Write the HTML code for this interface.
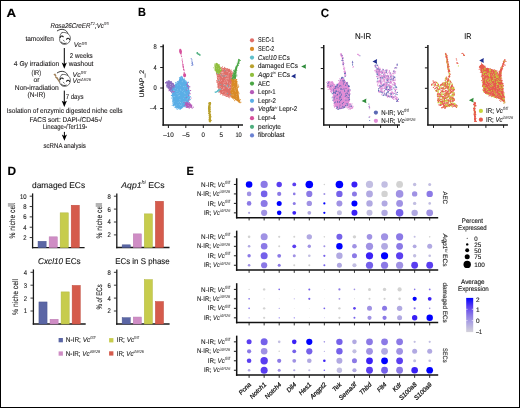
<!DOCTYPE html>
<html><head><meta charset="utf-8"><style>
html,body{margin:0;padding:0;background:#fff;}
body{width:520px;height:408px;overflow:hidden;position:relative;}
svg{position:absolute;left:0;top:0;display:block;will-change:transform;}
text{stroke:#222;stroke-width:0.12px;text-rendering:geometricPrecision;}
#frame{position:absolute;left:0;top:0;width:520px;height:408px;box-sizing:border-box;border:1px solid #000;pointer-events:none;}
</style></head><body>
<svg width="520" height="408" viewBox="0 0 520 408" style="font-family:'Liberation Sans',sans-serif"><text x="6.5" y="17.0" font-size="12" fill="#000" font-weight="bold" textLength="9.6" lengthAdjust="spacingAndGlyphs" style="stroke:#000;stroke-width:0.15px">A</text>
<text x="137.9" y="16.2" font-size="12" fill="#000" font-weight="bold" textLength="7.9" lengthAdjust="spacingAndGlyphs" style="stroke:#000;stroke-width:0.15px">B</text>
<text x="320.7" y="16.9" font-size="12" fill="#000" font-weight="bold" textLength="8.3" lengthAdjust="spacingAndGlyphs" style="stroke:#000;stroke-width:0.15px">C</text>
<text x="7.5" y="174.7" font-size="12" fill="#000" font-weight="bold" textLength="8.6" lengthAdjust="spacingAndGlyphs" style="stroke:#000;stroke-width:0.15px">D</text>
<text x="186.5" y="174.8" font-size="12" fill="#000" font-weight="bold" textLength="7.3" lengthAdjust="spacingAndGlyphs" style="stroke:#000;stroke-width:0.15px">E</text>
<text x="50.4" y="27.9" font-size="7.0" fill="#231f20" textLength="58.4" lengthAdjust="spacingAndGlyphs"><tspan font-style="italic">Rosa26CreER</tspan><tspan font-size="4.3" dy="-2.6" font-style="italic" style="stroke:none">T2</tspan><tspan dy="2.6" font-style="italic">;Vc</tspan><tspan font-size="4.3" dy="-2.6" font-style="italic" style="stroke:none">fl/fl</tspan></text>
<text x="25.4" y="40.5" font-size="7.0" fill="#231f20" textLength="28.4" lengthAdjust="spacingAndGlyphs">tamoxifen</text>
<text x="73.8" y="47.4" font-size="7.0" fill="#231f20" textLength="13.1" lengthAdjust="spacingAndGlyphs"><tspan font-style="italic">Vc</tspan><tspan font-size="4.3" dy="-2.6" font-style="italic" style="stroke:none">fl/fl</tspan></text>
<text x="69.7" y="58.3" font-size="7.0" fill="#231f20" textLength="23.0" lengthAdjust="spacingAndGlyphs">2 weeks</text>
<text x="68.8" y="65.6" font-size="7.0" fill="#231f20" textLength="24.6" lengthAdjust="spacingAndGlyphs">washout</text>
<text x="13.8" y="65.9" font-size="7.0" fill="#231f20" textLength="45.5" lengthAdjust="spacingAndGlyphs">4 Gy irradiation</text>
<text x="31.6" y="74.7" font-size="7.0" fill="#231f20" textLength="9.5" lengthAdjust="spacingAndGlyphs">(IR)</text>
<text x="33.4" y="81.6" font-size="7.0" fill="#231f20" textLength="6.0" lengthAdjust="spacingAndGlyphs">or</text>
<text x="14.8" y="89.8" font-size="7.0" fill="#231f20" textLength="44.0" lengthAdjust="spacingAndGlyphs">Non-irradiation</text>
<text x="27.6" y="96.8" font-size="7.0" fill="#231f20" textLength="17.9" lengthAdjust="spacingAndGlyphs">(N-IR)</text>
<text x="72.6" y="76.7" font-size="7.0" fill="#231f20" textLength="13.5" lengthAdjust="spacingAndGlyphs"><tspan font-style="italic">Vc</tspan><tspan font-size="4.3" dy="-2.6" font-style="italic" style="stroke:none">fl/fl</tspan></text>
<text x="72.6" y="83.3" font-size="7.0" fill="#231f20" textLength="18.4" lengthAdjust="spacingAndGlyphs"><tspan font-style="italic">Vc</tspan><tspan font-size="4.3" dy="-2.6" font-style="italic" style="stroke:none">i&#916;R26</tspan></text>
<text x="65.7" y="98.5" font-size="7.0" fill="#231f20" textLength="17.8" lengthAdjust="spacingAndGlyphs">7 days</text>
<text x="6.8" y="113.4" font-size="7.0" fill="#231f20" textLength="115.7" lengthAdjust="spacingAndGlyphs">Isolation of enzymic digested niche cells</text>
<text x="29.4" y="121.6" font-size="7.0" fill="#231f20" textLength="72.7" lengthAdjust="spacingAndGlyphs">FACS sort: DAPI-/CD45-/</text>
<text x="42.7" y="128.6" font-size="7.0" fill="#231f20" textLength="44.6" lengthAdjust="spacingAndGlyphs">Lineage-/Ter119-</text>
<text x="43.5" y="148.1" font-size="7.0" fill="#231f20" textLength="42.4" lengthAdjust="spacingAndGlyphs">scRNA analysis</text>
<line x1="64.3" y1="48.0" x2="64.3" y2="64.8" stroke="#000" stroke-width="1"/>
<path d="M61.699999999999996,62.599999999999994 L64.3,64.0 L66.89999999999999,62.599999999999994 L64.3,68.8 Z" fill="#000"/>
<line x1="64.3" y1="90.6" x2="64.3" y2="102.9" stroke="#000" stroke-width="1"/>
<path d="M61.699999999999996,100.7 L64.3,102.10000000000001 L66.89999999999999,100.7 L64.3,106.9 Z" fill="#000"/>
<line x1="64.4" y1="131.9" x2="64.4" y2="136.7" stroke="#000" stroke-width="1"/>
<path d="M61.800000000000004,134.5 L64.4,135.89999999999998 L67.0,134.5 L64.4,140.7 Z" fill="#000"/>
<g transform="translate(0,0)" fill="none" stroke="#111" stroke-linecap="round"><path d="M57.3,30.8 C59.5,29.2 62.5,28.9 64.5,29.9 C66,30.5 67.2,31.7 67.8,33.2" stroke-width="0.95" stroke="#333"/><path d="M62,32.6 C66,31.6 70.4,34.2 70.4,38.2 C70.4,42 67.5,44.6 64.2,44.4 C61,44.2 59.3,41.6 59.6,38.6 C59.8,35.6 60.6,33.2 62,32.6" stroke-width="0.65" stroke="#222"/><path d="M60.2,37.4 C60.8,35.8 62.6,35.6 63.2,36.8" stroke-width="1.1"/><path d="M66.6,39.2 C67.3,37.8 69.2,37.9 69.6,39.4" stroke-width="1.1"/><path d="M61.3,42.2 C62.5,43.6 64.6,43.9 66.2,43.2" stroke-width="0.8"/><path d="M63.4,40.2 L64.2,41.2" stroke-width="0.6"/></g>
<g transform="translate(0,42.0)" fill="none" stroke="#111" stroke-linecap="round"><path d="M57.3,30.8 C59.5,29.2 62.5,28.9 64.5,29.9 C66,30.5 67.2,31.7 67.8,33.2" stroke-width="0.95" stroke="#333"/><path d="M62,32.6 C66,31.6 70.4,34.2 70.4,38.2 C70.4,42 67.5,44.6 64.2,44.4 C61,44.2 59.3,41.6 59.6,38.6 C59.8,35.6 60.6,33.2 62,32.6" stroke-width="0.65" stroke="#222"/><path d="M60.2,37.4 C60.8,35.8 62.6,35.6 63.2,36.8" stroke-width="1.1"/><path d="M66.6,39.2 C67.3,37.8 69.2,37.9 69.6,39.4" stroke-width="1.1"/><path d="M61.3,42.2 C62.5,43.6 64.6,43.9 66.2,43.2" stroke-width="0.8"/><path d="M63.4,40.2 L64.2,41.2" stroke-width="0.6"/></g>
<path d="M53.4,74.2 L55.2,73.4 L56.4,75.6 L56.0,76.4 L57.8,77.6 L60.0,82.2 L59.2,82.4 L56.4,78.6 L55.2,77.8 L55.4,76.6 Z" fill="#a08058"/>
<path d="M166.20,82.40 L168.00,80.60 L170.60,81.20 L173.00,83.20 L174.80,86.00 L175.20,89.60 L173.40,91.40 L170.60,91.00 L168.40,88.80 L166.60,85.80 Z" fill="#8c6cbe"/>
<g fill="#8c6cbe"><circle cx="169.29" cy="88.34" r="0.55"/><circle cx="169.18" cy="89.70" r="0.55"/><circle cx="167.28" cy="87.14" r="0.55"/><circle cx="170.78" cy="90.87" r="0.55"/><circle cx="166.79" cy="81.70" r="0.55"/><circle cx="165.60" cy="82.86" r="0.55"/><circle cx="168.31" cy="81.02" r="0.55"/><circle cx="167.26" cy="81.65" r="0.55"/><circle cx="173.52" cy="84.15" r="0.55"/><circle cx="168.85" cy="82.76" r="0.55"/><circle cx="169.68" cy="81.39" r="0.55"/><circle cx="174.57" cy="86.01" r="0.55"/><circle cx="169.15" cy="82.01" r="0.55"/><circle cx="166.75" cy="81.94" r="0.55"/><circle cx="170.48" cy="91.14" r="0.55"/><circle cx="174.37" cy="85.61" r="0.55"/><circle cx="174.12" cy="90.29" r="0.55"/><circle cx="171.35" cy="81.81" r="0.55"/><circle cx="169.65" cy="90.39" r="0.55"/><circle cx="174.84" cy="85.39" r="0.55"/><circle cx="172.74" cy="91.54" r="0.55"/><circle cx="175.87" cy="89.00" r="0.55"/><circle cx="165.73" cy="82.69" r="0.55"/><circle cx="166.94" cy="85.43" r="0.55"/><circle cx="174.01" cy="85.37" r="0.55"/><circle cx="173.81" cy="91.76" r="0.55"/><circle cx="172.51" cy="83.81" r="0.55"/><circle cx="172.19" cy="83.19" r="0.55"/><circle cx="173.57" cy="92.32" r="0.55"/><circle cx="166.83" cy="85.79" r="0.55"/><circle cx="169.13" cy="87.86" r="0.55"/><circle cx="166.82" cy="85.61" r="0.55"/><circle cx="166.73" cy="86.77" r="0.55"/><circle cx="175.50" cy="87.16" r="0.55"/><circle cx="168.05" cy="88.07" r="0.55"/><circle cx="173.43" cy="83.92" r="0.55"/><circle cx="169.05" cy="80.58" r="0.55"/><circle cx="165.97" cy="82.50" r="0.55"/><circle cx="166.03" cy="82.61" r="0.55"/><circle cx="171.21" cy="81.84" r="0.55"/></g>
<g fill="#ffffff" fill-opacity="0.35"><circle cx="169.18" cy="88.52" r="0.45"/><circle cx="170.90" cy="90.83" r="0.45"/><circle cx="171.51" cy="90.57" r="0.45"/><circle cx="170.47" cy="84.46" r="0.45"/><circle cx="169.01" cy="80.96" r="0.45"/><circle cx="166.81" cy="83.96" r="0.45"/><circle cx="167.43" cy="81.38" r="0.45"/><circle cx="170.28" cy="84.57" r="0.45"/><circle cx="166.96" cy="85.71" r="0.45"/><circle cx="172.16" cy="84.70" r="0.45"/><circle cx="167.02" cy="81.85" r="0.45"/><circle cx="168.51" cy="85.10" r="0.45"/><circle cx="172.45" cy="85.54" r="0.45"/><circle cx="170.36" cy="86.45" r="0.45"/><circle cx="170.87" cy="86.16" r="0.45"/></g>
<path d="M181.00,76.00 L182.60,77.40 L184.40,80.00 L186.80,82.60 L188.80,86.50 L189.50,91.00 L189.30,96.00 L189.50,100.00 L187.40,104.00 L184.00,106.80 L180.20,108.80 L176.50,108.00 L173.40,105.00 L172.40,100.00 L172.00,95.00 L172.80,90.00 L174.20,87.00 L175.80,84.60 L177.80,82.00 L179.60,78.80 Z" fill="#5aaee6"/>
<g fill="#5aaee6"><circle cx="181.32" cy="108.05" r="0.55"/><circle cx="186.86" cy="83.72" r="0.55"/><circle cx="184.15" cy="106.74" r="0.55"/><circle cx="180.46" cy="79.28" r="0.55"/><circle cx="172.43" cy="93.07" r="0.55"/><circle cx="185.82" cy="104.97" r="0.55"/><circle cx="188.93" cy="100.00" r="0.55"/><circle cx="179.76" cy="109.01" r="0.55"/><circle cx="184.30" cy="79.11" r="0.55"/><circle cx="188.24" cy="91.79" r="0.55"/><circle cx="171.43" cy="97.98" r="0.55"/><circle cx="180.36" cy="77.60" r="0.55"/><circle cx="179.47" cy="77.99" r="0.55"/><circle cx="180.81" cy="107.79" r="0.55"/><circle cx="173.97" cy="102.89" r="0.55"/><circle cx="188.32" cy="101.60" r="0.55"/><circle cx="187.14" cy="83.76" r="0.55"/><circle cx="173.38" cy="104.79" r="0.55"/><circle cx="172.95" cy="88.33" r="0.55"/><circle cx="177.42" cy="83.14" r="0.55"/><circle cx="175.44" cy="106.17" r="0.55"/><circle cx="189.73" cy="91.81" r="0.55"/><circle cx="185.81" cy="80.73" r="0.55"/><circle cx="171.51" cy="91.88" r="0.55"/><circle cx="172.48" cy="101.72" r="0.55"/><circle cx="178.27" cy="108.13" r="0.55"/><circle cx="188.48" cy="82.52" r="0.55"/><circle cx="182.08" cy="107.41" r="0.55"/><circle cx="182.07" cy="76.78" r="0.55"/><circle cx="176.45" cy="84.72" r="0.55"/><circle cx="190.37" cy="99.62" r="0.55"/><circle cx="188.92" cy="92.54" r="0.55"/><circle cx="172.13" cy="89.46" r="0.55"/><circle cx="171.42" cy="90.33" r="0.55"/><circle cx="185.57" cy="82.23" r="0.55"/><circle cx="176.03" cy="82.79" r="0.55"/><circle cx="175.66" cy="82.73" r="0.55"/><circle cx="180.75" cy="77.05" r="0.55"/><circle cx="174.07" cy="86.35" r="0.55"/><circle cx="187.70" cy="84.48" r="0.55"/><circle cx="182.73" cy="79.32" r="0.55"/><circle cx="178.30" cy="81.79" r="0.55"/><circle cx="177.59" cy="82.94" r="0.55"/><circle cx="172.85" cy="103.70" r="0.55"/><circle cx="173.18" cy="95.01" r="0.55"/><circle cx="174.98" cy="86.95" r="0.55"/><circle cx="186.98" cy="104.25" r="0.55"/><circle cx="189.78" cy="96.66" r="0.55"/><circle cx="175.09" cy="107.27" r="0.55"/><circle cx="177.60" cy="81.58" r="0.55"/><circle cx="189.53" cy="98.72" r="0.55"/><circle cx="171.56" cy="95.42" r="0.55"/><circle cx="176.02" cy="82.74" r="0.55"/><circle cx="181.22" cy="78.08" r="0.55"/><circle cx="173.51" cy="105.73" r="0.55"/><circle cx="190.49" cy="96.86" r="0.55"/><circle cx="189.58" cy="90.68" r="0.55"/><circle cx="173.59" cy="104.01" r="0.55"/><circle cx="188.26" cy="86.69" r="0.55"/><circle cx="186.70" cy="82.28" r="0.55"/><circle cx="175.22" cy="107.62" r="0.55"/><circle cx="176.29" cy="83.74" r="0.55"/><circle cx="173.63" cy="89.84" r="0.55"/><circle cx="175.29" cy="84.87" r="0.55"/><circle cx="188.11" cy="81.98" r="0.55"/><circle cx="188.51" cy="85.48" r="0.55"/><circle cx="185.95" cy="82.53" r="0.55"/><circle cx="174.90" cy="86.66" r="0.55"/><circle cx="184.37" cy="80.14" r="0.55"/><circle cx="175.36" cy="107.10" r="0.55"/><circle cx="175.36" cy="85.31" r="0.55"/><circle cx="173.09" cy="102.83" r="0.55"/><circle cx="177.16" cy="109.37" r="0.55"/><circle cx="188.37" cy="95.73" r="0.55"/><circle cx="177.29" cy="81.86" r="0.55"/><circle cx="173.58" cy="104.87" r="0.55"/><circle cx="182.73" cy="107.77" r="0.55"/><circle cx="179.47" cy="80.05" r="0.55"/><circle cx="182.33" cy="106.87" r="0.55"/><circle cx="175.31" cy="84.34" r="0.55"/><circle cx="189.55" cy="97.27" r="0.55"/><circle cx="181.50" cy="76.41" r="0.55"/><circle cx="172.67" cy="93.11" r="0.55"/><circle cx="173.37" cy="105.39" r="0.55"/><circle cx="176.73" cy="108.29" r="0.55"/><circle cx="179.81" cy="79.64" r="0.55"/><circle cx="185.05" cy="80.23" r="0.55"/><circle cx="172.80" cy="100.87" r="0.55"/><circle cx="188.61" cy="95.09" r="0.55"/><circle cx="171.43" cy="95.60" r="0.55"/><circle cx="179.42" cy="77.81" r="0.55"/><circle cx="185.31" cy="106.42" r="0.55"/><circle cx="184.00" cy="106.13" r="0.55"/><circle cx="189.35" cy="92.88" r="0.55"/><circle cx="179.00" cy="108.71" r="0.55"/><circle cx="180.41" cy="108.42" r="0.55"/><circle cx="173.16" cy="89.08" r="0.55"/><circle cx="188.57" cy="85.65" r="0.55"/><circle cx="188.81" cy="102.92" r="0.55"/><circle cx="172.43" cy="94.01" r="0.55"/><circle cx="188.12" cy="87.35" r="0.55"/><circle cx="171.95" cy="91.35" r="0.55"/><circle cx="172.21" cy="105.30" r="0.55"/><circle cx="181.23" cy="108.54" r="0.55"/><circle cx="180.65" cy="108.00" r="0.55"/><circle cx="185.19" cy="104.87" r="0.55"/><circle cx="189.43" cy="98.18" r="0.55"/><circle cx="188.24" cy="101.71" r="0.55"/><circle cx="184.16" cy="79.06" r="0.55"/><circle cx="182.55" cy="77.29" r="0.55"/><circle cx="186.49" cy="81.80" r="0.55"/><circle cx="187.74" cy="102.97" r="0.55"/><circle cx="189.07" cy="97.36" r="0.55"/><circle cx="185.36" cy="82.42" r="0.55"/><circle cx="189.38" cy="97.23" r="0.55"/><circle cx="188.12" cy="86.80" r="0.55"/><circle cx="179.18" cy="107.54" r="0.55"/><circle cx="189.25" cy="93.32" r="0.55"/><circle cx="180.52" cy="109.09" r="0.55"/><circle cx="172.94" cy="87.79" r="0.55"/></g>
<g fill="#ffffff" fill-opacity="0.35"><circle cx="187.94" cy="95.80" r="0.45"/><circle cx="184.16" cy="92.23" r="0.45"/><circle cx="185.37" cy="86.76" r="0.45"/><circle cx="183.50" cy="86.73" r="0.45"/><circle cx="187.86" cy="86.58" r="0.45"/><circle cx="179.72" cy="95.51" r="0.45"/><circle cx="187.79" cy="98.54" r="0.45"/><circle cx="176.89" cy="93.39" r="0.45"/><circle cx="189.37" cy="91.03" r="0.45"/><circle cx="184.77" cy="92.93" r="0.45"/><circle cx="173.48" cy="103.18" r="0.45"/><circle cx="172.42" cy="98.21" r="0.45"/><circle cx="182.23" cy="102.11" r="0.45"/><circle cx="184.93" cy="88.08" r="0.45"/><circle cx="178.83" cy="81.08" r="0.45"/><circle cx="182.34" cy="81.82" r="0.45"/><circle cx="173.57" cy="90.90" r="0.45"/><circle cx="186.96" cy="102.63" r="0.45"/><circle cx="179.40" cy="95.09" r="0.45"/><circle cx="177.35" cy="93.89" r="0.45"/><circle cx="177.85" cy="84.98" r="0.45"/><circle cx="172.45" cy="97.44" r="0.45"/><circle cx="173.71" cy="102.77" r="0.45"/><circle cx="179.39" cy="99.36" r="0.45"/><circle cx="180.56" cy="105.77" r="0.45"/><circle cx="177.92" cy="91.06" r="0.45"/><circle cx="178.13" cy="102.48" r="0.45"/><circle cx="180.54" cy="102.40" r="0.45"/><circle cx="173.27" cy="96.28" r="0.45"/><circle cx="172.81" cy="100.83" r="0.45"/><circle cx="173.56" cy="91.24" r="0.45"/><circle cx="181.47" cy="76.80" r="0.45"/><circle cx="174.84" cy="96.83" r="0.45"/><circle cx="183.97" cy="86.52" r="0.45"/><circle cx="178.81" cy="93.35" r="0.45"/><circle cx="176.80" cy="105.06" r="0.45"/><circle cx="180.25" cy="99.97" r="0.45"/><circle cx="180.42" cy="102.25" r="0.45"/><circle cx="177.47" cy="82.48" r="0.45"/><circle cx="178.29" cy="95.30" r="0.45"/><circle cx="182.50" cy="91.48" r="0.45"/><circle cx="180.90" cy="90.50" r="0.45"/><circle cx="187.65" cy="89.20" r="0.45"/><circle cx="182.97" cy="106.90" r="0.45"/><circle cx="181.63" cy="103.99" r="0.45"/><circle cx="180.48" cy="89.21" r="0.45"/><circle cx="188.72" cy="97.66" r="0.45"/><circle cx="187.10" cy="89.10" r="0.45"/><circle cx="185.91" cy="101.39" r="0.45"/><circle cx="179.88" cy="84.09" r="0.45"/><circle cx="179.38" cy="104.69" r="0.45"/><circle cx="179.28" cy="101.32" r="0.45"/><circle cx="174.53" cy="105.79" r="0.45"/><circle cx="184.98" cy="96.32" r="0.45"/><circle cx="181.03" cy="77.74" r="0.45"/><circle cx="182.01" cy="81.85" r="0.45"/><circle cx="175.58" cy="106.05" r="0.45"/><circle cx="178.16" cy="96.17" r="0.45"/><circle cx="181.24" cy="105.18" r="0.45"/><circle cx="185.10" cy="93.82" r="0.45"/><circle cx="180.85" cy="76.62" r="0.45"/><circle cx="183.94" cy="101.63" r="0.45"/><circle cx="179.23" cy="92.21" r="0.45"/><circle cx="177.53" cy="89.30" r="0.45"/><circle cx="183.68" cy="98.17" r="0.45"/><circle cx="185.07" cy="101.73" r="0.45"/><circle cx="174.13" cy="90.61" r="0.45"/><circle cx="187.11" cy="99.35" r="0.45"/><circle cx="180.32" cy="85.63" r="0.45"/><circle cx="173.98" cy="101.32" r="0.45"/><circle cx="186.98" cy="103.70" r="0.45"/><circle cx="184.59" cy="105.57" r="0.45"/><circle cx="174.66" cy="96.59" r="0.45"/><circle cx="188.41" cy="100.59" r="0.45"/><circle cx="188.70" cy="100.76" r="0.45"/><circle cx="181.72" cy="78.85" r="0.45"/><circle cx="175.30" cy="88.35" r="0.45"/><circle cx="176.79" cy="91.41" r="0.45"/><circle cx="183.21" cy="90.66" r="0.45"/><circle cx="182.88" cy="80.31" r="0.45"/></g>
<path d="M192.04,107.01 L191.53,107.56 L190.67,107.85 L189.55,107.85 L188.32,107.55 L187.13,107.00 L186.11,106.25 L185.39,105.39 L185.06,104.54 L185.16,103.79 L185.67,103.24 L186.53,102.95 L187.65,102.95 L188.88,103.25 L190.07,103.80 L191.09,104.55 L191.81,105.41 L192.14,106.26 Z" fill="#b45ab8"/>
<g fill="#b45ab8"><circle cx="186.09" cy="107.46" r="0.55"/><circle cx="192.15" cy="108.18" r="0.55"/><circle cx="190.47" cy="104.02" r="0.55"/><circle cx="190.22" cy="104.05" r="0.55"/><circle cx="186.97" cy="107.42" r="0.55"/><circle cx="189.51" cy="102.84" r="0.55"/><circle cx="186.72" cy="102.17" r="0.55"/><circle cx="191.57" cy="105.86" r="0.55"/><circle cx="189.71" cy="104.34" r="0.55"/><circle cx="185.33" cy="103.13" r="0.55"/><circle cx="191.56" cy="106.78" r="0.55"/><circle cx="191.65" cy="105.68" r="0.55"/><circle cx="191.79" cy="105.01" r="0.55"/><circle cx="191.80" cy="107.57" r="0.55"/><circle cx="184.80" cy="105.23" r="0.55"/><circle cx="189.24" cy="108.32" r="0.55"/><circle cx="188.95" cy="107.31" r="0.55"/><circle cx="193.21" cy="107.14" r="0.55"/><circle cx="187.21" cy="106.26" r="0.55"/><circle cx="188.38" cy="107.08" r="0.55"/><circle cx="185.87" cy="102.48" r="0.55"/><circle cx="186.75" cy="105.99" r="0.55"/><circle cx="189.17" cy="102.90" r="0.55"/><circle cx="187.53" cy="106.59" r="0.55"/><circle cx="187.81" cy="102.41" r="0.55"/><circle cx="186.63" cy="106.91" r="0.55"/><circle cx="187.38" cy="103.26" r="0.55"/><circle cx="187.56" cy="107.20" r="0.55"/><circle cx="191.04" cy="107.23" r="0.55"/><circle cx="190.97" cy="105.17" r="0.55"/></g>
<g fill="#ffffff" fill-opacity="0.35"><circle cx="189.48" cy="106.33" r="0.45"/><circle cx="190.43" cy="106.64" r="0.45"/><circle cx="190.99" cy="107.14" r="0.45"/><circle cx="187.96" cy="105.08" r="0.45"/><circle cx="189.07" cy="107.39" r="0.45"/><circle cx="188.78" cy="105.52" r="0.45"/></g>
<g fill="#b45ab8"><circle cx="191.11" cy="97.95" r="0.5"/><circle cx="190.41" cy="93.87" r="0.5"/><circle cx="189.23" cy="99.68" r="0.5"/><circle cx="187.62" cy="83.06" r="0.5"/><circle cx="186.28" cy="97.59" r="0.5"/><circle cx="186.47" cy="103.31" r="0.5"/><circle cx="190.71" cy="90.45" r="0.5"/><circle cx="186.42" cy="90.07" r="0.5"/><circle cx="183.97" cy="102.15" r="0.5"/><circle cx="189.76" cy="86.95" r="0.5"/><circle cx="187.78" cy="85.64" r="0.5"/><circle cx="189.24" cy="92.89" r="0.5"/><circle cx="186.75" cy="84.62" r="0.5"/><circle cx="188.84" cy="87.98" r="0.5"/><circle cx="187.43" cy="85.03" r="0.5"/><circle cx="190.35" cy="90.57" r="0.5"/><circle cx="189.72" cy="86.46" r="0.5"/><circle cx="187.58" cy="82.73" r="0.5"/><circle cx="188.49" cy="95.13" r="0.5"/><circle cx="188.72" cy="100.42" r="0.5"/><circle cx="187.59" cy="86.52" r="0.5"/><circle cx="189.23" cy="94.93" r="0.5"/><circle cx="184.30" cy="105.86" r="0.5"/><circle cx="188.51" cy="88.68" r="0.5"/><circle cx="188.81" cy="86.78" r="0.5"/></g>
<g fill="#b45ab8"><circle cx="171.81" cy="91.89" r="0.5"/><circle cx="171.84" cy="91.84" r="0.5"/><circle cx="168.94" cy="90.66" r="0.5"/><circle cx="173.69" cy="92.04" r="0.5"/><circle cx="172.95" cy="91.49" r="0.5"/><circle cx="171.51" cy="92.79" r="0.5"/><circle cx="169.99" cy="89.77" r="0.5"/><circle cx="173.98" cy="91.58" r="0.5"/><circle cx="169.30" cy="89.01" r="0.5"/><circle cx="174.42" cy="86.82" r="0.5"/></g>
<g fill="#d6509c"><circle cx="180.73" cy="54.03" r="0.45"/><circle cx="182.54" cy="60.06" r="0.45"/><circle cx="182.65" cy="64.08" r="0.45"/><circle cx="184.14" cy="72.33" r="0.45"/><circle cx="183.13" cy="67.74" r="0.45"/><circle cx="183.05" cy="65.20" r="0.45"/><circle cx="183.27" cy="66.70" r="0.45"/><circle cx="182.70" cy="62.88" r="0.45"/><circle cx="183.74" cy="68.47" r="0.45"/><circle cx="183.82" cy="69.64" r="0.45"/><circle cx="183.81" cy="69.78" r="0.45"/><circle cx="184.02" cy="72.98" r="0.45"/><circle cx="183.33" cy="66.93" r="0.45"/><circle cx="184.56" cy="75.81" r="0.45"/><circle cx="181.11" cy="53.64" r="0.45"/><circle cx="182.00" cy="60.26" r="0.45"/><circle cx="183.62" cy="67.00" r="0.45"/><circle cx="183.12" cy="64.50" r="0.45"/><circle cx="183.77" cy="69.82" r="0.45"/><circle cx="181.16" cy="55.19" r="0.45"/><circle cx="181.61" cy="56.69" r="0.45"/><circle cx="183.99" cy="69.76" r="0.45"/><circle cx="183.21" cy="67.44" r="0.45"/><circle cx="183.63" cy="69.16" r="0.45"/><circle cx="184.17" cy="72.14" r="0.45"/><circle cx="184.29" cy="70.78" r="0.45"/><circle cx="183.01" cy="64.38" r="0.45"/><circle cx="182.55" cy="61.50" r="0.45"/><circle cx="182.07" cy="58.34" r="0.45"/><circle cx="183.28" cy="66.75" r="0.45"/><circle cx="182.77" cy="63.34" r="0.45"/><circle cx="183.51" cy="69.25" r="0.45"/><circle cx="183.63" cy="69.36" r="0.45"/><circle cx="183.94" cy="70.59" r="0.45"/><circle cx="183.09" cy="66.91" r="0.45"/><circle cx="182.73" cy="65.01" r="0.45"/><circle cx="184.54" cy="76.18" r="0.45"/><circle cx="182.98" cy="65.06" r="0.45"/><circle cx="181.18" cy="54.60" r="0.45"/><circle cx="184.64" cy="74.93" r="0.45"/><circle cx="184.83" cy="75.80" r="0.45"/><circle cx="185.00" cy="75.88" r="0.45"/><circle cx="183.39" cy="67.14" r="0.45"/><circle cx="184.18" cy="73.02" r="0.45"/><circle cx="182.41" cy="62.50" r="0.45"/><circle cx="181.99" cy="59.86" r="0.45"/><circle cx="184.48" cy="75.22" r="0.45"/><circle cx="181.42" cy="56.28" r="0.45"/><circle cx="182.92" cy="66.55" r="0.45"/><circle cx="183.18" cy="66.06" r="0.45"/><circle cx="184.15" cy="74.43" r="0.45"/><circle cx="181.74" cy="56.64" r="0.45"/><circle cx="184.17" cy="73.14" r="0.45"/><circle cx="182.41" cy="61.52" r="0.45"/><circle cx="180.84" cy="53.63" r="0.45"/></g>
<path d="M181.84,51.21 L181.88,52.14 L181.77,52.97 L181.49,53.62 L181.10,54.00 L180.64,54.07 L180.16,53.81 L179.72,53.26 L179.37,52.49 L179.16,51.59 L179.12,50.66 L179.23,49.83 L179.51,49.18 L179.90,48.80 L180.36,48.73 L180.84,48.99 L181.28,49.54 L181.63,50.31 Z" fill="#d6509c"/>
<path d="M186.10,75.20 L186.01,75.88 L185.75,76.49 L185.35,76.93 L184.86,77.17 L184.34,77.17 L183.85,76.93 L183.45,76.49 L183.19,75.88 L183.10,75.20 L183.19,74.52 L183.45,73.91 L183.85,73.47 L184.34,73.23 L184.86,73.23 L185.35,73.47 L185.75,73.91 L186.01,74.52 Z" fill="#d6509c"/>
<g fill="#6b82d2"><circle cx="192.48" cy="64.70" r="0.45"/><circle cx="192.93" cy="64.71" r="0.45"/><circle cx="192.26" cy="63.03" r="0.45"/><circle cx="192.91" cy="64.34" r="0.45"/><circle cx="192.29" cy="63.30" r="0.45"/><circle cx="191.91" cy="59.50" r="0.45"/><circle cx="192.03" cy="61.57" r="0.45"/><circle cx="191.26" cy="58.53" r="0.45"/><circle cx="191.59" cy="63.38" r="0.45"/><circle cx="192.22" cy="62.39" r="0.45"/><circle cx="192.64" cy="62.74" r="0.45"/><circle cx="192.36" cy="63.49" r="0.45"/><circle cx="191.03" cy="58.70" r="0.45"/><circle cx="192.47" cy="64.14" r="0.45"/><circle cx="191.87" cy="60.05" r="0.45"/><circle cx="191.85" cy="65.21" r="0.45"/><circle cx="191.91" cy="65.19" r="0.45"/><circle cx="191.91" cy="61.85" r="0.45"/><circle cx="191.99" cy="60.14" r="0.45"/><circle cx="192.85" cy="65.37" r="0.45"/><circle cx="192.56" cy="63.10" r="0.45"/><circle cx="192.01" cy="62.17" r="0.45"/></g>
<g fill="#4fae7e"><circle cx="197.09" cy="53.42" r="0.5"/><circle cx="197.76" cy="53.07" r="0.5"/><circle cx="199.23" cy="54.82" r="0.5"/><circle cx="198.93" cy="53.93" r="0.5"/><circle cx="198.56" cy="53.88" r="0.5"/><circle cx="197.99" cy="54.12" r="0.5"/><circle cx="199.09" cy="53.88" r="0.5"/><circle cx="198.37" cy="54.15" r="0.5"/><circle cx="197.99" cy="53.94" r="0.5"/><circle cx="197.36" cy="52.81" r="0.5"/><circle cx="197.16" cy="53.42" r="0.5"/><circle cx="199.89" cy="55.13" r="0.5"/><circle cx="197.05" cy="52.52" r="0.5"/><circle cx="199.60" cy="54.86" r="0.5"/><circle cx="197.32" cy="52.58" r="0.5"/><circle cx="200.08" cy="54.94" r="0.5"/><circle cx="197.32" cy="53.02" r="0.5"/><circle cx="199.89" cy="54.62" r="0.5"/></g>
<g fill="#b9a12e"><circle cx="208.86" cy="107.40" r="0.65"/><circle cx="209.64" cy="117.91" r="0.65"/><circle cx="209.07" cy="111.92" r="0.65"/><circle cx="210.22" cy="120.45" r="0.65"/><circle cx="208.77" cy="106.65" r="0.65"/><circle cx="209.84" cy="120.36" r="0.65"/><circle cx="208.60" cy="109.16" r="0.65"/><circle cx="210.55" cy="116.12" r="0.65"/><circle cx="210.15" cy="120.00" r="0.65"/><circle cx="210.35" cy="117.98" r="0.65"/><circle cx="209.99" cy="118.94" r="0.65"/><circle cx="208.54" cy="108.34" r="0.65"/><circle cx="210.08" cy="104.79" r="0.65"/><circle cx="209.76" cy="120.05" r="0.65"/><circle cx="209.49" cy="109.70" r="0.65"/><circle cx="210.25" cy="118.81" r="0.65"/><circle cx="209.38" cy="119.60" r="0.65"/><circle cx="209.34" cy="103.75" r="0.65"/><circle cx="209.22" cy="109.64" r="0.65"/><circle cx="209.00" cy="108.14" r="0.65"/><circle cx="210.51" cy="114.75" r="0.65"/><circle cx="209.83" cy="109.83" r="0.65"/><circle cx="209.04" cy="102.90" r="0.65"/><circle cx="209.79" cy="116.12" r="0.65"/><circle cx="209.61" cy="103.30" r="0.65"/><circle cx="209.59" cy="112.93" r="0.65"/><circle cx="209.83" cy="103.73" r="0.65"/><circle cx="210.48" cy="111.35" r="0.65"/><circle cx="208.96" cy="109.88" r="0.65"/><circle cx="210.15" cy="117.98" r="0.65"/><circle cx="209.75" cy="111.99" r="0.65"/><circle cx="208.81" cy="111.61" r="0.65"/><circle cx="209.31" cy="107.62" r="0.65"/><circle cx="209.31" cy="107.39" r="0.65"/><circle cx="209.54" cy="120.38" r="0.65"/><circle cx="209.54" cy="121.42" r="0.65"/><circle cx="210.02" cy="118.86" r="0.65"/><circle cx="209.25" cy="117.32" r="0.65"/><circle cx="209.66" cy="119.55" r="0.65"/><circle cx="209.69" cy="115.81" r="0.65"/><circle cx="209.97" cy="104.45" r="0.65"/><circle cx="209.75" cy="102.76" r="0.65"/><circle cx="209.61" cy="110.07" r="0.65"/><circle cx="209.42" cy="105.41" r="0.65"/><circle cx="209.09" cy="108.84" r="0.65"/><circle cx="209.66" cy="115.78" r="0.65"/><circle cx="209.69" cy="110.43" r="0.65"/><circle cx="209.55" cy="109.50" r="0.65"/><circle cx="210.13" cy="114.88" r="0.65"/><circle cx="209.57" cy="109.43" r="0.65"/><circle cx="210.84" cy="116.58" r="0.65"/><circle cx="209.23" cy="119.43" r="0.65"/><circle cx="210.10" cy="119.57" r="0.65"/><circle cx="209.05" cy="108.39" r="0.65"/><circle cx="210.18" cy="115.52" r="0.65"/><circle cx="210.12" cy="103.22" r="0.65"/><circle cx="209.73" cy="111.73" r="0.65"/><circle cx="209.90" cy="109.11" r="0.65"/><circle cx="209.36" cy="115.91" r="0.65"/><circle cx="209.69" cy="107.31" r="0.65"/><circle cx="210.08" cy="115.60" r="0.65"/><circle cx="209.29" cy="105.94" r="0.65"/><circle cx="209.73" cy="113.33" r="0.65"/><circle cx="208.96" cy="104.82" r="0.65"/><circle cx="209.65" cy="104.83" r="0.65"/><circle cx="209.94" cy="116.75" r="0.65"/><circle cx="209.20" cy="106.27" r="0.65"/><circle cx="209.78" cy="114.43" r="0.65"/><circle cx="209.47" cy="121.30" r="0.65"/><circle cx="209.67" cy="111.54" r="0.65"/><circle cx="210.80" cy="120.37" r="0.65"/><circle cx="209.44" cy="107.59" r="0.65"/><circle cx="209.40" cy="115.35" r="0.65"/><circle cx="209.42" cy="109.89" r="0.65"/><circle cx="209.72" cy="105.47" r="0.65"/><circle cx="209.90" cy="121.75" r="0.65"/><circle cx="209.52" cy="109.32" r="0.65"/><circle cx="209.32" cy="112.86" r="0.65"/><circle cx="210.48" cy="119.94" r="0.65"/><circle cx="209.86" cy="118.55" r="0.65"/><circle cx="209.94" cy="103.73" r="0.65"/><circle cx="208.94" cy="110.93" r="0.65"/><circle cx="209.90" cy="106.75" r="0.65"/><circle cx="210.06" cy="116.37" r="0.65"/><circle cx="209.38" cy="113.60" r="0.65"/><circle cx="209.67" cy="115.50" r="0.65"/><circle cx="209.69" cy="119.21" r="0.65"/><circle cx="209.09" cy="110.99" r="0.65"/><circle cx="210.54" cy="119.78" r="0.65"/><circle cx="210.28" cy="119.47" r="0.65"/><circle cx="209.94" cy="119.55" r="0.65"/><circle cx="209.71" cy="107.65" r="0.65"/><circle cx="209.48" cy="110.15" r="0.65"/><circle cx="209.09" cy="108.63" r="0.65"/><circle cx="209.34" cy="113.11" r="0.65"/><circle cx="209.46" cy="113.25" r="0.65"/><circle cx="209.91" cy="117.15" r="0.65"/><circle cx="209.34" cy="115.45" r="0.65"/><circle cx="209.54" cy="105.10" r="0.65"/><circle cx="209.55" cy="117.71" r="0.65"/><circle cx="209.84" cy="103.02" r="0.65"/><circle cx="209.84" cy="109.24" r="0.65"/><circle cx="209.65" cy="106.57" r="0.65"/><circle cx="209.45" cy="114.38" r="0.65"/><circle cx="209.77" cy="106.06" r="0.65"/><circle cx="209.37" cy="108.03" r="0.65"/><circle cx="208.70" cy="113.53" r="0.65"/><circle cx="209.24" cy="120.67" r="0.65"/><circle cx="209.82" cy="120.73" r="0.65"/><circle cx="209.63" cy="112.85" r="0.65"/><circle cx="210.15" cy="102.90" r="0.65"/><circle cx="209.03" cy="113.21" r="0.65"/><circle cx="209.86" cy="119.59" r="0.65"/><circle cx="210.23" cy="103.69" r="0.65"/><circle cx="208.83" cy="107.50" r="0.65"/><circle cx="208.96" cy="107.12" r="0.65"/><circle cx="209.59" cy="108.38" r="0.65"/><circle cx="209.86" cy="112.69" r="0.65"/><circle cx="210.65" cy="117.20" r="0.65"/><circle cx="210.91" cy="120.54" r="0.65"/><circle cx="209.25" cy="110.33" r="0.65"/><circle cx="210.10" cy="119.83" r="0.65"/><circle cx="209.59" cy="105.12" r="0.65"/><circle cx="209.43" cy="108.67" r="0.65"/><circle cx="209.90" cy="107.79" r="0.65"/><circle cx="210.43" cy="121.64" r="0.65"/><circle cx="209.70" cy="108.46" r="0.65"/><circle cx="210.07" cy="103.73" r="0.65"/><circle cx="209.88" cy="107.55" r="0.65"/><circle cx="209.39" cy="106.53" r="0.65"/><circle cx="209.45" cy="104.91" r="0.65"/><circle cx="209.25" cy="108.29" r="0.65"/><circle cx="209.12" cy="105.35" r="0.65"/><circle cx="209.27" cy="109.63" r="0.65"/><circle cx="209.25" cy="110.15" r="0.65"/><circle cx="208.88" cy="103.29" r="0.65"/><circle cx="209.42" cy="118.70" r="0.65"/><circle cx="209.69" cy="117.19" r="0.65"/><circle cx="209.70" cy="103.68" r="0.65"/><circle cx="209.88" cy="113.79" r="0.65"/><circle cx="209.59" cy="111.57" r="0.65"/><circle cx="210.84" cy="120.59" r="0.65"/><circle cx="210.05" cy="119.62" r="0.65"/><circle cx="209.62" cy="118.16" r="0.65"/><circle cx="209.88" cy="120.26" r="0.65"/><circle cx="209.95" cy="119.50" r="0.65"/><circle cx="210.40" cy="102.66" r="0.65"/><circle cx="210.38" cy="116.49" r="0.65"/><circle cx="210.58" cy="103.57" r="0.65"/><circle cx="209.87" cy="114.33" r="0.65"/></g>
<path d="M217.00,69.00 L219.50,68.20 L223.00,68.00 L226.50,68.60 L230.00,69.80 L232.20,72.00 L232.80,75.50 L232.40,79.50 L231.80,85.00 L231.20,91.00 L231.60,97.40 L228.60,96.80 L225.00,95.60 L221.80,94.00 L219.60,92.40 L218.20,89.50 L217.60,86.00 L217.20,81.00 L216.80,75.00 Z" fill="#df6e68"/>
<g fill="#df6e68"><circle cx="221.18" cy="92.95" r="0.55"/><circle cx="218.88" cy="90.11" r="0.55"/><circle cx="217.72" cy="84.27" r="0.55"/><circle cx="216.81" cy="80.81" r="0.55"/><circle cx="231.33" cy="93.74" r="0.55"/><circle cx="230.47" cy="70.78" r="0.55"/><circle cx="231.41" cy="96.60" r="0.55"/><circle cx="222.67" cy="69.20" r="0.55"/><circle cx="219.33" cy="89.59" r="0.55"/><circle cx="232.98" cy="71.82" r="0.55"/><circle cx="231.13" cy="85.98" r="0.55"/><circle cx="230.86" cy="87.89" r="0.55"/><circle cx="219.47" cy="68.46" r="0.55"/><circle cx="232.78" cy="78.99" r="0.55"/><circle cx="217.35" cy="87.01" r="0.55"/><circle cx="222.48" cy="66.91" r="0.55"/><circle cx="231.42" cy="71.80" r="0.55"/><circle cx="225.61" cy="95.74" r="0.55"/><circle cx="221.85" cy="92.89" r="0.55"/><circle cx="219.03" cy="91.25" r="0.55"/><circle cx="233.30" cy="77.07" r="0.55"/><circle cx="233.84" cy="78.28" r="0.55"/><circle cx="229.48" cy="97.72" r="0.55"/><circle cx="231.42" cy="78.40" r="0.55"/><circle cx="217.15" cy="72.39" r="0.55"/><circle cx="226.60" cy="95.84" r="0.55"/><circle cx="225.70" cy="68.37" r="0.55"/><circle cx="230.99" cy="95.99" r="0.55"/><circle cx="231.75" cy="87.79" r="0.55"/><circle cx="218.90" cy="92.19" r="0.55"/><circle cx="217.49" cy="82.55" r="0.55"/><circle cx="231.97" cy="92.76" r="0.55"/><circle cx="224.42" cy="67.18" r="0.55"/><circle cx="224.72" cy="94.95" r="0.55"/><circle cx="224.48" cy="67.86" r="0.55"/><circle cx="232.26" cy="86.48" r="0.55"/><circle cx="231.62" cy="79.06" r="0.55"/><circle cx="232.09" cy="87.28" r="0.55"/><circle cx="217.07" cy="74.04" r="0.55"/><circle cx="232.26" cy="75.50" r="0.55"/><circle cx="217.34" cy="70.33" r="0.55"/><circle cx="219.65" cy="68.58" r="0.55"/><circle cx="232.66" cy="73.30" r="0.55"/><circle cx="223.65" cy="69.71" r="0.55"/><circle cx="223.36" cy="94.99" r="0.55"/><circle cx="230.67" cy="70.36" r="0.55"/><circle cx="222.72" cy="94.94" r="0.55"/><circle cx="216.57" cy="73.53" r="0.55"/><circle cx="224.92" cy="95.46" r="0.55"/><circle cx="231.36" cy="89.59" r="0.55"/><circle cx="227.90" cy="69.42" r="0.55"/><circle cx="225.64" cy="95.76" r="0.55"/><circle cx="227.04" cy="94.92" r="0.55"/><circle cx="227.00" cy="68.68" r="0.55"/><circle cx="216.83" cy="73.23" r="0.55"/><circle cx="230.76" cy="92.95" r="0.55"/><circle cx="220.37" cy="93.99" r="0.55"/><circle cx="232.49" cy="72.92" r="0.55"/><circle cx="229.60" cy="69.27" r="0.55"/><circle cx="216.90" cy="71.22" r="0.55"/><circle cx="228.37" cy="69.41" r="0.55"/><circle cx="229.09" cy="69.41" r="0.55"/><circle cx="217.04" cy="82.38" r="0.55"/><circle cx="217.30" cy="77.24" r="0.55"/><circle cx="221.00" cy="93.67" r="0.55"/><circle cx="221.74" cy="92.67" r="0.55"/><circle cx="216.88" cy="74.73" r="0.55"/><circle cx="227.61" cy="68.80" r="0.55"/><circle cx="232.53" cy="87.16" r="0.55"/><circle cx="224.35" cy="94.48" r="0.55"/><circle cx="220.84" cy="67.82" r="0.55"/><circle cx="223.18" cy="94.41" r="0.55"/><circle cx="229.23" cy="69.96" r="0.55"/><circle cx="232.19" cy="81.48" r="0.55"/><circle cx="226.99" cy="96.38" r="0.55"/><circle cx="216.86" cy="72.89" r="0.55"/><circle cx="226.99" cy="96.03" r="0.55"/><circle cx="221.51" cy="67.47" r="0.55"/><circle cx="228.42" cy="97.09" r="0.55"/><circle cx="231.55" cy="90.59" r="0.55"/><circle cx="226.88" cy="96.13" r="0.55"/><circle cx="225.20" cy="68.30" r="0.55"/><circle cx="221.02" cy="68.55" r="0.55"/><circle cx="230.34" cy="91.38" r="0.55"/><circle cx="224.76" cy="69.04" r="0.55"/><circle cx="218.20" cy="68.35" r="0.55"/><circle cx="216.85" cy="80.92" r="0.55"/><circle cx="223.03" cy="68.83" r="0.55"/><circle cx="231.25" cy="70.07" r="0.55"/><circle cx="228.25" cy="69.84" r="0.55"/></g>
<g fill="#ffffff" fill-opacity="0.45"><circle cx="230.17" cy="96.12" r="0.45"/><circle cx="222.49" cy="92.45" r="0.45"/><circle cx="228.19" cy="88.67" r="0.45"/><circle cx="223.15" cy="88.31" r="0.45"/><circle cx="227.24" cy="71.35" r="0.45"/><circle cx="230.69" cy="70.85" r="0.45"/><circle cx="221.99" cy="72.12" r="0.45"/><circle cx="231.96" cy="72.56" r="0.45"/><circle cx="221.18" cy="79.98" r="0.45"/><circle cx="231.15" cy="95.36" r="0.45"/><circle cx="220.00" cy="88.67" r="0.45"/><circle cx="224.71" cy="80.84" r="0.45"/><circle cx="229.58" cy="83.04" r="0.45"/><circle cx="224.51" cy="84.16" r="0.45"/><circle cx="230.48" cy="90.73" r="0.45"/><circle cx="221.99" cy="68.43" r="0.45"/><circle cx="229.97" cy="87.15" r="0.45"/><circle cx="222.83" cy="91.61" r="0.45"/><circle cx="227.74" cy="81.31" r="0.45"/><circle cx="226.22" cy="81.59" r="0.45"/><circle cx="229.13" cy="72.35" r="0.45"/><circle cx="228.06" cy="79.65" r="0.45"/><circle cx="218.25" cy="82.39" r="0.45"/><circle cx="226.92" cy="78.32" r="0.45"/><circle cx="223.37" cy="69.33" r="0.45"/><circle cx="220.88" cy="75.15" r="0.45"/><circle cx="217.84" cy="73.28" r="0.45"/><circle cx="223.42" cy="83.61" r="0.45"/><circle cx="222.99" cy="71.46" r="0.45"/><circle cx="219.78" cy="86.23" r="0.45"/><circle cx="227.67" cy="82.72" r="0.45"/><circle cx="222.43" cy="72.69" r="0.45"/><circle cx="224.64" cy="82.39" r="0.45"/><circle cx="222.51" cy="76.89" r="0.45"/><circle cx="220.75" cy="72.59" r="0.45"/><circle cx="228.60" cy="78.12" r="0.45"/><circle cx="219.41" cy="73.59" r="0.45"/><circle cx="222.70" cy="77.54" r="0.45"/><circle cx="229.71" cy="85.88" r="0.45"/><circle cx="230.09" cy="96.87" r="0.45"/><circle cx="218.57" cy="78.53" r="0.45"/><circle cx="227.48" cy="76.42" r="0.45"/><circle cx="225.77" cy="75.72" r="0.45"/><circle cx="218.01" cy="68.85" r="0.45"/><circle cx="229.50" cy="95.74" r="0.45"/><circle cx="219.23" cy="79.46" r="0.45"/><circle cx="229.95" cy="84.01" r="0.45"/><circle cx="218.89" cy="70.63" r="0.45"/><circle cx="229.60" cy="72.79" r="0.45"/><circle cx="228.81" cy="88.66" r="0.45"/><circle cx="226.23" cy="86.77" r="0.45"/><circle cx="221.70" cy="80.56" r="0.45"/><circle cx="229.28" cy="87.16" r="0.45"/><circle cx="225.48" cy="82.14" r="0.45"/><circle cx="227.78" cy="78.16" r="0.45"/><circle cx="220.26" cy="86.82" r="0.45"/><circle cx="221.13" cy="89.36" r="0.45"/><circle cx="225.60" cy="84.90" r="0.45"/><circle cx="221.64" cy="68.08" r="0.45"/><circle cx="219.92" cy="78.80" r="0.45"/><circle cx="222.46" cy="72.14" r="0.45"/><circle cx="219.05" cy="80.15" r="0.45"/><circle cx="231.52" cy="83.94" r="0.45"/><circle cx="223.79" cy="87.98" r="0.45"/><circle cx="218.18" cy="88.42" r="0.45"/><circle cx="226.60" cy="95.20" r="0.45"/><circle cx="230.87" cy="70.99" r="0.45"/><circle cx="219.03" cy="73.67" r="0.45"/><circle cx="220.90" cy="74.45" r="0.45"/><circle cx="221.16" cy="72.44" r="0.45"/><circle cx="225.46" cy="93.65" r="0.45"/><circle cx="219.28" cy="80.57" r="0.45"/><circle cx="229.51" cy="85.90" r="0.45"/><circle cx="225.94" cy="94.41" r="0.45"/><circle cx="221.86" cy="72.98" r="0.45"/><circle cx="229.11" cy="72.62" r="0.45"/><circle cx="221.57" cy="76.84" r="0.45"/><circle cx="219.19" cy="73.48" r="0.45"/><circle cx="226.48" cy="92.89" r="0.45"/><circle cx="229.07" cy="87.72" r="0.45"/><circle cx="218.13" cy="78.91" r="0.45"/><circle cx="232.13" cy="74.36" r="0.45"/><circle cx="223.13" cy="74.82" r="0.45"/><circle cx="222.41" cy="74.45" r="0.45"/><circle cx="223.07" cy="94.42" r="0.45"/><circle cx="220.67" cy="69.41" r="0.45"/><circle cx="222.72" cy="89.25" r="0.45"/><circle cx="225.14" cy="78.35" r="0.45"/><circle cx="227.23" cy="95.37" r="0.45"/><circle cx="223.43" cy="73.90" r="0.45"/><circle cx="220.18" cy="81.27" r="0.45"/><circle cx="219.76" cy="87.94" r="0.45"/><circle cx="226.56" cy="85.51" r="0.45"/><circle cx="225.99" cy="84.86" r="0.45"/><circle cx="217.16" cy="77.14" r="0.45"/><circle cx="217.85" cy="82.99" r="0.45"/><circle cx="228.63" cy="74.01" r="0.45"/><circle cx="217.35" cy="75.29" r="0.45"/><circle cx="218.28" cy="88.13" r="0.45"/><circle cx="224.86" cy="80.98" r="0.45"/><circle cx="217.52" cy="84.38" r="0.45"/><circle cx="219.01" cy="87.69" r="0.45"/><circle cx="217.92" cy="70.15" r="0.45"/><circle cx="223.51" cy="87.71" r="0.45"/><circle cx="225.80" cy="95.75" r="0.45"/><circle cx="223.60" cy="72.66" r="0.45"/><circle cx="217.88" cy="72.70" r="0.45"/><circle cx="224.69" cy="74.65" r="0.45"/><circle cx="221.90" cy="72.07" r="0.45"/><circle cx="221.91" cy="69.26" r="0.45"/><circle cx="220.60" cy="88.63" r="0.45"/><circle cx="220.59" cy="92.96" r="0.45"/><circle cx="230.97" cy="87.65" r="0.45"/><circle cx="222.68" cy="89.37" r="0.45"/><circle cx="231.58" cy="72.31" r="0.45"/><circle cx="230.73" cy="96.91" r="0.45"/><circle cx="228.41" cy="87.88" r="0.45"/><circle cx="218.77" cy="77.45" r="0.45"/><circle cx="226.12" cy="76.05" r="0.45"/><circle cx="225.15" cy="91.99" r="0.45"/><circle cx="223.88" cy="91.62" r="0.45"/><circle cx="220.99" cy="70.71" r="0.45"/><circle cx="231.55" cy="96.68" r="0.45"/><circle cx="227.01" cy="71.08" r="0.45"/><circle cx="224.54" cy="94.26" r="0.45"/><circle cx="226.36" cy="78.30" r="0.45"/><circle cx="217.42" cy="72.33" r="0.45"/><circle cx="224.31" cy="87.95" r="0.45"/><circle cx="223.82" cy="85.18" r="0.45"/><circle cx="225.49" cy="76.28" r="0.45"/><circle cx="217.53" cy="79.80" r="0.45"/><circle cx="229.96" cy="96.26" r="0.45"/><circle cx="217.19" cy="80.47" r="0.45"/><circle cx="222.27" cy="72.89" r="0.45"/><circle cx="232.35" cy="77.90" r="0.45"/><circle cx="230.37" cy="84.52" r="0.45"/><circle cx="227.80" cy="75.37" r="0.45"/><circle cx="228.69" cy="72.89" r="0.45"/><circle cx="219.10" cy="85.03" r="0.45"/><circle cx="226.60" cy="80.63" r="0.45"/><circle cx="226.19" cy="75.54" r="0.45"/><circle cx="231.99" cy="82.45" r="0.45"/><circle cx="227.64" cy="86.28" r="0.45"/><circle cx="231.06" cy="87.35" r="0.45"/><circle cx="224.29" cy="84.51" r="0.45"/><circle cx="231.74" cy="77.22" r="0.45"/><circle cx="225.68" cy="79.87" r="0.45"/><circle cx="228.03" cy="77.99" r="0.45"/><circle cx="227.02" cy="86.64" r="0.45"/><circle cx="218.59" cy="89.91" r="0.45"/><circle cx="229.61" cy="87.13" r="0.45"/><circle cx="227.77" cy="87.48" r="0.45"/><circle cx="223.21" cy="82.63" r="0.45"/><circle cx="230.35" cy="84.72" r="0.45"/><circle cx="217.70" cy="77.39" r="0.45"/><circle cx="227.03" cy="69.82" r="0.45"/><circle cx="219.09" cy="68.80" r="0.45"/><circle cx="225.42" cy="69.48" r="0.45"/><circle cx="221.28" cy="69.49" r="0.45"/><circle cx="226.13" cy="79.72" r="0.45"/><circle cx="217.47" cy="73.73" r="0.45"/><circle cx="226.93" cy="71.01" r="0.45"/><circle cx="222.45" cy="69.71" r="0.45"/><circle cx="219.22" cy="77.29" r="0.45"/><circle cx="227.45" cy="82.79" r="0.45"/><circle cx="227.83" cy="81.12" r="0.45"/><circle cx="221.58" cy="87.64" r="0.45"/><circle cx="218.85" cy="75.26" r="0.45"/><circle cx="228.47" cy="76.04" r="0.45"/><circle cx="218.68" cy="81.99" r="0.45"/></g>
<path d="M231.80,78.80 L234.50,78.40 L236.80,79.40 L237.40,83.00 L237.80,88.00 L238.60,94.00 L239.50,99.00 L240.20,102.80 L238.00,101.80 L235.00,99.60 L231.60,97.40 L230.90,93.00 L231.30,88.00 L231.60,83.00 Z" fill="#d98a26"/>
<g fill="#d98a26"><circle cx="230.46" cy="91.88" r="0.55"/><circle cx="235.97" cy="99.58" r="0.55"/><circle cx="231.11" cy="94.11" r="0.55"/><circle cx="236.42" cy="79.61" r="0.55"/><circle cx="238.86" cy="93.10" r="0.55"/><circle cx="231.54" cy="89.06" r="0.55"/><circle cx="232.37" cy="96.82" r="0.55"/><circle cx="231.49" cy="80.56" r="0.55"/><circle cx="233.90" cy="79.31" r="0.55"/><circle cx="239.43" cy="102.54" r="0.55"/><circle cx="236.95" cy="81.59" r="0.55"/><circle cx="232.31" cy="97.67" r="0.55"/><circle cx="238.40" cy="96.29" r="0.55"/><circle cx="238.23" cy="92.58" r="0.55"/><circle cx="234.09" cy="78.09" r="0.55"/><circle cx="235.28" cy="98.75" r="0.55"/><circle cx="235.18" cy="78.05" r="0.55"/><circle cx="231.97" cy="78.71" r="0.55"/><circle cx="231.35" cy="84.28" r="0.55"/><circle cx="234.13" cy="98.29" r="0.55"/><circle cx="238.87" cy="93.85" r="0.55"/><circle cx="232.26" cy="79.83" r="0.55"/><circle cx="238.00" cy="87.14" r="0.55"/><circle cx="239.69" cy="100.28" r="0.55"/><circle cx="234.72" cy="100.60" r="0.55"/><circle cx="237.97" cy="91.44" r="0.55"/><circle cx="234.98" cy="78.61" r="0.55"/><circle cx="236.72" cy="81.01" r="0.55"/><circle cx="232.34" cy="97.61" r="0.55"/><circle cx="232.42" cy="97.40" r="0.55"/><circle cx="236.76" cy="79.50" r="0.55"/><circle cx="233.68" cy="79.19" r="0.55"/><circle cx="233.52" cy="99.04" r="0.55"/><circle cx="232.75" cy="97.91" r="0.55"/><circle cx="238.68" cy="86.28" r="0.55"/><circle cx="231.01" cy="90.20" r="0.55"/><circle cx="240.23" cy="99.56" r="0.55"/><circle cx="239.08" cy="102.29" r="0.55"/><circle cx="231.49" cy="90.16" r="0.55"/><circle cx="231.27" cy="96.74" r="0.55"/><circle cx="232.11" cy="79.17" r="0.55"/><circle cx="231.36" cy="79.23" r="0.55"/><circle cx="231.98" cy="91.88" r="0.55"/><circle cx="238.36" cy="84.96" r="0.55"/><circle cx="240.82" cy="102.14" r="0.55"/><circle cx="230.92" cy="91.07" r="0.55"/><circle cx="239.56" cy="100.59" r="0.55"/><circle cx="240.09" cy="102.72" r="0.55"/><circle cx="237.87" cy="87.38" r="0.55"/><circle cx="231.03" cy="95.51" r="0.55"/></g>
<g fill="#ffffff" fill-opacity="0.35"><circle cx="236.49" cy="80.48" r="0.45"/><circle cx="236.36" cy="96.14" r="0.45"/><circle cx="236.14" cy="87.95" r="0.45"/><circle cx="234.87" cy="80.60" r="0.45"/><circle cx="237.85" cy="88.98" r="0.45"/><circle cx="235.53" cy="79.66" r="0.45"/><circle cx="232.90" cy="94.31" r="0.45"/><circle cx="237.52" cy="86.69" r="0.45"/><circle cx="234.29" cy="90.07" r="0.45"/><circle cx="233.28" cy="95.02" r="0.45"/><circle cx="234.69" cy="82.23" r="0.45"/><circle cx="236.34" cy="98.16" r="0.45"/><circle cx="235.63" cy="78.93" r="0.45"/><circle cx="235.50" cy="90.29" r="0.45"/><circle cx="239.33" cy="102.00" r="0.45"/><circle cx="231.35" cy="89.69" r="0.45"/><circle cx="236.08" cy="89.13" r="0.45"/><circle cx="234.92" cy="79.66" r="0.45"/><circle cx="232.46" cy="87.27" r="0.45"/><circle cx="232.91" cy="95.61" r="0.45"/><circle cx="232.26" cy="92.51" r="0.45"/><circle cx="235.68" cy="91.56" r="0.45"/><circle cx="234.60" cy="88.27" r="0.45"/><circle cx="238.23" cy="93.68" r="0.45"/><circle cx="232.82" cy="79.02" r="0.45"/><circle cx="236.32" cy="94.64" r="0.45"/><circle cx="233.61" cy="86.47" r="0.45"/><circle cx="236.71" cy="87.24" r="0.45"/><circle cx="233.89" cy="98.20" r="0.45"/><circle cx="239.31" cy="99.04" r="0.45"/></g>
<path d="M216.20,63.40 L218.20,64.20 L220.20,66.40 L221.20,69.50 L220.40,72.40 L218.00,73.20 L215.60,71.60 L214.60,68.40 L215.00,65.00 Z" fill="#90be3e"/>
<g fill="#90be3e"><circle cx="218.38" cy="74.00" r="0.55"/><circle cx="218.46" cy="73.28" r="0.55"/><circle cx="220.69" cy="70.91" r="0.55"/><circle cx="216.83" cy="72.20" r="0.55"/><circle cx="220.89" cy="69.09" r="0.55"/><circle cx="216.25" cy="71.69" r="0.55"/><circle cx="216.68" cy="71.88" r="0.55"/><circle cx="221.32" cy="70.41" r="0.55"/><circle cx="218.80" cy="65.33" r="0.55"/><circle cx="215.21" cy="63.97" r="0.55"/><circle cx="214.98" cy="66.49" r="0.55"/><circle cx="218.88" cy="65.76" r="0.55"/><circle cx="214.92" cy="64.14" r="0.55"/><circle cx="217.14" cy="73.19" r="0.55"/><circle cx="216.53" cy="63.42" r="0.55"/><circle cx="220.00" cy="73.16" r="0.55"/><circle cx="215.06" cy="69.67" r="0.55"/><circle cx="219.41" cy="64.76" r="0.55"/><circle cx="214.84" cy="65.48" r="0.55"/><circle cx="215.24" cy="70.38" r="0.55"/><circle cx="216.79" cy="63.75" r="0.55"/><circle cx="219.34" cy="72.37" r="0.55"/><circle cx="217.57" cy="63.82" r="0.55"/><circle cx="216.17" cy="63.58" r="0.55"/><circle cx="213.79" cy="67.70" r="0.55"/><circle cx="221.14" cy="69.74" r="0.55"/><circle cx="216.98" cy="64.17" r="0.55"/><circle cx="219.11" cy="73.03" r="0.55"/><circle cx="218.21" cy="64.56" r="0.55"/><circle cx="219.53" cy="66.35" r="0.55"/></g>
<g fill="#ffffff" fill-opacity="0.35"><circle cx="218.50" cy="68.76" r="0.45"/><circle cx="216.20" cy="68.29" r="0.45"/><circle cx="220.78" cy="69.79" r="0.45"/><circle cx="220.68" cy="69.42" r="0.45"/><circle cx="220.70" cy="69.32" r="0.45"/><circle cx="216.20" cy="66.45" r="0.45"/><circle cx="218.05" cy="72.97" r="0.45"/><circle cx="215.81" cy="65.24" r="0.45"/></g>
<path d="M238.60,59.80 L239.80,60.20 L239.60,61.60 L238.60,64.20 L237.40,67.50 L236.60,71.00 L236.30,75.00 L235.90,78.80 L232.00,78.80 L232.80,74.50 L234.40,70.00 L236.20,66.00 L237.80,62.60 L238.40,61.00 Z" fill="#4ba646"/>
<g fill="#4ba646"><circle cx="238.16" cy="61.45" r="0.5"/><circle cx="239.28" cy="59.88" r="0.5"/><circle cx="233.50" cy="70.20" r="0.5"/><circle cx="236.89" cy="74.96" r="0.5"/><circle cx="235.88" cy="72.58" r="0.5"/><circle cx="238.79" cy="59.77" r="0.5"/><circle cx="235.92" cy="68.91" r="0.5"/><circle cx="233.00" cy="79.52" r="0.5"/><circle cx="236.83" cy="70.62" r="0.5"/><circle cx="238.72" cy="62.46" r="0.5"/><circle cx="236.54" cy="68.01" r="0.5"/><circle cx="235.54" cy="67.68" r="0.5"/><circle cx="238.48" cy="59.28" r="0.5"/><circle cx="232.23" cy="78.10" r="0.5"/><circle cx="233.74" cy="72.68" r="0.5"/><circle cx="234.10" cy="71.32" r="0.5"/><circle cx="238.97" cy="60.07" r="0.5"/><circle cx="237.36" cy="65.52" r="0.5"/><circle cx="232.71" cy="75.43" r="0.5"/><circle cx="235.10" cy="78.31" r="0.5"/><circle cx="239.05" cy="63.55" r="0.5"/><circle cx="238.24" cy="60.79" r="0.5"/><circle cx="239.64" cy="59.71" r="0.5"/><circle cx="236.03" cy="66.27" r="0.5"/><circle cx="237.21" cy="62.88" r="0.5"/><circle cx="238.35" cy="65.49" r="0.5"/><circle cx="232.22" cy="78.41" r="0.5"/><circle cx="236.73" cy="75.90" r="0.5"/><circle cx="240.35" cy="60.59" r="0.5"/><circle cx="232.87" cy="74.82" r="0.5"/></g>
<g fill="#ffffff" fill-opacity="0.35"><circle cx="235.30" cy="74.79" r="0.45"/><circle cx="234.23" cy="72.43" r="0.45"/><circle cx="233.25" cy="75.00" r="0.45"/><circle cx="233.91" cy="78.74" r="0.45"/></g>
<g fill="#5fbfca"><circle cx="218.39" cy="89.57" r="0.5"/><circle cx="227.09" cy="86.47" r="0.5"/><circle cx="230.64" cy="78.05" r="0.5"/><circle cx="220.83" cy="84.39" r="0.5"/><circle cx="218.73" cy="80.20" r="0.5"/><circle cx="227.74" cy="85.36" r="0.5"/><circle cx="227.63" cy="84.96" r="0.5"/><circle cx="230.89" cy="94.15" r="0.5"/><circle cx="221.24" cy="74.88" r="0.5"/><circle cx="224.53" cy="75.93" r="0.5"/><circle cx="225.95" cy="75.63" r="0.5"/><circle cx="224.75" cy="70.64" r="0.5"/><circle cx="229.23" cy="87.27" r="0.5"/><circle cx="223.75" cy="85.02" r="0.5"/><circle cx="223.03" cy="75.88" r="0.5"/><circle cx="227.49" cy="93.36" r="0.5"/><circle cx="217.28" cy="73.50" r="0.5"/><circle cx="224.90" cy="85.80" r="0.5"/></g>
<g fill="#5fbfca"><circle cx="217.80" cy="90.24" r="0.5"/><circle cx="216.37" cy="91.58" r="0.5"/><circle cx="219.50" cy="90.49" r="0.5"/><circle cx="215.58" cy="92.23" r="0.5"/><circle cx="218.44" cy="90.25" r="0.5"/><circle cx="217.75" cy="91.17" r="0.5"/><circle cx="217.56" cy="91.37" r="0.5"/><circle cx="220.24" cy="89.43" r="0.5"/><circle cx="217.64" cy="91.06" r="0.5"/><circle cx="217.75" cy="91.10" r="0.5"/><circle cx="218.21" cy="90.70" r="0.5"/><circle cx="216.38" cy="91.90" r="0.5"/><circle cx="217.87" cy="90.42" r="0.5"/><circle cx="219.01" cy="91.11" r="0.5"/><circle cx="220.19" cy="88.97" r="0.5"/><circle cx="215.51" cy="91.95" r="0.5"/><circle cx="217.34" cy="91.10" r="0.5"/><circle cx="219.64" cy="89.52" r="0.5"/><circle cx="218.90" cy="90.43" r="0.5"/><circle cx="217.02" cy="91.41" r="0.5"/><circle cx="220.06" cy="89.08" r="0.5"/><circle cx="215.76" cy="92.22" r="0.5"/><circle cx="216.39" cy="91.71" r="0.5"/><circle cx="217.95" cy="91.72" r="0.5"/><circle cx="214.95" cy="91.90" r="0.5"/></g>
<path d="M327.36,83.04 L329.11,81.26 L331.64,81.86 L333.97,83.84 L335.72,86.61 L336.11,90.17 L334.36,91.95 L331.64,91.56 L329.50,89.38 L327.75,86.41 Z" fill="#e08dd6"/>
<g fill="#e08dd6"><circle cx="327.14" cy="86.20" r="0.55"/><circle cx="328.20" cy="89.57" r="0.55"/><circle cx="329.39" cy="81.84" r="0.55"/><circle cx="334.96" cy="85.14" r="0.55"/><circle cx="335.13" cy="85.96" r="0.55"/><circle cx="334.01" cy="91.61" r="0.55"/><circle cx="328.54" cy="85.99" r="0.55"/><circle cx="328.06" cy="84.18" r="0.55"/><circle cx="332.96" cy="82.27" r="0.55"/><circle cx="334.63" cy="84.27" r="0.55"/><circle cx="333.34" cy="92.09" r="0.55"/><circle cx="331.77" cy="83.25" r="0.55"/><circle cx="327.54" cy="85.95" r="0.55"/><circle cx="335.57" cy="88.66" r="0.55"/><circle cx="332.71" cy="82.63" r="0.55"/><circle cx="328.68" cy="81.78" r="0.55"/><circle cx="327.65" cy="87.57" r="0.55"/><circle cx="327.96" cy="81.50" r="0.55"/><circle cx="334.20" cy="85.17" r="0.55"/><circle cx="330.50" cy="91.33" r="0.55"/><circle cx="331.40" cy="90.35" r="0.55"/><circle cx="335.95" cy="86.66" r="0.55"/><circle cx="335.01" cy="91.32" r="0.55"/><circle cx="335.63" cy="89.77" r="0.55"/><circle cx="335.80" cy="89.99" r="0.55"/><circle cx="336.19" cy="90.31" r="0.55"/><circle cx="327.22" cy="84.84" r="0.55"/><circle cx="327.62" cy="86.04" r="0.55"/><circle cx="331.89" cy="81.89" r="0.55"/><circle cx="331.32" cy="92.31" r="0.55"/><circle cx="326.74" cy="82.51" r="0.55"/><circle cx="329.41" cy="81.50" r="0.55"/><circle cx="331.61" cy="92.44" r="0.55"/><circle cx="333.32" cy="83.97" r="0.55"/><circle cx="335.13" cy="91.56" r="0.55"/><circle cx="332.19" cy="81.47" r="0.55"/><circle cx="332.61" cy="83.10" r="0.55"/><circle cx="329.68" cy="81.49" r="0.55"/><circle cx="329.08" cy="87.39" r="0.55"/><circle cx="327.52" cy="83.66" r="0.55"/><circle cx="335.90" cy="91.11" r="0.55"/><circle cx="335.91" cy="90.31" r="0.55"/><circle cx="328.26" cy="81.72" r="0.55"/><circle cx="336.21" cy="87.54" r="0.55"/><circle cx="334.96" cy="90.09" r="0.55"/><circle cx="334.00" cy="90.90" r="0.55"/><circle cx="330.17" cy="89.25" r="0.55"/><circle cx="327.95" cy="86.96" r="0.55"/><circle cx="331.73" cy="91.33" r="0.55"/><circle cx="334.02" cy="91.18" r="0.55"/></g>
<g fill="#ffffff" fill-opacity="0.5"><circle cx="333.18" cy="85.76" r="0.45"/><circle cx="332.82" cy="89.54" r="0.45"/><circle cx="332.93" cy="88.96" r="0.45"/><circle cx="327.60" cy="82.97" r="0.45"/><circle cx="331.22" cy="88.21" r="0.45"/><circle cx="329.28" cy="88.60" r="0.45"/><circle cx="331.49" cy="83.68" r="0.45"/><circle cx="327.84" cy="82.69" r="0.45"/><circle cx="330.14" cy="83.20" r="0.45"/><circle cx="329.05" cy="81.64" r="0.45"/><circle cx="331.43" cy="85.33" r="0.45"/><circle cx="332.71" cy="87.57" r="0.45"/><circle cx="329.80" cy="85.65" r="0.45"/><circle cx="330.63" cy="81.65" r="0.45"/><circle cx="332.13" cy="84.89" r="0.45"/><circle cx="332.44" cy="91.51" r="0.45"/><circle cx="334.52" cy="85.74" r="0.45"/><circle cx="334.47" cy="88.13" r="0.45"/><circle cx="330.59" cy="82.78" r="0.45"/><circle cx="332.57" cy="87.29" r="0.45"/><circle cx="332.68" cy="85.02" r="0.45"/><circle cx="328.31" cy="87.31" r="0.45"/><circle cx="332.87" cy="90.79" r="0.45"/><circle cx="330.65" cy="85.88" r="0.45"/><circle cx="329.34" cy="84.38" r="0.45"/></g>
<path d="M341.74,76.71 L343.29,78.09 L345.04,80.67 L347.37,83.24 L349.32,87.10 L350.00,91.56 L349.80,96.51 L350.00,100.47 L347.96,104.43 L344.65,107.20 L340.96,109.18 L337.37,108.39 L334.36,105.42 L333.39,100.47 L333.00,95.52 L333.77,90.57 L335.13,87.60 L336.69,85.22 L338.63,82.65 L340.38,79.48 Z" fill="#e08dd6"/>
<g fill="#e08dd6"><circle cx="334.18" cy="103.26" r="0.55"/><circle cx="341.35" cy="78.68" r="0.55"/><circle cx="333.81" cy="100.21" r="0.55"/><circle cx="344.90" cy="107.60" r="0.55"/><circle cx="333.47" cy="94.38" r="0.55"/><circle cx="333.93" cy="105.26" r="0.55"/><circle cx="334.85" cy="88.67" r="0.55"/><circle cx="349.67" cy="90.93" r="0.55"/><circle cx="335.20" cy="88.18" r="0.55"/><circle cx="347.71" cy="83.62" r="0.55"/><circle cx="338.74" cy="108.57" r="0.55"/><circle cx="336.26" cy="106.59" r="0.55"/><circle cx="342.53" cy="77.83" r="0.55"/><circle cx="349.01" cy="86.64" r="0.55"/><circle cx="332.66" cy="96.27" r="0.55"/><circle cx="335.27" cy="87.50" r="0.55"/><circle cx="349.10" cy="100.27" r="0.55"/><circle cx="341.37" cy="108.31" r="0.55"/><circle cx="341.81" cy="108.56" r="0.55"/><circle cx="349.31" cy="93.73" r="0.55"/><circle cx="338.43" cy="109.06" r="0.55"/><circle cx="343.54" cy="79.27" r="0.55"/><circle cx="347.43" cy="82.51" r="0.55"/><circle cx="347.32" cy="83.07" r="0.55"/><circle cx="347.00" cy="83.02" r="0.55"/><circle cx="349.84" cy="90.97" r="0.55"/><circle cx="349.61" cy="94.75" r="0.55"/><circle cx="339.93" cy="78.61" r="0.55"/><circle cx="345.45" cy="81.27" r="0.55"/><circle cx="333.88" cy="101.50" r="0.55"/><circle cx="338.00" cy="108.67" r="0.55"/><circle cx="334.90" cy="106.02" r="0.55"/><circle cx="338.56" cy="80.60" r="0.55"/><circle cx="337.79" cy="84.00" r="0.55"/><circle cx="349.48" cy="100.82" r="0.55"/><circle cx="350.25" cy="90.25" r="0.55"/><circle cx="334.00" cy="103.76" r="0.55"/><circle cx="347.42" cy="82.39" r="0.55"/><circle cx="336.14" cy="87.30" r="0.55"/><circle cx="335.60" cy="88.13" r="0.55"/><circle cx="338.39" cy="83.46" r="0.55"/><circle cx="333.17" cy="97.36" r="0.55"/><circle cx="335.37" cy="88.72" r="0.55"/><circle cx="334.55" cy="107.12" r="0.55"/><circle cx="334.35" cy="106.63" r="0.55"/><circle cx="335.61" cy="105.92" r="0.55"/><circle cx="335.23" cy="106.46" r="0.55"/><circle cx="350.03" cy="93.60" r="0.55"/><circle cx="348.59" cy="97.36" r="0.55"/><circle cx="336.26" cy="108.60" r="0.55"/></g>
<g fill="#ffffff" fill-opacity="0.5"><circle cx="343.53" cy="90.63" r="0.45"/><circle cx="340.91" cy="79.95" r="0.45"/><circle cx="339.37" cy="89.23" r="0.45"/><circle cx="337.32" cy="85.72" r="0.45"/><circle cx="336.99" cy="92.36" r="0.45"/><circle cx="339.27" cy="107.16" r="0.45"/><circle cx="344.69" cy="98.59" r="0.45"/><circle cx="341.02" cy="107.41" r="0.45"/><circle cx="335.00" cy="98.42" r="0.45"/><circle cx="337.95" cy="98.61" r="0.45"/><circle cx="345.39" cy="82.01" r="0.45"/><circle cx="339.82" cy="108.32" r="0.45"/><circle cx="339.19" cy="86.83" r="0.45"/><circle cx="340.95" cy="85.90" r="0.45"/><circle cx="345.45" cy="100.02" r="0.45"/><circle cx="344.42" cy="107.25" r="0.45"/><circle cx="343.98" cy="90.69" r="0.45"/><circle cx="334.03" cy="102.01" r="0.45"/><circle cx="341.82" cy="88.07" r="0.45"/><circle cx="348.28" cy="92.66" r="0.45"/><circle cx="337.34" cy="89.94" r="0.45"/><circle cx="336.05" cy="93.22" r="0.45"/><circle cx="339.84" cy="93.96" r="0.45"/><circle cx="334.83" cy="94.30" r="0.45"/><circle cx="348.66" cy="96.13" r="0.45"/></g>
<path d="M352.47,107.40 L351.97,107.95 L351.13,108.24 L350.05,108.24 L348.85,107.94 L347.69,107.39 L346.70,106.65 L346.01,105.81 L345.68,104.96 L345.78,104.22 L346.27,103.67 L347.11,103.38 L348.20,103.39 L349.39,103.68 L350.55,104.23 L351.54,104.98 L352.24,105.82 L352.56,106.66 Z" fill="#e08dd6"/>
<g fill="#e08dd6"><circle cx="345.80" cy="106.31" r="0.55"/><circle cx="349.52" cy="104.53" r="0.55"/><circle cx="351.81" cy="108.46" r="0.55"/><circle cx="346.22" cy="105.82" r="0.55"/><circle cx="345.65" cy="104.62" r="0.55"/><circle cx="350.31" cy="107.32" r="0.55"/><circle cx="345.51" cy="105.59" r="0.55"/><circle cx="346.97" cy="105.22" r="0.55"/><circle cx="350.33" cy="109.08" r="0.55"/><circle cx="352.28" cy="107.92" r="0.55"/><circle cx="347.27" cy="107.98" r="0.55"/><circle cx="351.98" cy="107.39" r="0.55"/><circle cx="348.67" cy="103.97" r="0.55"/><circle cx="348.35" cy="107.40" r="0.55"/><circle cx="350.53" cy="108.11" r="0.55"/><circle cx="350.33" cy="108.60" r="0.55"/><circle cx="345.48" cy="104.01" r="0.55"/><circle cx="349.69" cy="104.24" r="0.55"/><circle cx="347.51" cy="106.18" r="0.55"/><circle cx="349.14" cy="107.69" r="0.55"/><circle cx="349.22" cy="107.33" r="0.55"/><circle cx="349.29" cy="108.27" r="0.55"/><circle cx="350.35" cy="104.02" r="0.55"/><circle cx="347.87" cy="106.86" r="0.55"/><circle cx="350.38" cy="107.53" r="0.55"/><circle cx="346.71" cy="105.97" r="0.55"/><circle cx="351.67" cy="106.05" r="0.55"/><circle cx="346.72" cy="107.08" r="0.55"/><circle cx="348.05" cy="102.88" r="0.55"/><circle cx="345.14" cy="104.10" r="0.55"/><circle cx="351.21" cy="108.31" r="0.55"/><circle cx="346.16" cy="105.47" r="0.55"/><circle cx="348.91" cy="109.22" r="0.55"/><circle cx="346.03" cy="103.66" r="0.55"/><circle cx="350.21" cy="108.29" r="0.55"/><circle cx="351.72" cy="105.64" r="0.55"/><circle cx="352.77" cy="107.66" r="0.55"/><circle cx="348.01" cy="103.30" r="0.55"/><circle cx="352.01" cy="103.83" r="0.55"/><circle cx="351.57" cy="106.94" r="0.55"/><circle cx="349.06" cy="103.50" r="0.55"/><circle cx="346.71" cy="106.52" r="0.55"/><circle cx="348.60" cy="102.40" r="0.55"/><circle cx="350.13" cy="103.66" r="0.55"/><circle cx="346.00" cy="104.93" r="0.55"/><circle cx="345.83" cy="102.77" r="0.55"/><circle cx="351.41" cy="106.70" r="0.55"/><circle cx="346.02" cy="104.96" r="0.55"/><circle cx="351.49" cy="108.40" r="0.55"/><circle cx="353.15" cy="106.18" r="0.55"/></g>
<g fill="#ffffff" fill-opacity="0.5"><circle cx="348.34" cy="103.91" r="0.45"/><circle cx="350.42" cy="106.07" r="0.45"/><circle cx="350.60" cy="105.20" r="0.45"/><circle cx="347.79" cy="104.68" r="0.45"/><circle cx="349.96" cy="107.74" r="0.45"/><circle cx="346.84" cy="106.46" r="0.45"/><circle cx="351.39" cy="107.65" r="0.45"/><circle cx="350.69" cy="105.41" r="0.45"/><circle cx="348.61" cy="105.95" r="0.45"/><circle cx="347.61" cy="106.32" r="0.45"/><circle cx="349.55" cy="106.32" r="0.45"/><circle cx="346.95" cy="104.31" r="0.45"/><circle cx="349.77" cy="106.52" r="0.45"/><circle cx="350.43" cy="106.93" r="0.45"/><circle cx="346.11" cy="105.74" r="0.45"/><circle cx="351.42" cy="108.03" r="0.45"/><circle cx="350.12" cy="107.89" r="0.45"/><circle cx="347.26" cy="106.77" r="0.45"/><circle cx="351.47" cy="105.70" r="0.45"/><circle cx="346.38" cy="104.32" r="0.45"/><circle cx="346.76" cy="103.83" r="0.45"/><circle cx="346.73" cy="106.38" r="0.45"/><circle cx="350.75" cy="107.35" r="0.45"/><circle cx="351.21" cy="106.85" r="0.45"/><circle cx="349.98" cy="108.07" r="0.45"/></g>
<g fill="#5b69b4"><circle cx="328.27" cy="82.36" r="0.55"/><circle cx="327.93" cy="83.47" r="0.55"/><circle cx="330.64" cy="86.17" r="0.55"/><circle cx="333.31" cy="89.20" r="0.55"/><circle cx="328.10" cy="85.57" r="0.55"/><circle cx="332.11" cy="85.27" r="0.55"/></g>
<g fill="#5b69b4"><circle cx="335.00" cy="96.10" r="0.55"/><circle cx="339.36" cy="98.91" r="0.55"/><circle cx="341.42" cy="107.97" r="0.55"/><circle cx="345.91" cy="100.13" r="0.55"/><circle cx="341.14" cy="88.21" r="0.55"/><circle cx="339.49" cy="86.14" r="0.55"/><circle cx="341.48" cy="99.34" r="0.55"/><circle cx="346.41" cy="95.40" r="0.55"/><circle cx="338.03" cy="87.65" r="0.55"/><circle cx="347.41" cy="93.57" r="0.55"/><circle cx="337.04" cy="98.34" r="0.55"/><circle cx="334.63" cy="92.21" r="0.55"/><circle cx="349.74" cy="94.29" r="0.55"/><circle cx="339.56" cy="107.03" r="0.55"/><circle cx="346.02" cy="88.43" r="0.55"/><circle cx="340.79" cy="89.14" r="0.55"/><circle cx="341.78" cy="78.43" r="0.55"/><circle cx="340.52" cy="92.03" r="0.55"/><circle cx="349.23" cy="99.02" r="0.55"/><circle cx="341.63" cy="78.43" r="0.55"/><circle cx="339.67" cy="101.98" r="0.55"/><circle cx="340.39" cy="95.98" r="0.55"/><circle cx="348.34" cy="97.66" r="0.55"/><circle cx="340.02" cy="105.09" r="0.55"/><circle cx="345.85" cy="105.66" r="0.55"/><circle cx="335.52" cy="102.06" r="0.55"/><circle cx="340.17" cy="108.27" r="0.55"/><circle cx="340.16" cy="85.50" r="0.55"/><circle cx="340.98" cy="86.01" r="0.55"/><circle cx="344.33" cy="80.71" r="0.55"/><circle cx="335.87" cy="91.57" r="0.55"/><circle cx="343.18" cy="81.13" r="0.55"/><circle cx="337.02" cy="106.59" r="0.55"/><circle cx="336.14" cy="90.64" r="0.55"/><circle cx="337.53" cy="101.19" r="0.55"/><circle cx="339.34" cy="101.88" r="0.55"/><circle cx="335.58" cy="93.54" r="0.55"/><circle cx="349.57" cy="99.50" r="0.55"/><circle cx="343.94" cy="88.88" r="0.55"/><circle cx="339.26" cy="92.22" r="0.55"/><circle cx="342.89" cy="108.07" r="0.55"/><circle cx="337.09" cy="95.17" r="0.55"/><circle cx="337.47" cy="94.42" r="0.55"/><circle cx="341.18" cy="99.62" r="0.55"/><circle cx="340.12" cy="93.08" r="0.55"/><circle cx="343.38" cy="102.45" r="0.55"/><circle cx="333.95" cy="92.96" r="0.55"/><circle cx="338.06" cy="91.32" r="0.55"/><circle cx="344.13" cy="106.74" r="0.55"/><circle cx="339.29" cy="93.92" r="0.55"/><circle cx="340.63" cy="100.61" r="0.55"/><circle cx="341.99" cy="89.33" r="0.55"/><circle cx="348.71" cy="86.42" r="0.55"/><circle cx="342.38" cy="103.65" r="0.55"/><circle cx="335.34" cy="88.10" r="0.55"/><circle cx="341.40" cy="95.08" r="0.55"/><circle cx="336.52" cy="91.45" r="0.55"/><circle cx="337.68" cy="102.16" r="0.55"/><circle cx="345.60" cy="85.22" r="0.55"/><circle cx="347.09" cy="97.03" r="0.55"/><circle cx="339.60" cy="97.13" r="0.55"/><circle cx="337.17" cy="85.26" r="0.55"/><circle cx="347.90" cy="90.95" r="0.55"/><circle cx="345.57" cy="94.93" r="0.55"/><circle cx="347.01" cy="92.76" r="0.55"/><circle cx="343.01" cy="80.52" r="0.55"/><circle cx="345.26" cy="96.56" r="0.55"/><circle cx="343.40" cy="83.90" r="0.55"/><circle cx="334.09" cy="98.92" r="0.55"/><circle cx="340.82" cy="97.78" r="0.55"/><circle cx="348.16" cy="100.11" r="0.55"/><circle cx="334.18" cy="97.59" r="0.55"/><circle cx="345.82" cy="85.11" r="0.55"/><circle cx="345.89" cy="93.45" r="0.55"/><circle cx="348.33" cy="91.82" r="0.55"/><circle cx="337.47" cy="107.45" r="0.55"/><circle cx="340.23" cy="96.89" r="0.55"/><circle cx="344.06" cy="82.38" r="0.55"/><circle cx="335.36" cy="92.66" r="0.55"/><circle cx="344.68" cy="91.23" r="0.55"/><circle cx="342.74" cy="106.33" r="0.55"/><circle cx="341.39" cy="94.12" r="0.55"/><circle cx="348.30" cy="94.74" r="0.55"/><circle cx="344.26" cy="90.33" r="0.55"/><circle cx="346.33" cy="103.85" r="0.55"/></g>
<g fill="#5b69b4"><circle cx="347.70" cy="103.91" r="0.55"/><circle cx="347.47" cy="105.12" r="0.55"/><circle cx="350.01" cy="106.50" r="0.55"/><circle cx="350.98" cy="105.02" r="0.55"/><circle cx="351.49" cy="106.21" r="0.55"/></g>
<g fill="#5b69b4"><circle cx="344.31" cy="79.99" r="0.55"/><circle cx="338.32" cy="109.21" r="0.55"/><circle cx="337.61" cy="108.94" r="0.55"/><circle cx="339.63" cy="108.70" r="0.55"/><circle cx="344.65" cy="107.40" r="0.55"/><circle cx="335.55" cy="86.69" r="0.55"/><circle cx="332.93" cy="100.14" r="0.55"/><circle cx="348.45" cy="86.38" r="0.55"/><circle cx="346.93" cy="82.48" r="0.55"/><circle cx="349.27" cy="86.10" r="0.55"/><circle cx="337.80" cy="84.58" r="0.55"/><circle cx="333.39" cy="90.88" r="0.55"/><circle cx="337.23" cy="85.91" r="0.55"/><circle cx="349.33" cy="97.07" r="0.55"/><circle cx="334.85" cy="88.53" r="0.55"/><circle cx="332.25" cy="93.65" r="0.55"/><circle cx="335.94" cy="87.71" r="0.55"/><circle cx="333.41" cy="92.38" r="0.55"/><circle cx="348.35" cy="90.14" r="0.55"/><circle cx="348.28" cy="85.41" r="0.55"/><circle cx="346.69" cy="83.18" r="0.55"/><circle cx="349.35" cy="95.58" r="0.55"/><circle cx="345.65" cy="105.46" r="0.55"/><circle cx="336.97" cy="84.37" r="0.55"/><circle cx="340.12" cy="80.11" r="0.55"/><circle cx="336.46" cy="85.94" r="0.55"/><circle cx="343.63" cy="107.76" r="0.55"/><circle cx="350.00" cy="89.77" r="0.55"/><circle cx="343.77" cy="77.92" r="0.55"/><circle cx="332.15" cy="97.73" r="0.55"/><circle cx="333.18" cy="93.13" r="0.55"/><circle cx="342.21" cy="77.36" r="0.55"/><circle cx="341.93" cy="77.53" r="0.55"/><circle cx="336.59" cy="108.11" r="0.55"/><circle cx="348.98" cy="86.40" r="0.55"/><circle cx="335.91" cy="86.27" r="0.55"/><circle cx="334.50" cy="102.70" r="0.55"/><circle cx="342.08" cy="77.21" r="0.55"/><circle cx="335.35" cy="86.50" r="0.55"/><circle cx="347.29" cy="84.11" r="0.55"/></g>
<g><circle cx="343.39" cy="63.94" r="0.55" fill="#e08dd6"/><circle cx="342.68" cy="59.55" r="0.55" fill="#e08dd6"/><circle cx="344.79" cy="73.40" r="0.55" fill="#5b69b4"/><circle cx="341.14" cy="53.81" r="0.55" fill="#e08dd6"/><circle cx="344.27" cy="71.66" r="0.55" fill="#e08dd6"/><circle cx="343.05" cy="63.85" r="0.55" fill="#e08dd6"/><circle cx="345.20" cy="72.42" r="0.55" fill="#e08dd6"/><circle cx="341.24" cy="54.04" r="0.55" fill="#e08dd6"/><circle cx="344.65" cy="72.32" r="0.55" fill="#e08dd6"/><circle cx="345.38" cy="73.17" r="0.55" fill="#5b69b4"/><circle cx="344.20" cy="67.95" r="0.55" fill="#e08dd6"/><circle cx="344.78" cy="67.93" r="0.55" fill="#e08dd6"/><circle cx="340.43" cy="54.15" r="0.55" fill="#e08dd6"/><circle cx="343.04" cy="58.01" r="0.55" fill="#5b69b4"/><circle cx="341.65" cy="54.96" r="0.55" fill="#e08dd6"/><circle cx="342.87" cy="62.19" r="0.55" fill="#e08dd6"/><circle cx="341.70" cy="55.53" r="0.55" fill="#e08dd6"/><circle cx="343.24" cy="63.58" r="0.55" fill="#e08dd6"/><circle cx="342.79" cy="60.50" r="0.55" fill="#5b69b4"/><circle cx="342.49" cy="57.26" r="0.55" fill="#e08dd6"/><circle cx="344.80" cy="76.16" r="0.55" fill="#e08dd6"/><circle cx="342.71" cy="58.47" r="0.55" fill="#e08dd6"/><circle cx="343.53" cy="62.88" r="0.55" fill="#5b69b4"/><circle cx="341.20" cy="54.09" r="0.55" fill="#e08dd6"/><circle cx="343.32" cy="64.23" r="0.55" fill="#e08dd6"/><circle cx="345.53" cy="73.77" r="0.55" fill="#e08dd6"/><circle cx="344.25" cy="69.63" r="0.55" fill="#e08dd6"/><circle cx="345.91" cy="75.10" r="0.55" fill="#e08dd6"/><circle cx="345.19" cy="72.18" r="0.55" fill="#e08dd6"/><circle cx="343.94" cy="69.09" r="0.55" fill="#e08dd6"/><circle cx="345.11" cy="74.38" r="0.55" fill="#e08dd6"/><circle cx="342.63" cy="57.84" r="0.55" fill="#5b69b4"/><circle cx="342.85" cy="61.16" r="0.55" fill="#e08dd6"/><circle cx="344.04" cy="71.78" r="0.55" fill="#e08dd6"/><circle cx="342.95" cy="57.80" r="0.55" fill="#e08dd6"/><circle cx="343.16" cy="62.04" r="0.55" fill="#e08dd6"/><circle cx="342.02" cy="55.58" r="0.55" fill="#e08dd6"/><circle cx="342.23" cy="56.76" r="0.55" fill="#e08dd6"/><circle cx="342.47" cy="60.27" r="0.55" fill="#5b69b4"/><circle cx="343.25" cy="63.49" r="0.55" fill="#e08dd6"/><circle cx="341.32" cy="56.02" r="0.55" fill="#e08dd6"/><circle cx="345.26" cy="76.20" r="0.55" fill="#5b69b4"/><circle cx="345.25" cy="73.17" r="0.55" fill="#5b69b4"/><circle cx="340.89" cy="55.51" r="0.55" fill="#e08dd6"/><circle cx="341.91" cy="56.99" r="0.55" fill="#e08dd6"/><circle cx="343.98" cy="67.69" r="0.55" fill="#e08dd6"/><circle cx="345.26" cy="71.29" r="0.55" fill="#e08dd6"/><circle cx="343.27" cy="64.13" r="0.55" fill="#e08dd6"/><circle cx="345.52" cy="75.20" r="0.55" fill="#e08dd6"/><circle cx="342.43" cy="57.38" r="0.55" fill="#e08dd6"/><circle cx="343.92" cy="63.40" r="0.55" fill="#e08dd6"/><circle cx="342.15" cy="58.89" r="0.55" fill="#e08dd6"/><circle cx="342.65" cy="60.39" r="0.55" fill="#e08dd6"/><circle cx="343.85" cy="66.12" r="0.55" fill="#e08dd6"/><circle cx="342.62" cy="58.55" r="0.55" fill="#5b69b4"/><circle cx="342.17" cy="55.53" r="0.55" fill="#5b69b4"/><circle cx="344.76" cy="70.71" r="0.55" fill="#e08dd6"/><circle cx="344.74" cy="73.80" r="0.55" fill="#5b69b4"/><circle cx="344.86" cy="71.88" r="0.55" fill="#e08dd6"/><circle cx="341.39" cy="56.47" r="0.55" fill="#e08dd6"/><circle cx="343.17" cy="65.80" r="0.55" fill="#e08dd6"/><circle cx="344.86" cy="75.24" r="0.55" fill="#e08dd6"/><circle cx="343.69" cy="68.59" r="0.55" fill="#e08dd6"/><circle cx="343.32" cy="64.56" r="0.55" fill="#5b69b4"/><circle cx="343.15" cy="63.95" r="0.55" fill="#e08dd6"/><circle cx="343.10" cy="64.11" r="0.55" fill="#5b69b4"/><circle cx="341.72" cy="55.07" r="0.55" fill="#5b69b4"/><circle cx="342.95" cy="60.23" r="0.55" fill="#5b69b4"/><circle cx="341.99" cy="55.49" r="0.55" fill="#e08dd6"/><circle cx="341.87" cy="60.48" r="0.55" fill="#5b69b4"/></g>
<g><circle cx="352.95" cy="67.24" r="0.55" fill="#e08dd6"/><circle cx="352.54" cy="65.02" r="0.55" fill="#5b69b4"/><circle cx="352.57" cy="62.73" r="0.55" fill="#5b69b4"/><circle cx="352.29" cy="62.39" r="0.55" fill="#e08dd6"/><circle cx="353.39" cy="66.61" r="0.55" fill="#e08dd6"/><circle cx="352.62" cy="64.09" r="0.55" fill="#5b69b4"/><circle cx="352.76" cy="62.52" r="0.55" fill="#5b69b4"/><circle cx="352.49" cy="61.25" r="0.55" fill="#5b69b4"/></g>
<g><circle cx="359.92" cy="55.77" r="0.55" fill="#5b69b4"/><circle cx="359.12" cy="55.55" r="0.55" fill="#e08dd6"/><circle cx="357.64" cy="54.22" r="0.55" fill="#e08dd6"/><circle cx="358.95" cy="54.98" r="0.55" fill="#e08dd6"/><circle cx="358.15" cy="54.35" r="0.55" fill="#e08dd6"/><circle cx="357.92" cy="54.29" r="0.55" fill="#e08dd6"/></g>
<g><circle cx="369.13" cy="106.50" r="0.55" fill="#5b69b4"/><circle cx="369.37" cy="107.59" r="0.55" fill="#5b69b4"/><circle cx="368.88" cy="103.99" r="0.55" fill="#5b69b4"/><circle cx="369.18" cy="117.13" r="0.55" fill="#5b69b4"/><circle cx="369.69" cy="120.52" r="0.55" fill="#5b69b4"/><circle cx="369.80" cy="107.75" r="0.55" fill="#e08dd6"/><circle cx="369.43" cy="106.08" r="0.55" fill="#e08dd6"/><circle cx="369.30" cy="106.19" r="0.55" fill="#e08dd6"/><circle cx="369.82" cy="116.65" r="0.55" fill="#e08dd6"/><circle cx="369.29" cy="108.69" r="0.55" fill="#e08dd6"/></g>
<g><circle cx="380.56" cy="82.11" r="0.6" fill="#5b69b4"/><circle cx="378.38" cy="71.13" r="0.6" fill="#e08dd6"/><circle cx="380.36" cy="79.50" r="0.6" fill="#e08dd6"/><circle cx="389.52" cy="90.45" r="0.6" fill="#5b69b4"/><circle cx="385.72" cy="78.17" r="0.6" fill="#e08dd6"/><circle cx="382.62" cy="78.02" r="0.6" fill="#5b69b4"/><circle cx="386.37" cy="93.67" r="0.6" fill="#e08dd6"/><circle cx="388.80" cy="77.38" r="0.6" fill="#e08dd6"/><circle cx="385.60" cy="75.43" r="0.6" fill="#e08dd6"/><circle cx="380.07" cy="74.76" r="0.6" fill="#5b69b4"/><circle cx="386.84" cy="85.80" r="0.6" fill="#e08dd6"/><circle cx="380.89" cy="90.05" r="0.6" fill="#e08dd6"/><circle cx="378.36" cy="86.02" r="0.6" fill="#e08dd6"/><circle cx="387.47" cy="90.11" r="0.6" fill="#e08dd6"/><circle cx="384.09" cy="94.15" r="0.6" fill="#5b69b4"/><circle cx="386.29" cy="88.89" r="0.6" fill="#e08dd6"/><circle cx="377.74" cy="74.22" r="0.6" fill="#e08dd6"/><circle cx="383.75" cy="84.66" r="0.6" fill="#e08dd6"/><circle cx="381.90" cy="82.62" r="0.6" fill="#e08dd6"/><circle cx="384.63" cy="93.20" r="0.6" fill="#5b69b4"/><circle cx="381.21" cy="85.08" r="0.6" fill="#e08dd6"/><circle cx="385.93" cy="87.86" r="0.6" fill="#e08dd6"/><circle cx="381.37" cy="76.91" r="0.6" fill="#e08dd6"/><circle cx="383.83" cy="86.28" r="0.6" fill="#e08dd6"/><circle cx="386.54" cy="72.68" r="0.6" fill="#e08dd6"/><circle cx="383.45" cy="85.09" r="0.6" fill="#e08dd6"/><circle cx="379.54" cy="71.76" r="0.6" fill="#5b69b4"/><circle cx="384.27" cy="77.36" r="0.6" fill="#5b69b4"/><circle cx="377.00" cy="76.64" r="0.6" fill="#e08dd6"/><circle cx="379.02" cy="80.43" r="0.6" fill="#e08dd6"/><circle cx="381.98" cy="89.01" r="0.6" fill="#5b69b4"/><circle cx="380.07" cy="76.97" r="0.6" fill="#e08dd6"/><circle cx="390.43" cy="81.65" r="0.6" fill="#5b69b4"/><circle cx="380.52" cy="82.76" r="0.6" fill="#5b69b4"/><circle cx="384.06" cy="73.14" r="0.6" fill="#e08dd6"/><circle cx="386.88" cy="89.77" r="0.6" fill="#5b69b4"/><circle cx="383.93" cy="84.43" r="0.6" fill="#e08dd6"/><circle cx="388.49" cy="96.62" r="0.6" fill="#e08dd6"/><circle cx="386.04" cy="70.08" r="0.6" fill="#5b69b4"/><circle cx="384.37" cy="88.06" r="0.6" fill="#5b69b4"/><circle cx="381.66" cy="88.70" r="0.6" fill="#e08dd6"/><circle cx="382.23" cy="86.73" r="0.6" fill="#e08dd6"/><circle cx="386.06" cy="88.29" r="0.6" fill="#5b69b4"/><circle cx="387.54" cy="89.28" r="0.6" fill="#e08dd6"/><circle cx="380.10" cy="86.66" r="0.6" fill="#e08dd6"/><circle cx="386.16" cy="70.56" r="0.6" fill="#5b69b4"/><circle cx="388.24" cy="75.39" r="0.6" fill="#e08dd6"/><circle cx="384.16" cy="84.03" r="0.6" fill="#5b69b4"/><circle cx="387.74" cy="91.06" r="0.6" fill="#5b69b4"/><circle cx="383.40" cy="85.27" r="0.6" fill="#5b69b4"/><circle cx="387.61" cy="96.62" r="0.6" fill="#e08dd6"/><circle cx="386.65" cy="84.50" r="0.6" fill="#e08dd6"/><circle cx="388.79" cy="93.82" r="0.6" fill="#e08dd6"/><circle cx="378.79" cy="82.95" r="0.6" fill="#e08dd6"/><circle cx="386.08" cy="89.13" r="0.6" fill="#5b69b4"/><circle cx="389.39" cy="70.67" r="0.6" fill="#e08dd6"/><circle cx="383.14" cy="95.37" r="0.6" fill="#5b69b4"/><circle cx="381.70" cy="91.19" r="0.6" fill="#e08dd6"/><circle cx="384.78" cy="88.21" r="0.6" fill="#e08dd6"/><circle cx="386.42" cy="93.97" r="0.6" fill="#5b69b4"/><circle cx="387.62" cy="97.03" r="0.6" fill="#e08dd6"/><circle cx="384.19" cy="83.15" r="0.6" fill="#e08dd6"/><circle cx="386.73" cy="85.14" r="0.6" fill="#5b69b4"/><circle cx="381.47" cy="83.33" r="0.6" fill="#e08dd6"/><circle cx="377.17" cy="74.33" r="0.6" fill="#5b69b4"/><circle cx="390.95" cy="76.86" r="0.6" fill="#5b69b4"/><circle cx="381.16" cy="92.42" r="0.6" fill="#5b69b4"/><circle cx="380.27" cy="88.21" r="0.6" fill="#e08dd6"/><circle cx="385.35" cy="94.88" r="0.6" fill="#5b69b4"/><circle cx="383.93" cy="78.35" r="0.6" fill="#e08dd6"/><circle cx="380.54" cy="79.38" r="0.6" fill="#e08dd6"/><circle cx="378.83" cy="77.94" r="0.6" fill="#e08dd6"/><circle cx="388.46" cy="96.20" r="0.6" fill="#5b69b4"/><circle cx="382.02" cy="76.06" r="0.6" fill="#e08dd6"/><circle cx="381.07" cy="87.09" r="0.6" fill="#e08dd6"/><circle cx="383.96" cy="72.21" r="0.6" fill="#e08dd6"/><circle cx="384.66" cy="76.61" r="0.6" fill="#5b69b4"/><circle cx="378.75" cy="91.64" r="0.6" fill="#e08dd6"/><circle cx="378.15" cy="81.57" r="0.6" fill="#e08dd6"/><circle cx="388.42" cy="84.59" r="0.6" fill="#e08dd6"/><circle cx="390.09" cy="78.02" r="0.6" fill="#e08dd6"/><circle cx="390.43" cy="81.14" r="0.6" fill="#e08dd6"/><circle cx="376.56" cy="76.34" r="0.6" fill="#e08dd6"/><circle cx="387.97" cy="92.39" r="0.6" fill="#5b69b4"/><circle cx="383.75" cy="95.25" r="0.6" fill="#5b69b4"/><circle cx="390.63" cy="73.14" r="0.6" fill="#5b69b4"/><circle cx="381.25" cy="71.19" r="0.6" fill="#5b69b4"/><circle cx="383.15" cy="83.94" r="0.6" fill="#e08dd6"/><circle cx="383.56" cy="77.82" r="0.6" fill="#e08dd6"/><circle cx="391.25" cy="82.62" r="0.6" fill="#e08dd6"/><circle cx="381.30" cy="91.42" r="0.6" fill="#e08dd6"/><circle cx="380.31" cy="81.09" r="0.6" fill="#e08dd6"/><circle cx="378.13" cy="75.72" r="0.6" fill="#5b69b4"/><circle cx="384.65" cy="88.38" r="0.6" fill="#e08dd6"/><circle cx="386.96" cy="83.96" r="0.6" fill="#5b69b4"/><circle cx="382.22" cy="73.08" r="0.6" fill="#5b69b4"/><circle cx="376.97" cy="72.31" r="0.6" fill="#e08dd6"/><circle cx="382.81" cy="69.08" r="0.6" fill="#e08dd6"/><circle cx="387.00" cy="78.60" r="0.6" fill="#e08dd6"/><circle cx="380.15" cy="77.92" r="0.6" fill="#e08dd6"/><circle cx="384.18" cy="74.89" r="0.6" fill="#e08dd6"/><circle cx="389.76" cy="82.84" r="0.6" fill="#e08dd6"/><circle cx="377.58" cy="71.27" r="0.6" fill="#e08dd6"/><circle cx="390.35" cy="85.61" r="0.6" fill="#e08dd6"/><circle cx="381.04" cy="89.54" r="0.6" fill="#e08dd6"/><circle cx="377.30" cy="81.18" r="0.6" fill="#5b69b4"/><circle cx="389.52" cy="86.06" r="0.6" fill="#5b69b4"/><circle cx="379.76" cy="75.61" r="0.6" fill="#e08dd6"/><circle cx="377.51" cy="83.98" r="0.6" fill="#e08dd6"/><circle cx="379.33" cy="81.75" r="0.6" fill="#e08dd6"/><circle cx="390.44" cy="95.01" r="0.6" fill="#e08dd6"/><circle cx="384.16" cy="91.61" r="0.6" fill="#e08dd6"/><circle cx="389.97" cy="82.84" r="0.6" fill="#e08dd6"/><circle cx="390.29" cy="77.44" r="0.6" fill="#e08dd6"/><circle cx="391.75" cy="78.18" r="0.6" fill="#5b69b4"/><circle cx="377.66" cy="76.92" r="0.6" fill="#e08dd6"/><circle cx="386.71" cy="95.23" r="0.6" fill="#e08dd6"/><circle cx="387.10" cy="69.92" r="0.6" fill="#e08dd6"/><circle cx="381.92" cy="78.83" r="0.6" fill="#5b69b4"/><circle cx="379.18" cy="75.34" r="0.6" fill="#e08dd6"/><circle cx="384.54" cy="79.64" r="0.6" fill="#e08dd6"/><circle cx="380.67" cy="80.78" r="0.6" fill="#e08dd6"/><circle cx="388.20" cy="95.93" r="0.6" fill="#5b69b4"/><circle cx="377.99" cy="74.50" r="0.6" fill="#5b69b4"/><circle cx="388.01" cy="90.70" r="0.6" fill="#e08dd6"/><circle cx="386.07" cy="82.64" r="0.6" fill="#5b69b4"/><circle cx="387.74" cy="81.24" r="0.6" fill="#e08dd6"/><circle cx="379.54" cy="75.17" r="0.6" fill="#e08dd6"/><circle cx="378.27" cy="69.86" r="0.6" fill="#e08dd6"/><circle cx="381.93" cy="80.79" r="0.6" fill="#e08dd6"/><circle cx="380.85" cy="91.53" r="0.6" fill="#5b69b4"/><circle cx="384.17" cy="73.75" r="0.6" fill="#e08dd6"/><circle cx="390.26" cy="95.82" r="0.6" fill="#e08dd6"/><circle cx="377.24" cy="82.15" r="0.6" fill="#e08dd6"/><circle cx="379.95" cy="87.39" r="0.6" fill="#5b69b4"/><circle cx="382.09" cy="77.46" r="0.6" fill="#5b69b4"/><circle cx="381.22" cy="86.46" r="0.6" fill="#5b69b4"/><circle cx="384.34" cy="82.98" r="0.6" fill="#e08dd6"/><circle cx="387.09" cy="82.56" r="0.6" fill="#5b69b4"/><circle cx="391.23" cy="81.55" r="0.6" fill="#e08dd6"/><circle cx="388.82" cy="95.87" r="0.6" fill="#e08dd6"/><circle cx="386.18" cy="85.94" r="0.6" fill="#e08dd6"/><circle cx="388.79" cy="89.51" r="0.6" fill="#e08dd6"/><circle cx="379.52" cy="80.92" r="0.6" fill="#e08dd6"/><circle cx="378.95" cy="69.40" r="0.6" fill="#e08dd6"/><circle cx="387.20" cy="78.36" r="0.6" fill="#e08dd6"/><circle cx="380.48" cy="69.54" r="0.6" fill="#e08dd6"/><circle cx="382.08" cy="81.48" r="0.6" fill="#e08dd6"/><circle cx="387.02" cy="95.20" r="0.6" fill="#e08dd6"/><circle cx="387.41" cy="75.17" r="0.6" fill="#e08dd6"/><circle cx="385.54" cy="87.53" r="0.6" fill="#e08dd6"/><circle cx="386.00" cy="89.45" r="0.6" fill="#5b69b4"/><circle cx="380.98" cy="86.78" r="0.6" fill="#e08dd6"/><circle cx="387.97" cy="78.16" r="0.6" fill="#5b69b4"/><circle cx="380.64" cy="78.40" r="0.6" fill="#e08dd6"/><circle cx="383.84" cy="85.14" r="0.6" fill="#e08dd6"/><circle cx="386.71" cy="76.42" r="0.6" fill="#e08dd6"/><circle cx="377.70" cy="71.96" r="0.6" fill="#e08dd6"/><circle cx="385.56" cy="86.21" r="0.6" fill="#e08dd6"/><circle cx="389.77" cy="97.51" r="0.6" fill="#e08dd6"/><circle cx="384.23" cy="81.06" r="0.6" fill="#e08dd6"/><circle cx="383.84" cy="79.61" r="0.6" fill="#e08dd6"/><circle cx="388.33" cy="85.53" r="0.6" fill="#e08dd6"/><circle cx="384.70" cy="90.58" r="0.6" fill="#5b69b4"/><circle cx="385.02" cy="85.92" r="0.6" fill="#e08dd6"/><circle cx="385.47" cy="72.12" r="0.6" fill="#e08dd6"/><circle cx="378.55" cy="90.06" r="0.6" fill="#5b69b4"/><circle cx="381.95" cy="72.54" r="0.6" fill="#e08dd6"/><circle cx="389.19" cy="90.56" r="0.6" fill="#e08dd6"/><circle cx="388.39" cy="80.05" r="0.6" fill="#e08dd6"/><circle cx="378.56" cy="90.89" r="0.6" fill="#5b69b4"/><circle cx="379.87" cy="88.23" r="0.6" fill="#e08dd6"/><circle cx="387.34" cy="76.74" r="0.6" fill="#e08dd6"/><circle cx="388.80" cy="85.91" r="0.6" fill="#5b69b4"/><circle cx="391.82" cy="75.44" r="0.6" fill="#e08dd6"/><circle cx="387.88" cy="81.46" r="0.6" fill="#e08dd6"/><circle cx="385.53" cy="77.58" r="0.6" fill="#e08dd6"/><circle cx="380.10" cy="84.75" r="0.6" fill="#e08dd6"/><circle cx="385.96" cy="95.26" r="0.6" fill="#e08dd6"/><circle cx="385.90" cy="83.33" r="0.6" fill="#e08dd6"/><circle cx="386.63" cy="87.06" r="0.6" fill="#5b69b4"/><circle cx="382.86" cy="76.55" r="0.6" fill="#e08dd6"/><circle cx="387.12" cy="80.05" r="0.6" fill="#e08dd6"/><circle cx="377.10" cy="73.74" r="0.6" fill="#5b69b4"/><circle cx="382.10" cy="88.77" r="0.6" fill="#e08dd6"/><circle cx="386.71" cy="83.05" r="0.6" fill="#e08dd6"/><circle cx="389.20" cy="78.29" r="0.6" fill="#e08dd6"/><circle cx="381.97" cy="90.65" r="0.6" fill="#e08dd6"/><circle cx="387.07" cy="81.18" r="0.6" fill="#e08dd6"/><circle cx="384.85" cy="93.77" r="0.6" fill="#e08dd6"/><circle cx="390.18" cy="74.41" r="0.6" fill="#e08dd6"/><circle cx="389.06" cy="84.30" r="0.6" fill="#e08dd6"/><circle cx="391.05" cy="78.34" r="0.6" fill="#e08dd6"/><circle cx="386.84" cy="87.47" r="0.6" fill="#5b69b4"/><circle cx="382.57" cy="72.42" r="0.6" fill="#e08dd6"/><circle cx="387.14" cy="70.84" r="0.6" fill="#e08dd6"/><circle cx="389.71" cy="73.04" r="0.6" fill="#e08dd6"/><circle cx="384.26" cy="90.76" r="0.6" fill="#e08dd6"/><circle cx="381.89" cy="75.85" r="0.6" fill="#e08dd6"/><circle cx="390.24" cy="88.60" r="0.6" fill="#e08dd6"/><circle cx="380.65" cy="90.05" r="0.6" fill="#e08dd6"/><circle cx="390.58" cy="86.04" r="0.6" fill="#e08dd6"/><circle cx="379.94" cy="86.54" r="0.6" fill="#e08dd6"/><circle cx="378.84" cy="74.68" r="0.6" fill="#e08dd6"/><circle cx="386.31" cy="70.18" r="0.6" fill="#e08dd6"/><circle cx="380.52" cy="83.15" r="0.6" fill="#e08dd6"/><circle cx="377.66" cy="85.08" r="0.6" fill="#e08dd6"/><circle cx="387.02" cy="78.01" r="0.6" fill="#e08dd6"/><circle cx="385.56" cy="84.13" r="0.6" fill="#e08dd6"/><circle cx="388.78" cy="85.56" r="0.6" fill="#e08dd6"/><circle cx="386.43" cy="85.20" r="0.6" fill="#e08dd6"/><circle cx="389.31" cy="71.60" r="0.6" fill="#e08dd6"/><circle cx="390.41" cy="86.51" r="0.6" fill="#e08dd6"/><circle cx="389.82" cy="89.20" r="0.6" fill="#5b69b4"/><circle cx="382.36" cy="72.10" r="0.6" fill="#5b69b4"/><circle cx="388.40" cy="89.45" r="0.6" fill="#5b69b4"/><circle cx="383.82" cy="76.67" r="0.6" fill="#5b69b4"/><circle cx="383.72" cy="74.90" r="0.6" fill="#5b69b4"/><circle cx="379.26" cy="74.52" r="0.6" fill="#e08dd6"/><circle cx="387.86" cy="80.05" r="0.6" fill="#e08dd6"/><circle cx="383.88" cy="88.69" r="0.6" fill="#e08dd6"/><circle cx="380.76" cy="86.09" r="0.6" fill="#5b69b4"/><circle cx="379.69" cy="75.23" r="0.6" fill="#e08dd6"/><circle cx="384.99" cy="81.24" r="0.6" fill="#e08dd6"/><circle cx="390.42" cy="72.95" r="0.6" fill="#e08dd6"/><circle cx="390.76" cy="76.41" r="0.6" fill="#5b69b4"/><circle cx="381.85" cy="71.88" r="0.6" fill="#e08dd6"/><circle cx="382.14" cy="93.12" r="0.6" fill="#e08dd6"/><circle cx="379.38" cy="81.35" r="0.6" fill="#e08dd6"/><circle cx="379.11" cy="76.05" r="0.6" fill="#e08dd6"/><circle cx="381.72" cy="73.61" r="0.6" fill="#e08dd6"/><circle cx="387.08" cy="84.00" r="0.6" fill="#e08dd6"/><circle cx="381.04" cy="76.20" r="0.6" fill="#e08dd6"/><circle cx="378.73" cy="72.12" r="0.6" fill="#e08dd6"/><circle cx="383.33" cy="70.97" r="0.6" fill="#e08dd6"/><circle cx="384.64" cy="76.22" r="0.6" fill="#5b69b4"/><circle cx="388.52" cy="76.56" r="0.6" fill="#5b69b4"/><circle cx="389.82" cy="96.30" r="0.6" fill="#5b69b4"/><circle cx="390.96" cy="75.41" r="0.6" fill="#e08dd6"/><circle cx="390.95" cy="82.52" r="0.6" fill="#e08dd6"/><circle cx="390.27" cy="82.30" r="0.6" fill="#e08dd6"/><circle cx="384.92" cy="76.32" r="0.6" fill="#e08dd6"/><circle cx="388.29" cy="79.49" r="0.6" fill="#e08dd6"/><circle cx="390.25" cy="89.38" r="0.6" fill="#e08dd6"/><circle cx="383.18" cy="69.69" r="0.6" fill="#5b69b4"/><circle cx="380.69" cy="80.93" r="0.6" fill="#5b69b4"/><circle cx="382.27" cy="85.75" r="0.6" fill="#5b69b4"/><circle cx="390.39" cy="96.53" r="0.6" fill="#e08dd6"/><circle cx="387.22" cy="88.77" r="0.6" fill="#e08dd6"/><circle cx="388.80" cy="82.18" r="0.6" fill="#5b69b4"/><circle cx="385.09" cy="86.20" r="0.6" fill="#e08dd6"/><circle cx="381.30" cy="88.12" r="0.6" fill="#e08dd6"/><circle cx="377.65" cy="78.66" r="0.6" fill="#5b69b4"/><circle cx="389.37" cy="85.04" r="0.6" fill="#e08dd6"/><circle cx="380.51" cy="71.72" r="0.6" fill="#e08dd6"/><circle cx="380.40" cy="72.49" r="0.6" fill="#e08dd6"/><circle cx="378.75" cy="90.47" r="0.6" fill="#5b69b4"/><circle cx="379.52" cy="73.64" r="0.6" fill="#e08dd6"/><circle cx="386.15" cy="72.59" r="0.6" fill="#5b69b4"/><circle cx="389.47" cy="87.71" r="0.6" fill="#5b69b4"/><circle cx="390.16" cy="89.92" r="0.6" fill="#e08dd6"/><circle cx="387.87" cy="76.57" r="0.6" fill="#e08dd6"/><circle cx="383.09" cy="79.84" r="0.6" fill="#e08dd6"/><circle cx="383.29" cy="92.05" r="0.6" fill="#e08dd6"/><circle cx="386.32" cy="71.19" r="0.6" fill="#5b69b4"/><circle cx="379.79" cy="85.61" r="0.6" fill="#5b69b4"/><circle cx="388.78" cy="75.57" r="0.6" fill="#e08dd6"/><circle cx="380.40" cy="79.76" r="0.6" fill="#e08dd6"/><circle cx="383.65" cy="81.01" r="0.6" fill="#e08dd6"/><circle cx="390.89" cy="86.49" r="0.6" fill="#e08dd6"/><circle cx="380.84" cy="78.80" r="0.6" fill="#e08dd6"/><circle cx="384.41" cy="73.46" r="0.6" fill="#e08dd6"/><circle cx="382.61" cy="70.68" r="0.6" fill="#e08dd6"/><circle cx="386.72" cy="94.03" r="0.6" fill="#5b69b4"/><circle cx="390.49" cy="86.17" r="0.6" fill="#e08dd6"/><circle cx="382.49" cy="85.08" r="0.6" fill="#5b69b4"/><circle cx="385.15" cy="73.92" r="0.6" fill="#e08dd6"/><circle cx="384.91" cy="83.26" r="0.6" fill="#e08dd6"/><circle cx="379.58" cy="81.68" r="0.6" fill="#e08dd6"/><circle cx="389.51" cy="87.46" r="0.6" fill="#5b69b4"/><circle cx="381.63" cy="75.73" r="0.6" fill="#e08dd6"/><circle cx="386.31" cy="84.88" r="0.6" fill="#e08dd6"/><circle cx="381.15" cy="82.50" r="0.6" fill="#e08dd6"/><circle cx="382.84" cy="87.04" r="0.6" fill="#e08dd6"/><circle cx="390.17" cy="79.64" r="0.6" fill="#5b69b4"/><circle cx="384.88" cy="85.14" r="0.6" fill="#e08dd6"/><circle cx="386.89" cy="75.87" r="0.6" fill="#5b69b4"/><circle cx="378.78" cy="88.61" r="0.6" fill="#5b69b4"/><circle cx="380.56" cy="83.08" r="0.6" fill="#e08dd6"/><circle cx="383.53" cy="75.75" r="0.6" fill="#e08dd6"/><circle cx="377.12" cy="72.94" r="0.6" fill="#5b69b4"/><circle cx="388.00" cy="79.59" r="0.6" fill="#5b69b4"/><circle cx="379.55" cy="91.38" r="0.6" fill="#e08dd6"/><circle cx="391.77" cy="74.83" r="0.6" fill="#e08dd6"/><circle cx="387.50" cy="80.33" r="0.6" fill="#5b69b4"/><circle cx="390.42" cy="88.09" r="0.6" fill="#e08dd6"/><circle cx="378.56" cy="81.65" r="0.6" fill="#e08dd6"/><circle cx="387.48" cy="73.24" r="0.6" fill="#e08dd6"/><circle cx="390.87" cy="87.73" r="0.6" fill="#e08dd6"/><circle cx="387.63" cy="81.59" r="0.6" fill="#e08dd6"/><circle cx="386.34" cy="95.75" r="0.6" fill="#5b69b4"/><circle cx="384.28" cy="70.96" r="0.6" fill="#e08dd6"/><circle cx="387.54" cy="96.01" r="0.6" fill="#e08dd6"/><circle cx="378.81" cy="71.85" r="0.6" fill="#5b69b4"/><circle cx="387.13" cy="81.25" r="0.6" fill="#e08dd6"/><circle cx="383.71" cy="75.56" r="0.6" fill="#e08dd6"/><circle cx="388.38" cy="91.53" r="0.6" fill="#5b69b4"/><circle cx="387.80" cy="81.30" r="0.6" fill="#e08dd6"/><circle cx="384.14" cy="80.30" r="0.6" fill="#e08dd6"/><circle cx="383.75" cy="78.27" r="0.6" fill="#e08dd6"/><circle cx="388.97" cy="72.72" r="0.6" fill="#e08dd6"/><circle cx="386.94" cy="92.65" r="0.6" fill="#5b69b4"/><circle cx="381.87" cy="94.66" r="0.6" fill="#e08dd6"/><circle cx="386.23" cy="79.87" r="0.6" fill="#5b69b4"/><circle cx="383.77" cy="84.75" r="0.6" fill="#5b69b4"/><circle cx="389.88" cy="87.15" r="0.6" fill="#e08dd6"/><circle cx="390.32" cy="76.03" r="0.6" fill="#e08dd6"/><circle cx="388.90" cy="80.19" r="0.6" fill="#e08dd6"/><circle cx="379.35" cy="92.16" r="0.6" fill="#e08dd6"/><circle cx="385.49" cy="75.35" r="0.6" fill="#e08dd6"/><circle cx="390.40" cy="83.10" r="0.6" fill="#e08dd6"/><circle cx="381.60" cy="84.61" r="0.6" fill="#e08dd6"/><circle cx="385.01" cy="77.09" r="0.6" fill="#e08dd6"/><circle cx="387.35" cy="76.51" r="0.6" fill="#e08dd6"/><circle cx="387.14" cy="86.70" r="0.6" fill="#5b69b4"/><circle cx="382.25" cy="88.32" r="0.6" fill="#e08dd6"/><circle cx="382.36" cy="91.53" r="0.6" fill="#e08dd6"/><circle cx="382.54" cy="92.77" r="0.6" fill="#5b69b4"/><circle cx="381.13" cy="73.79" r="0.6" fill="#e08dd6"/><circle cx="381.64" cy="72.44" r="0.6" fill="#e08dd6"/><circle cx="382.98" cy="75.78" r="0.6" fill="#e08dd6"/><circle cx="390.22" cy="93.56" r="0.6" fill="#5b69b4"/><circle cx="380.31" cy="77.68" r="0.6" fill="#5b69b4"/><circle cx="384.25" cy="72.63" r="0.6" fill="#e08dd6"/><circle cx="379.79" cy="80.35" r="0.6" fill="#e08dd6"/><circle cx="378.37" cy="72.99" r="0.6" fill="#e08dd6"/><circle cx="385.91" cy="77.54" r="0.6" fill="#e08dd6"/><circle cx="390.74" cy="96.77" r="0.6" fill="#e08dd6"/><circle cx="386.93" cy="76.79" r="0.6" fill="#e08dd6"/><circle cx="388.32" cy="78.65" r="0.6" fill="#e08dd6"/></g>
<g><circle cx="390.77" cy="88.83" r="0.6" fill="#e08dd6"/><circle cx="394.42" cy="83.14" r="0.6" fill="#5b69b4"/><circle cx="396.65" cy="89.15" r="0.6" fill="#e08dd6"/><circle cx="393.69" cy="97.76" r="0.6" fill="#e08dd6"/><circle cx="392.89" cy="80.96" r="0.6" fill="#e08dd6"/><circle cx="396.01" cy="96.91" r="0.6" fill="#e08dd6"/><circle cx="390.69" cy="87.42" r="0.6" fill="#e08dd6"/><circle cx="393.89" cy="82.23" r="0.6" fill="#e08dd6"/><circle cx="392.82" cy="93.26" r="0.6" fill="#e08dd6"/><circle cx="390.84" cy="87.32" r="0.6" fill="#5b69b4"/><circle cx="393.52" cy="80.46" r="0.6" fill="#e08dd6"/><circle cx="391.72" cy="86.37" r="0.6" fill="#e08dd6"/><circle cx="392.25" cy="84.12" r="0.6" fill="#e08dd6"/><circle cx="390.49" cy="90.24" r="0.6" fill="#e08dd6"/><circle cx="394.65" cy="82.28" r="0.6" fill="#e08dd6"/><circle cx="397.33" cy="100.93" r="0.6" fill="#5b69b4"/><circle cx="391.49" cy="96.41" r="0.6" fill="#5b69b4"/><circle cx="392.79" cy="96.96" r="0.6" fill="#e08dd6"/><circle cx="394.69" cy="84.86" r="0.6" fill="#5b69b4"/><circle cx="394.65" cy="89.48" r="0.6" fill="#e08dd6"/><circle cx="391.62" cy="92.28" r="0.6" fill="#e08dd6"/><circle cx="395.02" cy="95.99" r="0.6" fill="#5b69b4"/><circle cx="393.28" cy="93.93" r="0.6" fill="#e08dd6"/><circle cx="392.00" cy="91.70" r="0.6" fill="#e08dd6"/><circle cx="392.38" cy="98.06" r="0.6" fill="#e08dd6"/><circle cx="391.94" cy="86.11" r="0.6" fill="#e08dd6"/><circle cx="390.84" cy="86.31" r="0.6" fill="#e08dd6"/><circle cx="395.10" cy="84.60" r="0.6" fill="#e08dd6"/><circle cx="393.02" cy="84.30" r="0.6" fill="#e08dd6"/><circle cx="393.82" cy="99.40" r="0.6" fill="#e08dd6"/><circle cx="396.96" cy="100.89" r="0.6" fill="#e08dd6"/><circle cx="395.14" cy="87.17" r="0.6" fill="#5b69b4"/><circle cx="394.74" cy="80.49" r="0.6" fill="#e08dd6"/><circle cx="396.38" cy="99.35" r="0.6" fill="#5b69b4"/><circle cx="398.48" cy="99.14" r="0.6" fill="#5b69b4"/><circle cx="396.06" cy="98.51" r="0.6" fill="#e08dd6"/><circle cx="392.85" cy="92.66" r="0.6" fill="#e08dd6"/><circle cx="394.84" cy="83.34" r="0.6" fill="#e08dd6"/><circle cx="395.87" cy="94.12" r="0.6" fill="#5b69b4"/><circle cx="392.72" cy="92.86" r="0.6" fill="#e08dd6"/><circle cx="392.05" cy="95.96" r="0.6" fill="#e08dd6"/><circle cx="394.52" cy="83.92" r="0.6" fill="#e08dd6"/><circle cx="391.34" cy="83.00" r="0.6" fill="#e08dd6"/><circle cx="397.41" cy="99.58" r="0.6" fill="#e08dd6"/><circle cx="395.33" cy="98.43" r="0.6" fill="#e08dd6"/><circle cx="393.20" cy="87.97" r="0.6" fill="#5b69b4"/><circle cx="395.84" cy="92.79" r="0.6" fill="#e08dd6"/><circle cx="390.68" cy="92.76" r="0.6" fill="#e08dd6"/><circle cx="397.41" cy="100.56" r="0.6" fill="#5b69b4"/><circle cx="396.36" cy="98.66" r="0.6" fill="#e08dd6"/><circle cx="394.26" cy="93.27" r="0.6" fill="#5b69b4"/><circle cx="391.87" cy="97.28" r="0.6" fill="#5b69b4"/><circle cx="395.15" cy="91.34" r="0.6" fill="#e08dd6"/><circle cx="392.77" cy="97.91" r="0.6" fill="#e08dd6"/><circle cx="393.94" cy="82.62" r="0.6" fill="#e08dd6"/><circle cx="391.13" cy="79.79" r="0.6" fill="#5b69b4"/><circle cx="393.38" cy="79.73" r="0.6" fill="#5b69b4"/><circle cx="392.51" cy="96.36" r="0.6" fill="#e08dd6"/><circle cx="392.14" cy="79.41" r="0.6" fill="#5b69b4"/><circle cx="392.47" cy="80.22" r="0.6" fill="#e08dd6"/><circle cx="396.01" cy="86.72" r="0.6" fill="#5b69b4"/><circle cx="391.84" cy="89.64" r="0.6" fill="#5b69b4"/><circle cx="396.64" cy="87.34" r="0.6" fill="#5b69b4"/><circle cx="395.28" cy="83.63" r="0.6" fill="#e08dd6"/><circle cx="395.26" cy="80.10" r="0.6" fill="#e08dd6"/><circle cx="398.55" cy="101.51" r="0.6" fill="#e08dd6"/><circle cx="395.41" cy="90.53" r="0.6" fill="#5b69b4"/><circle cx="393.80" cy="97.17" r="0.6" fill="#e08dd6"/><circle cx="395.44" cy="96.22" r="0.6" fill="#e08dd6"/><circle cx="394.22" cy="88.75" r="0.6" fill="#e08dd6"/><circle cx="393.30" cy="84.89" r="0.6" fill="#e08dd6"/><circle cx="393.03" cy="96.88" r="0.6" fill="#e08dd6"/><circle cx="394.45" cy="97.06" r="0.6" fill="#e08dd6"/><circle cx="391.17" cy="93.66" r="0.6" fill="#e08dd6"/><circle cx="391.05" cy="88.33" r="0.6" fill="#e08dd6"/><circle cx="397.16" cy="97.49" r="0.6" fill="#e08dd6"/><circle cx="390.79" cy="86.91" r="0.6" fill="#e08dd6"/><circle cx="396.51" cy="97.23" r="0.6" fill="#e08dd6"/><circle cx="396.81" cy="101.39" r="0.6" fill="#5b69b4"/><circle cx="391.41" cy="93.87" r="0.6" fill="#5b69b4"/><circle cx="391.43" cy="87.17" r="0.6" fill="#e08dd6"/><circle cx="395.35" cy="91.21" r="0.6" fill="#e08dd6"/><circle cx="396.03" cy="98.90" r="0.6" fill="#e08dd6"/><circle cx="393.36" cy="97.35" r="0.6" fill="#5b69b4"/><circle cx="397.40" cy="99.03" r="0.6" fill="#e08dd6"/><circle cx="393.06" cy="93.99" r="0.6" fill="#e08dd6"/><circle cx="395.33" cy="89.22" r="0.6" fill="#e08dd6"/><circle cx="391.47" cy="87.54" r="0.6" fill="#e08dd6"/><circle cx="397.08" cy="94.58" r="0.6" fill="#5b69b4"/><circle cx="392.73" cy="98.17" r="0.6" fill="#e08dd6"/><circle cx="393.66" cy="97.11" r="0.6" fill="#e08dd6"/><circle cx="396.25" cy="93.05" r="0.6" fill="#e08dd6"/><circle cx="397.31" cy="92.44" r="0.6" fill="#5b69b4"/><circle cx="395.07" cy="85.32" r="0.6" fill="#5b69b4"/><circle cx="391.07" cy="94.29" r="0.6" fill="#5b69b4"/></g>
<g><circle cx="376.57" cy="72.32" r="0.6" fill="#e08dd6"/><circle cx="374.85" cy="70.68" r="0.6" fill="#e08dd6"/><circle cx="379.75" cy="70.64" r="0.6" fill="#e08dd6"/><circle cx="377.42" cy="65.62" r="0.6" fill="#e08dd6"/><circle cx="377.63" cy="69.07" r="0.6" fill="#e08dd6"/><circle cx="378.36" cy="70.04" r="0.6" fill="#e08dd6"/><circle cx="377.08" cy="65.72" r="0.6" fill="#e08dd6"/><circle cx="379.69" cy="70.21" r="0.6" fill="#e08dd6"/><circle cx="378.50" cy="73.40" r="0.6" fill="#e08dd6"/><circle cx="379.95" cy="71.34" r="0.6" fill="#e08dd6"/><circle cx="378.40" cy="69.54" r="0.6" fill="#e08dd6"/><circle cx="375.64" cy="70.92" r="0.6" fill="#e08dd6"/><circle cx="377.04" cy="68.61" r="0.6" fill="#5b69b4"/><circle cx="379.80" cy="67.98" r="0.6" fill="#e08dd6"/><circle cx="379.05" cy="72.03" r="0.6" fill="#e08dd6"/><circle cx="378.27" cy="68.76" r="0.6" fill="#e08dd6"/><circle cx="375.60" cy="66.62" r="0.6" fill="#5b69b4"/><circle cx="379.41" cy="71.83" r="0.6" fill="#5b69b4"/><circle cx="376.83" cy="70.11" r="0.6" fill="#5b69b4"/><circle cx="377.20" cy="69.45" r="0.6" fill="#5b69b4"/><circle cx="376.09" cy="67.57" r="0.6" fill="#5b69b4"/><circle cx="375.16" cy="65.39" r="0.6" fill="#5b69b4"/><circle cx="379.92" cy="68.54" r="0.6" fill="#e08dd6"/><circle cx="378.48" cy="70.08" r="0.6" fill="#e08dd6"/><circle cx="378.25" cy="73.02" r="0.6" fill="#e08dd6"/><circle cx="376.05" cy="64.97" r="0.6" fill="#5b69b4"/><circle cx="376.28" cy="69.23" r="0.6" fill="#e08dd6"/><circle cx="379.52" cy="69.86" r="0.6" fill="#5b69b4"/><circle cx="376.81" cy="69.80" r="0.6" fill="#e08dd6"/><circle cx="378.17" cy="70.99" r="0.6" fill="#e08dd6"/><circle cx="377.62" cy="65.21" r="0.6" fill="#5b69b4"/><circle cx="379.39" cy="71.94" r="0.6" fill="#e08dd6"/><circle cx="378.37" cy="67.12" r="0.6" fill="#e08dd6"/><circle cx="374.95" cy="66.73" r="0.6" fill="#e08dd6"/><circle cx="378.39" cy="69.41" r="0.6" fill="#5b69b4"/><circle cx="378.36" cy="67.18" r="0.6" fill="#e08dd6"/><circle cx="375.09" cy="65.78" r="0.6" fill="#e08dd6"/><circle cx="376.69" cy="71.58" r="0.6" fill="#5b69b4"/><circle cx="377.09" cy="69.19" r="0.6" fill="#e08dd6"/><circle cx="379.38" cy="72.61" r="0.6" fill="#e08dd6"/><circle cx="378.56" cy="69.85" r="0.6" fill="#e08dd6"/><circle cx="378.02" cy="68.56" r="0.6" fill="#5b69b4"/><circle cx="377.78" cy="71.03" r="0.6" fill="#e08dd6"/><circle cx="376.28" cy="70.84" r="0.6" fill="#e08dd6"/><circle cx="376.15" cy="72.34" r="0.6" fill="#e08dd6"/></g>
<g><circle cx="396.67" cy="67.80" r="0.6" fill="#5b69b4"/><circle cx="395.18" cy="73.08" r="0.6" fill="#e08dd6"/><circle cx="395.60" cy="71.81" r="0.6" fill="#e08dd6"/><circle cx="394.30" cy="71.99" r="0.6" fill="#5b69b4"/><circle cx="394.63" cy="77.20" r="0.6" fill="#5b69b4"/><circle cx="392.40" cy="79.17" r="0.6" fill="#e08dd6"/><circle cx="392.79" cy="73.43" r="0.6" fill="#e08dd6"/><circle cx="394.87" cy="68.44" r="0.6" fill="#e08dd6"/><circle cx="396.18" cy="67.34" r="0.6" fill="#e08dd6"/><circle cx="394.94" cy="78.91" r="0.6" fill="#e08dd6"/><circle cx="394.06" cy="70.50" r="0.6" fill="#e08dd6"/><circle cx="394.99" cy="71.24" r="0.6" fill="#e08dd6"/><circle cx="393.43" cy="76.97" r="0.6" fill="#e08dd6"/><circle cx="395.21" cy="67.64" r="0.6" fill="#5b69b4"/><circle cx="393.53" cy="78.35" r="0.6" fill="#e08dd6"/><circle cx="396.60" cy="65.02" r="0.6" fill="#e08dd6"/><circle cx="394.75" cy="77.21" r="0.6" fill="#5b69b4"/><circle cx="393.25" cy="76.16" r="0.6" fill="#5b69b4"/><circle cx="393.41" cy="71.68" r="0.6" fill="#e08dd6"/><circle cx="397.32" cy="65.09" r="0.6" fill="#5b69b4"/><circle cx="397.20" cy="64.21" r="0.6" fill="#5b69b4"/><circle cx="393.79" cy="73.13" r="0.6" fill="#e08dd6"/><circle cx="393.80" cy="71.09" r="0.6" fill="#5b69b4"/><circle cx="393.09" cy="76.95" r="0.6" fill="#e08dd6"/><circle cx="393.47" cy="78.20" r="0.6" fill="#5b69b4"/><circle cx="393.85" cy="73.81" r="0.6" fill="#e08dd6"/></g>
<g><circle cx="435.47" cy="84.84" r="0.65" fill="#e65a4c"/><circle cx="436.29" cy="87.43" r="0.65" fill="#e65a4c"/><circle cx="431.67" cy="84.90" r="0.65" fill="#e65a4c"/><circle cx="437.64" cy="85.68" r="0.65" fill="#e65a4c"/><circle cx="433.44" cy="82.04" r="0.65" fill="#e65a4c"/><circle cx="435.86" cy="90.71" r="0.65" fill="#e65a4c"/><circle cx="436.62" cy="89.11" r="0.65" fill="#c6d63c"/><circle cx="434.75" cy="88.81" r="0.65" fill="#e65a4c"/><circle cx="432.21" cy="83.96" r="0.65" fill="#e65a4c"/><circle cx="437.37" cy="88.60" r="0.65" fill="#e65a4c"/><circle cx="435.10" cy="81.79" r="0.65" fill="#e65a4c"/><circle cx="433.70" cy="83.10" r="0.65" fill="#e65a4c"/><circle cx="434.71" cy="86.10" r="0.65" fill="#e65a4c"/><circle cx="436.51" cy="90.40" r="0.65" fill="#e65a4c"/><circle cx="433.13" cy="80.95" r="0.65" fill="#e65a4c"/><circle cx="435.77" cy="90.68" r="0.65" fill="#c6d63c"/><circle cx="435.08" cy="85.10" r="0.65" fill="#e65a4c"/><circle cx="436.52" cy="82.70" r="0.65" fill="#c6d63c"/><circle cx="436.78" cy="91.07" r="0.65" fill="#e65a4c"/><circle cx="436.76" cy="82.45" r="0.65" fill="#c6d63c"/><circle cx="437.66" cy="91.00" r="0.65" fill="#c6d63c"/><circle cx="433.43" cy="87.37" r="0.65" fill="#e65a4c"/><circle cx="431.68" cy="84.76" r="0.65" fill="#e65a4c"/><circle cx="437.37" cy="87.15" r="0.65" fill="#e65a4c"/><circle cx="436.56" cy="85.67" r="0.65" fill="#c6d63c"/><circle cx="438.50" cy="84.36" r="0.65" fill="#e65a4c"/><circle cx="435.20" cy="83.13" r="0.65" fill="#e65a4c"/><circle cx="435.30" cy="84.32" r="0.65" fill="#e65a4c"/><circle cx="438.58" cy="86.16" r="0.65" fill="#e65a4c"/><circle cx="437.69" cy="83.51" r="0.65" fill="#c6d63c"/><circle cx="437.94" cy="85.39" r="0.65" fill="#c6d63c"/><circle cx="434.91" cy="84.84" r="0.65" fill="#e65a4c"/><circle cx="433.18" cy="85.00" r="0.65" fill="#c6d63c"/><circle cx="436.81" cy="91.16" r="0.65" fill="#e65a4c"/><circle cx="434.49" cy="82.36" r="0.65" fill="#e65a4c"/><circle cx="436.36" cy="82.32" r="0.65" fill="#e65a4c"/><circle cx="435.37" cy="88.36" r="0.65" fill="#e65a4c"/><circle cx="438.18" cy="84.94" r="0.65" fill="#e65a4c"/><circle cx="437.75" cy="89.09" r="0.65" fill="#e65a4c"/><circle cx="439.23" cy="86.13" r="0.65" fill="#c6d63c"/></g>
<g><circle cx="441.16" cy="102.97" r="0.65" fill="#c6d63c"/><circle cx="449.89" cy="96.55" r="0.65" fill="#e65a4c"/><circle cx="447.57" cy="96.17" r="0.65" fill="#c6d63c"/><circle cx="448.99" cy="89.48" r="0.65" fill="#e65a4c"/><circle cx="447.76" cy="82.19" r="0.65" fill="#c6d63c"/><circle cx="445.35" cy="93.66" r="0.65" fill="#e65a4c"/><circle cx="442.96" cy="101.66" r="0.65" fill="#e65a4c"/><circle cx="441.16" cy="101.57" r="0.65" fill="#e65a4c"/><circle cx="443.63" cy="100.31" r="0.65" fill="#c6d63c"/><circle cx="445.30" cy="93.22" r="0.65" fill="#c6d63c"/><circle cx="443.58" cy="96.87" r="0.65" fill="#e65a4c"/><circle cx="441.24" cy="84.62" r="0.65" fill="#e65a4c"/><circle cx="446.18" cy="82.71" r="0.65" fill="#c6d63c"/><circle cx="444.80" cy="106.88" r="0.65" fill="#e65a4c"/><circle cx="441.51" cy="103.89" r="0.65" fill="#e65a4c"/><circle cx="447.71" cy="83.46" r="0.65" fill="#e65a4c"/><circle cx="442.36" cy="102.23" r="0.65" fill="#e65a4c"/><circle cx="442.67" cy="84.32" r="0.65" fill="#e65a4c"/><circle cx="447.69" cy="92.24" r="0.65" fill="#e65a4c"/><circle cx="443.19" cy="103.42" r="0.65" fill="#e65a4c"/><circle cx="444.10" cy="83.08" r="0.65" fill="#e65a4c"/><circle cx="441.95" cy="91.27" r="0.65" fill="#e65a4c"/><circle cx="447.80" cy="94.72" r="0.65" fill="#c6d63c"/><circle cx="444.81" cy="82.35" r="0.65" fill="#c6d63c"/><circle cx="444.15" cy="86.84" r="0.65" fill="#c6d63c"/><circle cx="440.09" cy="93.93" r="0.65" fill="#e65a4c"/><circle cx="440.41" cy="99.36" r="0.65" fill="#c6d63c"/><circle cx="448.65" cy="80.78" r="0.65" fill="#e65a4c"/><circle cx="448.06" cy="87.26" r="0.65" fill="#c6d63c"/><circle cx="444.94" cy="95.96" r="0.65" fill="#e65a4c"/><circle cx="450.45" cy="104.92" r="0.65" fill="#c6d63c"/><circle cx="449.96" cy="83.16" r="0.65" fill="#e65a4c"/><circle cx="446.60" cy="87.18" r="0.65" fill="#e65a4c"/><circle cx="437.44" cy="94.20" r="0.65" fill="#e65a4c"/><circle cx="445.35" cy="104.38" r="0.65" fill="#e65a4c"/><circle cx="442.78" cy="103.30" r="0.65" fill="#e65a4c"/><circle cx="446.12" cy="79.53" r="0.65" fill="#e65a4c"/><circle cx="449.67" cy="85.53" r="0.65" fill="#c6d63c"/><circle cx="446.45" cy="78.63" r="0.65" fill="#e65a4c"/><circle cx="448.48" cy="89.12" r="0.65" fill="#c6d63c"/><circle cx="452.67" cy="92.71" r="0.65" fill="#c6d63c"/><circle cx="439.47" cy="98.66" r="0.65" fill="#c6d63c"/><circle cx="443.40" cy="85.06" r="0.65" fill="#e65a4c"/><circle cx="442.72" cy="88.78" r="0.65" fill="#e65a4c"/><circle cx="440.30" cy="96.15" r="0.65" fill="#e65a4c"/><circle cx="452.32" cy="94.80" r="0.65" fill="#c6d63c"/><circle cx="452.28" cy="98.24" r="0.65" fill="#c6d63c"/><circle cx="453.02" cy="100.75" r="0.65" fill="#e65a4c"/><circle cx="445.02" cy="98.33" r="0.65" fill="#c6d63c"/><circle cx="441.17" cy="87.04" r="0.65" fill="#c6d63c"/><circle cx="450.22" cy="87.57" r="0.65" fill="#c6d63c"/><circle cx="447.64" cy="93.98" r="0.65" fill="#e65a4c"/><circle cx="440.37" cy="101.52" r="0.65" fill="#e65a4c"/><circle cx="448.83" cy="79.45" r="0.65" fill="#c6d63c"/><circle cx="446.62" cy="105.53" r="0.65" fill="#c6d63c"/><circle cx="449.12" cy="90.02" r="0.65" fill="#e65a4c"/><circle cx="453.51" cy="99.49" r="0.65" fill="#e65a4c"/><circle cx="445.80" cy="78.29" r="0.65" fill="#e65a4c"/><circle cx="451.27" cy="89.22" r="0.65" fill="#e65a4c"/><circle cx="445.23" cy="96.78" r="0.65" fill="#e65a4c"/><circle cx="454.00" cy="94.32" r="0.65" fill="#e65a4c"/><circle cx="452.68" cy="101.16" r="0.65" fill="#e65a4c"/><circle cx="446.41" cy="106.52" r="0.65" fill="#e65a4c"/><circle cx="446.57" cy="98.02" r="0.65" fill="#c6d63c"/><circle cx="447.29" cy="82.81" r="0.65" fill="#e65a4c"/><circle cx="451.69" cy="85.50" r="0.65" fill="#e65a4c"/><circle cx="450.77" cy="91.02" r="0.65" fill="#e65a4c"/><circle cx="447.17" cy="82.78" r="0.65" fill="#e65a4c"/><circle cx="448.80" cy="93.26" r="0.65" fill="#e65a4c"/><circle cx="447.28" cy="103.67" r="0.65" fill="#e65a4c"/><circle cx="439.77" cy="88.60" r="0.65" fill="#e65a4c"/><circle cx="453.94" cy="89.17" r="0.65" fill="#c6d63c"/><circle cx="442.11" cy="91.92" r="0.65" fill="#c6d63c"/><circle cx="440.27" cy="103.78" r="0.65" fill="#e65a4c"/><circle cx="448.25" cy="79.38" r="0.65" fill="#e65a4c"/><circle cx="454.00" cy="93.17" r="0.65" fill="#e65a4c"/><circle cx="441.55" cy="96.15" r="0.65" fill="#e65a4c"/><circle cx="453.75" cy="87.55" r="0.65" fill="#c6d63c"/><circle cx="438.13" cy="93.43" r="0.65" fill="#e65a4c"/><circle cx="442.56" cy="103.89" r="0.65" fill="#e65a4c"/><circle cx="445.25" cy="80.31" r="0.65" fill="#e65a4c"/><circle cx="442.55" cy="83.62" r="0.65" fill="#e65a4c"/><circle cx="440.23" cy="96.92" r="0.65" fill="#c6d63c"/><circle cx="453.51" cy="88.30" r="0.65" fill="#e65a4c"/><circle cx="448.30" cy="86.78" r="0.65" fill="#c6d63c"/><circle cx="453.14" cy="94.22" r="0.65" fill="#e65a4c"/><circle cx="437.62" cy="100.33" r="0.65" fill="#e65a4c"/><circle cx="449.54" cy="87.91" r="0.65" fill="#c6d63c"/><circle cx="446.88" cy="99.16" r="0.65" fill="#e65a4c"/><circle cx="438.43" cy="99.17" r="0.65" fill="#e65a4c"/><circle cx="438.14" cy="94.85" r="0.65" fill="#e65a4c"/><circle cx="446.01" cy="103.71" r="0.65" fill="#e65a4c"/><circle cx="443.49" cy="97.76" r="0.65" fill="#e65a4c"/><circle cx="452.83" cy="87.61" r="0.65" fill="#c6d63c"/><circle cx="446.14" cy="105.25" r="0.65" fill="#c6d63c"/><circle cx="442.59" cy="91.12" r="0.65" fill="#e65a4c"/><circle cx="442.15" cy="102.14" r="0.65" fill="#e65a4c"/><circle cx="446.44" cy="100.53" r="0.65" fill="#e65a4c"/><circle cx="438.92" cy="104.82" r="0.65" fill="#e65a4c"/><circle cx="451.49" cy="98.34" r="0.65" fill="#e65a4c"/><circle cx="441.01" cy="84.72" r="0.65" fill="#e65a4c"/><circle cx="453.82" cy="89.52" r="0.65" fill="#c6d63c"/><circle cx="448.46" cy="102.18" r="0.65" fill="#c6d63c"/><circle cx="448.40" cy="90.02" r="0.65" fill="#e65a4c"/><circle cx="443.94" cy="106.91" r="0.65" fill="#c6d63c"/><circle cx="447.22" cy="82.82" r="0.65" fill="#c6d63c"/><circle cx="447.81" cy="88.64" r="0.65" fill="#e65a4c"/><circle cx="441.91" cy="107.70" r="0.65" fill="#e65a4c"/><circle cx="440.37" cy="104.88" r="0.65" fill="#e65a4c"/><circle cx="446.34" cy="97.78" r="0.65" fill="#c6d63c"/><circle cx="439.63" cy="100.44" r="0.65" fill="#e65a4c"/><circle cx="445.39" cy="97.47" r="0.65" fill="#c6d63c"/><circle cx="445.42" cy="100.66" r="0.65" fill="#c6d63c"/><circle cx="448.40" cy="86.48" r="0.65" fill="#e65a4c"/><circle cx="449.04" cy="101.35" r="0.65" fill="#e65a4c"/><circle cx="445.23" cy="95.43" r="0.65" fill="#e65a4c"/><circle cx="448.23" cy="91.76" r="0.65" fill="#e65a4c"/><circle cx="438.66" cy="89.52" r="0.65" fill="#e65a4c"/><circle cx="450.74" cy="99.76" r="0.65" fill="#e65a4c"/><circle cx="438.41" cy="91.80" r="0.65" fill="#c6d63c"/><circle cx="447.40" cy="93.57" r="0.65" fill="#e65a4c"/><circle cx="439.73" cy="97.26" r="0.65" fill="#c6d63c"/><circle cx="449.33" cy="93.66" r="0.65" fill="#e65a4c"/><circle cx="453.57" cy="95.02" r="0.65" fill="#c6d63c"/><circle cx="454.02" cy="98.95" r="0.65" fill="#e65a4c"/><circle cx="450.51" cy="81.82" r="0.65" fill="#c6d63c"/><circle cx="446.06" cy="90.63" r="0.65" fill="#e65a4c"/><circle cx="446.19" cy="101.19" r="0.65" fill="#c6d63c"/><circle cx="443.63" cy="101.34" r="0.65" fill="#e65a4c"/><circle cx="449.30" cy="86.63" r="0.65" fill="#c6d63c"/><circle cx="445.47" cy="104.85" r="0.65" fill="#c6d63c"/><circle cx="442.81" cy="98.95" r="0.65" fill="#e65a4c"/><circle cx="441.59" cy="102.05" r="0.65" fill="#e65a4c"/><circle cx="447.77" cy="102.50" r="0.65" fill="#e65a4c"/><circle cx="438.32" cy="89.69" r="0.65" fill="#e65a4c"/><circle cx="445.02" cy="102.69" r="0.65" fill="#e65a4c"/><circle cx="440.77" cy="103.24" r="0.65" fill="#c6d63c"/><circle cx="452.58" cy="94.89" r="0.65" fill="#e65a4c"/><circle cx="438.50" cy="101.35" r="0.65" fill="#e65a4c"/><circle cx="452.28" cy="85.62" r="0.65" fill="#e65a4c"/><circle cx="445.55" cy="85.73" r="0.65" fill="#e65a4c"/><circle cx="438.04" cy="100.08" r="0.65" fill="#e65a4c"/><circle cx="450.42" cy="102.71" r="0.65" fill="#c6d63c"/><circle cx="441.50" cy="88.37" r="0.65" fill="#c6d63c"/><circle cx="441.01" cy="99.24" r="0.65" fill="#e65a4c"/><circle cx="454.17" cy="100.40" r="0.65" fill="#e65a4c"/><circle cx="445.75" cy="93.72" r="0.65" fill="#e65a4c"/><circle cx="444.26" cy="99.45" r="0.65" fill="#e65a4c"/><circle cx="441.83" cy="84.26" r="0.65" fill="#e65a4c"/><circle cx="449.31" cy="84.57" r="0.65" fill="#e65a4c"/><circle cx="454.43" cy="99.86" r="0.65" fill="#e65a4c"/><circle cx="447.59" cy="80.66" r="0.65" fill="#e65a4c"/><circle cx="445.87" cy="95.75" r="0.65" fill="#e65a4c"/><circle cx="451.27" cy="88.88" r="0.65" fill="#c6d63c"/><circle cx="446.67" cy="102.69" r="0.65" fill="#e65a4c"/><circle cx="439.47" cy="87.20" r="0.65" fill="#c6d63c"/><circle cx="451.28" cy="87.91" r="0.65" fill="#e65a4c"/><circle cx="445.24" cy="88.22" r="0.65" fill="#e65a4c"/><circle cx="440.97" cy="90.82" r="0.65" fill="#e65a4c"/><circle cx="448.08" cy="84.63" r="0.65" fill="#c6d63c"/><circle cx="447.31" cy="81.42" r="0.65" fill="#e65a4c"/><circle cx="438.21" cy="102.06" r="0.65" fill="#c6d63c"/><circle cx="452.74" cy="98.39" r="0.65" fill="#c6d63c"/><circle cx="449.63" cy="98.66" r="0.65" fill="#e65a4c"/><circle cx="447.41" cy="91.82" r="0.65" fill="#e65a4c"/><circle cx="444.39" cy="85.42" r="0.65" fill="#e65a4c"/><circle cx="448.44" cy="81.20" r="0.65" fill="#c6d63c"/><circle cx="445.46" cy="84.74" r="0.65" fill="#e65a4c"/><circle cx="443.55" cy="105.16" r="0.65" fill="#e65a4c"/><circle cx="447.05" cy="97.21" r="0.65" fill="#e65a4c"/><circle cx="450.83" cy="104.65" r="0.65" fill="#c6d63c"/><circle cx="450.18" cy="93.23" r="0.65" fill="#e65a4c"/><circle cx="452.01" cy="99.40" r="0.65" fill="#e65a4c"/><circle cx="438.02" cy="99.89" r="0.65" fill="#c6d63c"/><circle cx="440.44" cy="102.41" r="0.65" fill="#e65a4c"/><circle cx="448.39" cy="93.94" r="0.65" fill="#e65a4c"/><circle cx="444.75" cy="108.06" r="0.65" fill="#e65a4c"/><circle cx="440.78" cy="105.41" r="0.65" fill="#e65a4c"/><circle cx="447.15" cy="85.20" r="0.65" fill="#e65a4c"/><circle cx="443.39" cy="101.76" r="0.65" fill="#c6d63c"/><circle cx="446.73" cy="84.97" r="0.65" fill="#e65a4c"/><circle cx="450.16" cy="80.97" r="0.65" fill="#c6d63c"/><circle cx="437.82" cy="98.81" r="0.65" fill="#e65a4c"/><circle cx="452.04" cy="101.09" r="0.65" fill="#e65a4c"/><circle cx="449.32" cy="106.45" r="0.65" fill="#e65a4c"/><circle cx="453.34" cy="94.68" r="0.65" fill="#c6d63c"/><circle cx="440.21" cy="95.07" r="0.65" fill="#e65a4c"/><circle cx="444.59" cy="99.25" r="0.65" fill="#e65a4c"/><circle cx="449.94" cy="98.60" r="0.65" fill="#e65a4c"/><circle cx="446.44" cy="86.61" r="0.65" fill="#e65a4c"/><circle cx="449.88" cy="90.81" r="0.65" fill="#e65a4c"/><circle cx="445.77" cy="82.68" r="0.65" fill="#c6d63c"/><circle cx="445.36" cy="83.05" r="0.65" fill="#e65a4c"/><circle cx="444.96" cy="91.56" r="0.65" fill="#e65a4c"/><circle cx="444.55" cy="100.41" r="0.65" fill="#c6d63c"/><circle cx="442.98" cy="96.48" r="0.65" fill="#e65a4c"/><circle cx="448.85" cy="80.70" r="0.65" fill="#e65a4c"/><circle cx="441.62" cy="103.23" r="0.65" fill="#c6d63c"/><circle cx="444.34" cy="106.94" r="0.65" fill="#c6d63c"/><circle cx="448.34" cy="103.18" r="0.65" fill="#e65a4c"/><circle cx="446.11" cy="86.50" r="0.65" fill="#e65a4c"/><circle cx="449.79" cy="95.46" r="0.65" fill="#c6d63c"/><circle cx="454.38" cy="89.74" r="0.65" fill="#e65a4c"/><circle cx="443.45" cy="104.66" r="0.65" fill="#e65a4c"/><circle cx="448.77" cy="100.44" r="0.65" fill="#e65a4c"/><circle cx="440.30" cy="99.91" r="0.65" fill="#c6d63c"/><circle cx="441.21" cy="85.01" r="0.65" fill="#e65a4c"/><circle cx="453.08" cy="89.18" r="0.65" fill="#c6d63c"/><circle cx="446.16" cy="87.47" r="0.65" fill="#c6d63c"/><circle cx="450.28" cy="90.20" r="0.65" fill="#e65a4c"/><circle cx="443.36" cy="94.27" r="0.65" fill="#e65a4c"/><circle cx="449.97" cy="96.62" r="0.65" fill="#e65a4c"/><circle cx="453.74" cy="99.49" r="0.65" fill="#e65a4c"/><circle cx="443.08" cy="107.18" r="0.65" fill="#e65a4c"/><circle cx="439.24" cy="88.67" r="0.65" fill="#e65a4c"/><circle cx="443.30" cy="88.92" r="0.65" fill="#e65a4c"/><circle cx="448.19" cy="87.58" r="0.65" fill="#e65a4c"/><circle cx="445.57" cy="98.24" r="0.65" fill="#e65a4c"/><circle cx="443.56" cy="88.78" r="0.65" fill="#e65a4c"/><circle cx="442.18" cy="90.06" r="0.65" fill="#e65a4c"/><circle cx="442.52" cy="91.33" r="0.65" fill="#e65a4c"/><circle cx="453.65" cy="88.87" r="0.65" fill="#c6d63c"/><circle cx="445.97" cy="86.80" r="0.65" fill="#c6d63c"/><circle cx="447.42" cy="93.97" r="0.65" fill="#c6d63c"/><circle cx="450.29" cy="103.21" r="0.65" fill="#c6d63c"/><circle cx="443.03" cy="82.78" r="0.65" fill="#e65a4c"/><circle cx="438.88" cy="96.49" r="0.65" fill="#c6d63c"/><circle cx="447.25" cy="106.60" r="0.65" fill="#e65a4c"/><circle cx="448.99" cy="94.88" r="0.65" fill="#e65a4c"/><circle cx="447.52" cy="105.75" r="0.65" fill="#e65a4c"/><circle cx="453.98" cy="92.53" r="0.65" fill="#c6d63c"/><circle cx="450.43" cy="97.76" r="0.65" fill="#c6d63c"/><circle cx="448.60" cy="89.03" r="0.65" fill="#c6d63c"/><circle cx="450.91" cy="101.58" r="0.65" fill="#e65a4c"/><circle cx="452.05" cy="102.20" r="0.65" fill="#c6d63c"/><circle cx="441.07" cy="88.08" r="0.65" fill="#e65a4c"/><circle cx="442.02" cy="104.31" r="0.65" fill="#e65a4c"/><circle cx="448.55" cy="96.94" r="0.65" fill="#c6d63c"/><circle cx="446.07" cy="77.31" r="0.65" fill="#c6d63c"/><circle cx="451.61" cy="91.39" r="0.65" fill="#e65a4c"/><circle cx="448.53" cy="88.03" r="0.65" fill="#e65a4c"/><circle cx="452.29" cy="84.31" r="0.65" fill="#e65a4c"/><circle cx="446.12" cy="94.53" r="0.65" fill="#e65a4c"/><circle cx="448.89" cy="93.88" r="0.65" fill="#e65a4c"/><circle cx="446.47" cy="92.53" r="0.65" fill="#e65a4c"/><circle cx="447.96" cy="79.78" r="0.65" fill="#e65a4c"/><circle cx="447.71" cy="83.36" r="0.65" fill="#e65a4c"/><circle cx="447.61" cy="100.23" r="0.65" fill="#e65a4c"/><circle cx="448.96" cy="93.82" r="0.65" fill="#c6d63c"/><circle cx="445.03" cy="101.04" r="0.65" fill="#c6d63c"/><circle cx="446.30" cy="86.83" r="0.65" fill="#e65a4c"/><circle cx="451.82" cy="86.54" r="0.65" fill="#e65a4c"/><circle cx="449.65" cy="84.28" r="0.65" fill="#e65a4c"/><circle cx="450.07" cy="104.91" r="0.65" fill="#e65a4c"/><circle cx="437.41" cy="95.83" r="0.65" fill="#e65a4c"/><circle cx="453.02" cy="101.22" r="0.65" fill="#e65a4c"/><circle cx="439.23" cy="99.96" r="0.65" fill="#e65a4c"/><circle cx="450.33" cy="81.50" r="0.65" fill="#e65a4c"/><circle cx="448.63" cy="96.50" r="0.65" fill="#e65a4c"/><circle cx="440.60" cy="102.87" r="0.65" fill="#c6d63c"/><circle cx="445.37" cy="95.37" r="0.65" fill="#c6d63c"/><circle cx="453.54" cy="87.09" r="0.65" fill="#e65a4c"/><circle cx="445.78" cy="106.67" r="0.65" fill="#e65a4c"/><circle cx="442.91" cy="87.97" r="0.65" fill="#e65a4c"/><circle cx="440.34" cy="102.43" r="0.65" fill="#c6d63c"/><circle cx="447.42" cy="91.16" r="0.65" fill="#e65a4c"/><circle cx="445.79" cy="92.93" r="0.65" fill="#c6d63c"/><circle cx="447.32" cy="81.23" r="0.65" fill="#e65a4c"/><circle cx="449.71" cy="84.81" r="0.65" fill="#c6d63c"/><circle cx="438.82" cy="102.27" r="0.65" fill="#c6d63c"/><circle cx="450.55" cy="90.19" r="0.65" fill="#e65a4c"/><circle cx="447.78" cy="84.14" r="0.65" fill="#e65a4c"/><circle cx="440.89" cy="104.92" r="0.65" fill="#e65a4c"/><circle cx="450.24" cy="101.19" r="0.65" fill="#e65a4c"/><circle cx="442.67" cy="96.57" r="0.65" fill="#e65a4c"/><circle cx="449.38" cy="98.20" r="0.65" fill="#e65a4c"/><circle cx="444.75" cy="95.26" r="0.65" fill="#e65a4c"/><circle cx="453.43" cy="98.39" r="0.65" fill="#e65a4c"/><circle cx="445.40" cy="107.66" r="0.65" fill="#e65a4c"/><circle cx="448.29" cy="101.44" r="0.65" fill="#e65a4c"/><circle cx="446.84" cy="100.82" r="0.65" fill="#c6d63c"/><circle cx="450.66" cy="92.49" r="0.65" fill="#e65a4c"/><circle cx="445.25" cy="82.73" r="0.65" fill="#e65a4c"/><circle cx="448.54" cy="99.86" r="0.65" fill="#c6d63c"/><circle cx="449.47" cy="97.29" r="0.65" fill="#c6d63c"/><circle cx="448.45" cy="81.26" r="0.65" fill="#c6d63c"/><circle cx="452.63" cy="99.90" r="0.65" fill="#e65a4c"/><circle cx="441.86" cy="93.58" r="0.65" fill="#c6d63c"/><circle cx="451.04" cy="83.95" r="0.65" fill="#c6d63c"/><circle cx="447.18" cy="97.40" r="0.65" fill="#e65a4c"/><circle cx="449.43" cy="104.65" r="0.65" fill="#e65a4c"/><circle cx="442.97" cy="90.97" r="0.65" fill="#e65a4c"/><circle cx="442.32" cy="97.43" r="0.65" fill="#e65a4c"/><circle cx="443.76" cy="84.23" r="0.65" fill="#e65a4c"/><circle cx="443.70" cy="104.88" r="0.65" fill="#e65a4c"/><circle cx="448.46" cy="80.35" r="0.65" fill="#e65a4c"/><circle cx="451.50" cy="87.54" r="0.65" fill="#c6d63c"/><circle cx="451.57" cy="92.57" r="0.65" fill="#c6d63c"/><circle cx="452.20" cy="94.10" r="0.65" fill="#e65a4c"/><circle cx="454.30" cy="94.03" r="0.65" fill="#e65a4c"/><circle cx="446.26" cy="95.84" r="0.65" fill="#e65a4c"/><circle cx="448.94" cy="85.10" r="0.65" fill="#c6d63c"/><circle cx="453.41" cy="89.94" r="0.65" fill="#e65a4c"/><circle cx="447.28" cy="94.91" r="0.65" fill="#c6d63c"/><circle cx="443.01" cy="87.77" r="0.65" fill="#e65a4c"/><circle cx="445.15" cy="93.23" r="0.65" fill="#e65a4c"/><circle cx="444.77" cy="103.68" r="0.65" fill="#e65a4c"/><circle cx="444.75" cy="100.72" r="0.65" fill="#e65a4c"/><circle cx="450.33" cy="92.71" r="0.65" fill="#e65a4c"/><circle cx="445.25" cy="83.90" r="0.65" fill="#e65a4c"/><circle cx="449.13" cy="104.39" r="0.65" fill="#e65a4c"/><circle cx="454.08" cy="95.21" r="0.65" fill="#e65a4c"/><circle cx="445.03" cy="108.11" r="0.65" fill="#e65a4c"/><circle cx="452.07" cy="95.59" r="0.65" fill="#c6d63c"/><circle cx="452.10" cy="89.47" r="0.65" fill="#e65a4c"/><circle cx="448.18" cy="95.64" r="0.65" fill="#e65a4c"/><circle cx="447.87" cy="104.86" r="0.65" fill="#e65a4c"/><circle cx="444.02" cy="98.12" r="0.65" fill="#e65a4c"/><circle cx="452.11" cy="98.68" r="0.65" fill="#c6d63c"/><circle cx="445.77" cy="81.67" r="0.65" fill="#c6d63c"/><circle cx="440.52" cy="92.66" r="0.65" fill="#e65a4c"/><circle cx="448.09" cy="106.49" r="0.65" fill="#c6d63c"/><circle cx="448.16" cy="101.17" r="0.65" fill="#c6d63c"/><circle cx="446.67" cy="77.14" r="0.65" fill="#e65a4c"/><circle cx="447.71" cy="86.16" r="0.65" fill="#e65a4c"/><circle cx="447.81" cy="87.23" r="0.65" fill="#e65a4c"/><circle cx="453.45" cy="90.88" r="0.65" fill="#e65a4c"/><circle cx="448.73" cy="93.80" r="0.65" fill="#e65a4c"/><circle cx="445.20" cy="98.43" r="0.65" fill="#e65a4c"/><circle cx="452.98" cy="96.77" r="0.65" fill="#c6d63c"/><circle cx="450.92" cy="87.63" r="0.65" fill="#e65a4c"/><circle cx="446.46" cy="78.35" r="0.65" fill="#c6d63c"/><circle cx="441.81" cy="91.28" r="0.65" fill="#c6d63c"/><circle cx="443.64" cy="83.05" r="0.65" fill="#c6d63c"/><circle cx="444.47" cy="106.06" r="0.65" fill="#e65a4c"/><circle cx="446.96" cy="97.76" r="0.65" fill="#e65a4c"/><circle cx="453.78" cy="98.83" r="0.65" fill="#e65a4c"/><circle cx="451.28" cy="96.00" r="0.65" fill="#c6d63c"/><circle cx="443.01" cy="97.52" r="0.65" fill="#e65a4c"/><circle cx="438.74" cy="90.07" r="0.65" fill="#c6d63c"/><circle cx="444.27" cy="86.14" r="0.65" fill="#e65a4c"/><circle cx="447.93" cy="103.97" r="0.65" fill="#c6d63c"/><circle cx="442.73" cy="94.73" r="0.65" fill="#c6d63c"/><circle cx="444.46" cy="97.03" r="0.65" fill="#e65a4c"/><circle cx="446.02" cy="84.76" r="0.65" fill="#c6d63c"/><circle cx="451.51" cy="103.71" r="0.65" fill="#e65a4c"/><circle cx="450.99" cy="97.93" r="0.65" fill="#e65a4c"/><circle cx="448.16" cy="89.06" r="0.65" fill="#c6d63c"/><circle cx="447.12" cy="88.22" r="0.65" fill="#e65a4c"/><circle cx="449.45" cy="104.76" r="0.65" fill="#e65a4c"/><circle cx="442.41" cy="100.13" r="0.65" fill="#e65a4c"/><circle cx="440.42" cy="85.71" r="0.65" fill="#e65a4c"/><circle cx="444.71" cy="88.91" r="0.65" fill="#e65a4c"/><circle cx="452.28" cy="84.10" r="0.65" fill="#c6d63c"/><circle cx="442.39" cy="91.46" r="0.65" fill="#e65a4c"/><circle cx="444.90" cy="94.79" r="0.65" fill="#e65a4c"/><circle cx="437.67" cy="95.57" r="0.65" fill="#c6d63c"/><circle cx="442.04" cy="92.90" r="0.65" fill="#c6d63c"/><circle cx="441.13" cy="99.50" r="0.65" fill="#e65a4c"/><circle cx="441.30" cy="94.67" r="0.65" fill="#c6d63c"/><circle cx="439.38" cy="93.94" r="0.65" fill="#e65a4c"/><circle cx="449.38" cy="96.80" r="0.65" fill="#c6d63c"/><circle cx="444.54" cy="105.50" r="0.65" fill="#e65a4c"/><circle cx="451.10" cy="82.33" r="0.65" fill="#e65a4c"/><circle cx="444.03" cy="101.39" r="0.65" fill="#c6d63c"/><circle cx="438.15" cy="102.73" r="0.65" fill="#c6d63c"/><circle cx="452.78" cy="97.29" r="0.65" fill="#e65a4c"/><circle cx="439.19" cy="94.19" r="0.65" fill="#e65a4c"/><circle cx="439.80" cy="105.09" r="0.65" fill="#e65a4c"/><circle cx="445.01" cy="84.00" r="0.65" fill="#e65a4c"/><circle cx="439.20" cy="88.42" r="0.65" fill="#c6d63c"/><circle cx="444.82" cy="93.80" r="0.65" fill="#c6d63c"/><circle cx="453.96" cy="89.21" r="0.65" fill="#c6d63c"/><circle cx="445.54" cy="105.14" r="0.65" fill="#c6d63c"/><circle cx="451.75" cy="97.10" r="0.65" fill="#e65a4c"/><circle cx="443.41" cy="97.83" r="0.65" fill="#e65a4c"/><circle cx="444.37" cy="101.91" r="0.65" fill="#e65a4c"/><circle cx="450.34" cy="88.83" r="0.65" fill="#e65a4c"/><circle cx="441.58" cy="94.96" r="0.65" fill="#c6d63c"/><circle cx="444.89" cy="84.38" r="0.65" fill="#e65a4c"/><circle cx="438.65" cy="101.48" r="0.65" fill="#e65a4c"/><circle cx="448.85" cy="90.78" r="0.65" fill="#e65a4c"/><circle cx="441.94" cy="91.81" r="0.65" fill="#e65a4c"/><circle cx="444.15" cy="103.21" r="0.65" fill="#e65a4c"/><circle cx="453.95" cy="89.36" r="0.65" fill="#e65a4c"/><circle cx="441.94" cy="99.94" r="0.65" fill="#c6d63c"/><circle cx="451.64" cy="91.59" r="0.65" fill="#e65a4c"/><circle cx="449.26" cy="83.26" r="0.65" fill="#c6d63c"/><circle cx="450.52" cy="101.78" r="0.65" fill="#e65a4c"/><circle cx="452.49" cy="88.28" r="0.65" fill="#c6d63c"/><circle cx="452.47" cy="95.05" r="0.65" fill="#c6d63c"/><circle cx="439.58" cy="87.34" r="0.65" fill="#c6d63c"/><circle cx="443.88" cy="91.70" r="0.65" fill="#e65a4c"/><circle cx="442.45" cy="84.92" r="0.65" fill="#e65a4c"/><circle cx="446.26" cy="100.76" r="0.65" fill="#c6d63c"/><circle cx="445.35" cy="90.74" r="0.65" fill="#e65a4c"/><circle cx="443.82" cy="106.69" r="0.65" fill="#e65a4c"/><circle cx="450.44" cy="98.70" r="0.65" fill="#c6d63c"/><circle cx="438.13" cy="100.99" r="0.65" fill="#e65a4c"/><circle cx="444.70" cy="98.79" r="0.65" fill="#e65a4c"/><circle cx="445.33" cy="78.96" r="0.65" fill="#c6d63c"/><circle cx="446.68" cy="99.86" r="0.65" fill="#c6d63c"/><circle cx="440.08" cy="96.19" r="0.65" fill="#e65a4c"/><circle cx="442.87" cy="101.72" r="0.65" fill="#e65a4c"/><circle cx="446.10" cy="94.88" r="0.65" fill="#e65a4c"/><circle cx="452.76" cy="98.26" r="0.65" fill="#e65a4c"/><circle cx="449.74" cy="106.10" r="0.65" fill="#c6d63c"/><circle cx="439.89" cy="89.32" r="0.65" fill="#e65a4c"/><circle cx="446.54" cy="93.49" r="0.65" fill="#c6d63c"/><circle cx="441.85" cy="101.48" r="0.65" fill="#e65a4c"/><circle cx="451.01" cy="86.73" r="0.65" fill="#e65a4c"/><circle cx="438.04" cy="92.43" r="0.65" fill="#c6d63c"/><circle cx="446.95" cy="104.09" r="0.65" fill="#e65a4c"/><circle cx="447.16" cy="93.92" r="0.65" fill="#e65a4c"/><circle cx="450.79" cy="97.79" r="0.65" fill="#e65a4c"/><circle cx="449.50" cy="90.55" r="0.65" fill="#c6d63c"/><circle cx="446.61" cy="93.83" r="0.65" fill="#e65a4c"/><circle cx="451.48" cy="103.69" r="0.65" fill="#e65a4c"/><circle cx="437.73" cy="94.15" r="0.65" fill="#e65a4c"/><circle cx="451.51" cy="86.55" r="0.65" fill="#e65a4c"/><circle cx="443.09" cy="106.88" r="0.65" fill="#e65a4c"/><circle cx="446.85" cy="78.82" r="0.65" fill="#e65a4c"/><circle cx="441.18" cy="96.07" r="0.65" fill="#e65a4c"/><circle cx="453.64" cy="93.12" r="0.65" fill="#c6d63c"/><circle cx="443.47" cy="88.12" r="0.65" fill="#e65a4c"/><circle cx="439.04" cy="95.83" r="0.65" fill="#e65a4c"/><circle cx="448.80" cy="100.49" r="0.65" fill="#e65a4c"/><circle cx="443.64" cy="83.78" r="0.65" fill="#c6d63c"/><circle cx="438.71" cy="98.79" r="0.65" fill="#e65a4c"/><circle cx="448.38" cy="79.91" r="0.65" fill="#e65a4c"/><circle cx="449.72" cy="105.02" r="0.65" fill="#e65a4c"/><circle cx="437.62" cy="96.64" r="0.65" fill="#e65a4c"/><circle cx="450.75" cy="100.25" r="0.65" fill="#e65a4c"/><circle cx="441.89" cy="88.49" r="0.65" fill="#e65a4c"/><circle cx="447.26" cy="105.28" r="0.65" fill="#c6d63c"/><circle cx="443.08" cy="97.82" r="0.65" fill="#c6d63c"/><circle cx="453.52" cy="99.42" r="0.65" fill="#c6d63c"/><circle cx="440.87" cy="87.07" r="0.65" fill="#c6d63c"/><circle cx="445.74" cy="88.13" r="0.65" fill="#e65a4c"/><circle cx="440.20" cy="94.49" r="0.65" fill="#e65a4c"/><circle cx="442.60" cy="85.22" r="0.65" fill="#c6d63c"/><circle cx="451.58" cy="99.04" r="0.65" fill="#c6d63c"/><circle cx="451.23" cy="91.62" r="0.65" fill="#e65a4c"/><circle cx="445.92" cy="106.09" r="0.65" fill="#e65a4c"/><circle cx="446.27" cy="105.43" r="0.65" fill="#c6d63c"/><circle cx="452.32" cy="86.33" r="0.65" fill="#e65a4c"/><circle cx="446.54" cy="92.80" r="0.65" fill="#e65a4c"/><circle cx="448.12" cy="78.44" r="0.65" fill="#e65a4c"/><circle cx="446.27" cy="97.90" r="0.65" fill="#c6d63c"/><circle cx="442.09" cy="101.84" r="0.65" fill="#e65a4c"/><circle cx="446.11" cy="91.01" r="0.65" fill="#e65a4c"/><circle cx="443.33" cy="91.84" r="0.65" fill="#e65a4c"/><circle cx="453.45" cy="98.66" r="0.65" fill="#e65a4c"/><circle cx="451.93" cy="92.08" r="0.65" fill="#e65a4c"/><circle cx="444.78" cy="85.04" r="0.65" fill="#c6d63c"/><circle cx="443.05" cy="98.58" r="0.65" fill="#e65a4c"/><circle cx="441.98" cy="107.64" r="0.65" fill="#e65a4c"/><circle cx="450.80" cy="104.95" r="0.65" fill="#e65a4c"/><circle cx="448.90" cy="99.99" r="0.65" fill="#e65a4c"/><circle cx="438.79" cy="96.78" r="0.65" fill="#e65a4c"/><circle cx="452.97" cy="88.11" r="0.65" fill="#c6d63c"/><circle cx="446.59" cy="84.91" r="0.65" fill="#c6d63c"/><circle cx="448.56" cy="105.43" r="0.65" fill="#e65a4c"/><circle cx="449.66" cy="91.90" r="0.65" fill="#c6d63c"/><circle cx="453.03" cy="90.68" r="0.65" fill="#e65a4c"/><circle cx="449.79" cy="97.96" r="0.65" fill="#c6d63c"/><circle cx="444.08" cy="88.79" r="0.65" fill="#c6d63c"/><circle cx="443.02" cy="98.31" r="0.65" fill="#c6d63c"/><circle cx="445.69" cy="85.78" r="0.65" fill="#e65a4c"/><circle cx="452.23" cy="91.01" r="0.65" fill="#e65a4c"/></g>
<g><circle cx="456.93" cy="106.62" r="0.65" fill="#c6d63c"/><circle cx="454.44" cy="105.05" r="0.65" fill="#e65a4c"/><circle cx="456.46" cy="107.15" r="0.65" fill="#c6d63c"/><circle cx="452.41" cy="106.86" r="0.65" fill="#e65a4c"/><circle cx="451.95" cy="105.83" r="0.65" fill="#c6d63c"/><circle cx="453.96" cy="103.74" r="0.65" fill="#e65a4c"/><circle cx="452.24" cy="103.84" r="0.65" fill="#e65a4c"/><circle cx="453.07" cy="103.04" r="0.65" fill="#c6d63c"/><circle cx="455.57" cy="105.89" r="0.65" fill="#e65a4c"/><circle cx="453.16" cy="104.04" r="0.65" fill="#e65a4c"/><circle cx="455.37" cy="106.27" r="0.65" fill="#e65a4c"/><circle cx="453.10" cy="104.79" r="0.65" fill="#e65a4c"/><circle cx="454.37" cy="105.76" r="0.65" fill="#e65a4c"/><circle cx="451.75" cy="105.04" r="0.65" fill="#e65a4c"/><circle cx="452.97" cy="104.45" r="0.65" fill="#e65a4c"/><circle cx="455.12" cy="103.96" r="0.65" fill="#c6d63c"/><circle cx="451.26" cy="105.98" r="0.65" fill="#c6d63c"/><circle cx="454.30" cy="103.38" r="0.65" fill="#c6d63c"/><circle cx="456.60" cy="105.58" r="0.65" fill="#c6d63c"/><circle cx="451.06" cy="105.32" r="0.65" fill="#c6d63c"/><circle cx="454.66" cy="104.40" r="0.65" fill="#c6d63c"/><circle cx="450.67" cy="105.17" r="0.65" fill="#e65a4c"/><circle cx="452.96" cy="104.89" r="0.65" fill="#e65a4c"/><circle cx="456.42" cy="107.30" r="0.65" fill="#e65a4c"/><circle cx="453.83" cy="106.42" r="0.65" fill="#e65a4c"/><circle cx="456.03" cy="104.69" r="0.65" fill="#e65a4c"/><circle cx="451.83" cy="104.29" r="0.65" fill="#e65a4c"/><circle cx="457.02" cy="105.66" r="0.65" fill="#e65a4c"/></g>
<g><circle cx="449.54" cy="76.65" r="0.6" fill="#e65a4c"/><circle cx="446.38" cy="57.24" r="0.6" fill="#e65a4c"/><circle cx="446.87" cy="59.90" r="0.6" fill="#c6d63c"/><circle cx="449.40" cy="70.33" r="0.6" fill="#e65a4c"/><circle cx="446.81" cy="56.10" r="0.6" fill="#e65a4c"/><circle cx="446.38" cy="57.08" r="0.6" fill="#e65a4c"/><circle cx="448.14" cy="61.96" r="0.6" fill="#e65a4c"/><circle cx="449.59" cy="76.28" r="0.6" fill="#e65a4c"/><circle cx="448.45" cy="70.10" r="0.6" fill="#e65a4c"/><circle cx="447.37" cy="60.33" r="0.6" fill="#c6d63c"/><circle cx="445.39" cy="53.83" r="0.6" fill="#c6d63c"/><circle cx="448.47" cy="72.08" r="0.6" fill="#e65a4c"/><circle cx="448.52" cy="71.06" r="0.6" fill="#e65a4c"/><circle cx="446.06" cy="55.42" r="0.6" fill="#c6d63c"/><circle cx="447.06" cy="57.52" r="0.6" fill="#e65a4c"/><circle cx="449.64" cy="73.09" r="0.6" fill="#c6d63c"/><circle cx="447.39" cy="65.11" r="0.6" fill="#e65a4c"/><circle cx="449.50" cy="70.61" r="0.6" fill="#e65a4c"/><circle cx="446.32" cy="55.66" r="0.6" fill="#e65a4c"/><circle cx="447.24" cy="60.68" r="0.6" fill="#e65a4c"/><circle cx="449.65" cy="71.60" r="0.6" fill="#e65a4c"/><circle cx="448.36" cy="71.20" r="0.6" fill="#e65a4c"/><circle cx="448.40" cy="66.68" r="0.6" fill="#c6d63c"/><circle cx="449.10" cy="73.74" r="0.6" fill="#e65a4c"/><circle cx="449.40" cy="70.90" r="0.6" fill="#e65a4c"/><circle cx="447.90" cy="64.33" r="0.6" fill="#c6d63c"/><circle cx="447.05" cy="61.83" r="0.6" fill="#c6d63c"/><circle cx="449.74" cy="76.04" r="0.6" fill="#e65a4c"/><circle cx="450.14" cy="74.34" r="0.6" fill="#e65a4c"/><circle cx="448.66" cy="69.89" r="0.6" fill="#e65a4c"/><circle cx="445.96" cy="56.65" r="0.6" fill="#e65a4c"/><circle cx="445.85" cy="53.29" r="0.6" fill="#e65a4c"/><circle cx="448.18" cy="66.22" r="0.6" fill="#e65a4c"/><circle cx="449.35" cy="76.89" r="0.6" fill="#e65a4c"/><circle cx="447.02" cy="58.55" r="0.6" fill="#c6d63c"/><circle cx="449.04" cy="66.68" r="0.6" fill="#e65a4c"/><circle cx="447.67" cy="64.26" r="0.6" fill="#e65a4c"/><circle cx="448.35" cy="64.33" r="0.6" fill="#e65a4c"/><circle cx="447.89" cy="67.54" r="0.6" fill="#e65a4c"/><circle cx="449.14" cy="75.17" r="0.6" fill="#c6d63c"/><circle cx="447.61" cy="61.29" r="0.6" fill="#e65a4c"/><circle cx="447.95" cy="64.69" r="0.6" fill="#e65a4c"/><circle cx="446.26" cy="56.72" r="0.6" fill="#e65a4c"/><circle cx="449.42" cy="75.72" r="0.6" fill="#e65a4c"/><circle cx="448.63" cy="69.85" r="0.6" fill="#e65a4c"/><circle cx="448.27" cy="68.95" r="0.6" fill="#c6d63c"/><circle cx="446.52" cy="62.08" r="0.6" fill="#c6d63c"/><circle cx="447.85" cy="63.04" r="0.6" fill="#e65a4c"/><circle cx="447.86" cy="68.97" r="0.6" fill="#e65a4c"/><circle cx="449.67" cy="73.81" r="0.6" fill="#e65a4c"/><circle cx="446.73" cy="61.31" r="0.6" fill="#c6d63c"/><circle cx="447.11" cy="59.66" r="0.6" fill="#e65a4c"/><circle cx="448.75" cy="66.08" r="0.6" fill="#e65a4c"/><circle cx="449.18" cy="73.07" r="0.6" fill="#c6d63c"/><circle cx="446.10" cy="55.00" r="0.6" fill="#c6d63c"/><circle cx="447.26" cy="55.76" r="0.6" fill="#e65a4c"/><circle cx="449.57" cy="71.25" r="0.6" fill="#e65a4c"/><circle cx="448.13" cy="64.07" r="0.6" fill="#e65a4c"/><circle cx="448.71" cy="68.75" r="0.6" fill="#e65a4c"/><circle cx="446.52" cy="57.60" r="0.6" fill="#e65a4c"/><circle cx="445.56" cy="53.91" r="0.6" fill="#e65a4c"/><circle cx="445.77" cy="54.51" r="0.6" fill="#e65a4c"/><circle cx="448.28" cy="66.87" r="0.6" fill="#e65a4c"/><circle cx="449.03" cy="69.17" r="0.6" fill="#e65a4c"/><circle cx="448.06" cy="66.59" r="0.6" fill="#e65a4c"/><circle cx="448.10" cy="66.08" r="0.6" fill="#e65a4c"/><circle cx="448.85" cy="70.60" r="0.6" fill="#e65a4c"/><circle cx="447.81" cy="63.57" r="0.6" fill="#e65a4c"/><circle cx="449.41" cy="71.19" r="0.6" fill="#e65a4c"/><circle cx="446.42" cy="57.05" r="0.6" fill="#e65a4c"/><circle cx="446.94" cy="58.65" r="0.6" fill="#e65a4c"/><circle cx="446.70" cy="57.13" r="0.6" fill="#e65a4c"/><circle cx="446.67" cy="57.75" r="0.6" fill="#e65a4c"/><circle cx="449.62" cy="73.78" r="0.6" fill="#c6d63c"/><circle cx="447.93" cy="67.43" r="0.6" fill="#e65a4c"/><circle cx="448.02" cy="64.61" r="0.6" fill="#e65a4c"/><circle cx="448.16" cy="66.42" r="0.6" fill="#c6d63c"/><circle cx="446.13" cy="54.55" r="0.6" fill="#e65a4c"/><circle cx="447.33" cy="61.91" r="0.6" fill="#e65a4c"/><circle cx="448.68" cy="76.63" r="0.6" fill="#e65a4c"/><circle cx="448.35" cy="65.78" r="0.6" fill="#c6d63c"/><circle cx="446.62" cy="57.10" r="0.6" fill="#e65a4c"/><circle cx="447.61" cy="59.40" r="0.6" fill="#e65a4c"/><circle cx="446.98" cy="61.07" r="0.6" fill="#e65a4c"/><circle cx="446.97" cy="62.94" r="0.6" fill="#e65a4c"/><circle cx="448.05" cy="66.39" r="0.6" fill="#e65a4c"/><circle cx="448.74" cy="70.09" r="0.6" fill="#e65a4c"/><circle cx="447.45" cy="63.92" r="0.6" fill="#c6d63c"/><circle cx="448.13" cy="68.70" r="0.6" fill="#c6d63c"/><circle cx="447.94" cy="65.96" r="0.6" fill="#e65a4c"/></g>
<g><circle cx="457.31" cy="62.92" r="0.55" fill="#e65a4c"/><circle cx="456.69" cy="59.95" r="0.55" fill="#e65a4c"/><circle cx="457.81" cy="63.42" r="0.55" fill="#e65a4c"/><circle cx="456.81" cy="62.90" r="0.55" fill="#e65a4c"/><circle cx="458.34" cy="65.91" r="0.55" fill="#c6d63c"/><circle cx="456.26" cy="58.87" r="0.55" fill="#e65a4c"/></g>
<g><circle cx="463.53" cy="54.49" r="0.55" fill="#e65a4c"/><circle cx="463.53" cy="54.02" r="0.55" fill="#e65a4c"/><circle cx="463.80" cy="55.20" r="0.55" fill="#c6d63c"/><circle cx="461.94" cy="53.50" r="0.55" fill="#e65a4c"/><circle cx="464.50" cy="55.32" r="0.55" fill="#e65a4c"/><circle cx="463.88" cy="54.93" r="0.55" fill="#e65a4c"/><circle cx="464.06" cy="55.38" r="0.55" fill="#e65a4c"/><circle cx="462.65" cy="53.37" r="0.55" fill="#e65a4c"/></g>
<g><circle cx="475.08" cy="108.35" r="0.65" fill="#e65a4c"/><circle cx="475.00" cy="110.93" r="0.65" fill="#c6d63c"/><circle cx="475.80" cy="105.96" r="0.65" fill="#e65a4c"/><circle cx="475.18" cy="112.15" r="0.65" fill="#e65a4c"/><circle cx="474.38" cy="113.99" r="0.65" fill="#e65a4c"/><circle cx="475.83" cy="118.42" r="0.65" fill="#e65a4c"/><circle cx="475.71" cy="114.71" r="0.65" fill="#e65a4c"/><circle cx="475.35" cy="116.52" r="0.65" fill="#e65a4c"/><circle cx="474.49" cy="112.99" r="0.65" fill="#e65a4c"/><circle cx="474.25" cy="109.51" r="0.65" fill="#e65a4c"/><circle cx="474.84" cy="121.39" r="0.65" fill="#e65a4c"/><circle cx="475.23" cy="113.88" r="0.65" fill="#e65a4c"/><circle cx="474.38" cy="108.40" r="0.65" fill="#e65a4c"/><circle cx="474.71" cy="114.75" r="0.65" fill="#e65a4c"/><circle cx="473.90" cy="110.07" r="0.65" fill="#e65a4c"/><circle cx="474.33" cy="110.12" r="0.65" fill="#e65a4c"/><circle cx="475.16" cy="117.54" r="0.65" fill="#e65a4c"/><circle cx="475.03" cy="102.64" r="0.65" fill="#e65a4c"/><circle cx="474.28" cy="111.83" r="0.65" fill="#c6d63c"/><circle cx="474.82" cy="119.10" r="0.65" fill="#e65a4c"/><circle cx="474.09" cy="108.48" r="0.65" fill="#e65a4c"/><circle cx="474.18" cy="104.90" r="0.65" fill="#e65a4c"/><circle cx="474.90" cy="121.04" r="0.65" fill="#e65a4c"/><circle cx="475.36" cy="112.74" r="0.65" fill="#e65a4c"/><circle cx="474.46" cy="107.84" r="0.65" fill="#e65a4c"/><circle cx="475.02" cy="114.45" r="0.65" fill="#e65a4c"/><circle cx="473.71" cy="104.45" r="0.65" fill="#e65a4c"/><circle cx="475.11" cy="121.06" r="0.65" fill="#e65a4c"/><circle cx="475.53" cy="121.25" r="0.65" fill="#e65a4c"/><circle cx="474.74" cy="116.14" r="0.65" fill="#e65a4c"/><circle cx="473.95" cy="108.32" r="0.65" fill="#e65a4c"/><circle cx="475.45" cy="105.66" r="0.65" fill="#e65a4c"/><circle cx="475.13" cy="103.06" r="0.65" fill="#e65a4c"/><circle cx="474.76" cy="117.31" r="0.65" fill="#e65a4c"/><circle cx="475.37" cy="111.55" r="0.65" fill="#e65a4c"/><circle cx="474.34" cy="102.36" r="0.65" fill="#e65a4c"/><circle cx="474.86" cy="103.75" r="0.65" fill="#e65a4c"/><circle cx="475.20" cy="119.26" r="0.65" fill="#e65a4c"/><circle cx="474.69" cy="115.86" r="0.65" fill="#e65a4c"/><circle cx="475.31" cy="119.24" r="0.65" fill="#e65a4c"/><circle cx="475.69" cy="105.41" r="0.65" fill="#e65a4c"/><circle cx="474.62" cy="111.87" r="0.65" fill="#e65a4c"/><circle cx="475.39" cy="103.27" r="0.65" fill="#e65a4c"/><circle cx="474.64" cy="112.11" r="0.65" fill="#e65a4c"/><circle cx="474.73" cy="105.91" r="0.65" fill="#e65a4c"/><circle cx="474.17" cy="103.84" r="0.65" fill="#e65a4c"/><circle cx="474.50" cy="103.39" r="0.65" fill="#e65a4c"/><circle cx="474.62" cy="108.12" r="0.65" fill="#e65a4c"/><circle cx="474.55" cy="109.39" r="0.65" fill="#e65a4c"/><circle cx="474.72" cy="113.31" r="0.65" fill="#c6d63c"/><circle cx="476.28" cy="121.40" r="0.65" fill="#e65a4c"/><circle cx="475.15" cy="120.33" r="0.65" fill="#e65a4c"/><circle cx="474.56" cy="110.25" r="0.65" fill="#e65a4c"/><circle cx="474.50" cy="112.12" r="0.65" fill="#e65a4c"/><circle cx="474.58" cy="119.02" r="0.65" fill="#e65a4c"/><circle cx="474.96" cy="103.64" r="0.65" fill="#e65a4c"/><circle cx="474.55" cy="115.52" r="0.65" fill="#e65a4c"/><circle cx="474.68" cy="115.42" r="0.65" fill="#e65a4c"/><circle cx="475.01" cy="114.02" r="0.65" fill="#e65a4c"/><circle cx="475.02" cy="112.90" r="0.65" fill="#e65a4c"/><circle cx="474.88" cy="116.72" r="0.65" fill="#e65a4c"/><circle cx="474.64" cy="109.21" r="0.65" fill="#e65a4c"/><circle cx="474.50" cy="115.45" r="0.65" fill="#e65a4c"/><circle cx="474.46" cy="108.45" r="0.65" fill="#e65a4c"/><circle cx="475.47" cy="120.14" r="0.65" fill="#e65a4c"/><circle cx="474.76" cy="118.46" r="0.65" fill="#e65a4c"/><circle cx="474.80" cy="105.02" r="0.65" fill="#e65a4c"/><circle cx="474.83" cy="104.55" r="0.65" fill="#e65a4c"/><circle cx="475.10" cy="119.05" r="0.65" fill="#e65a4c"/><circle cx="474.48" cy="106.78" r="0.65" fill="#c6d63c"/><circle cx="474.56" cy="119.56" r="0.65" fill="#e65a4c"/><circle cx="473.96" cy="108.24" r="0.65" fill="#e65a4c"/><circle cx="474.52" cy="106.11" r="0.65" fill="#e65a4c"/><circle cx="474.04" cy="114.16" r="0.65" fill="#e65a4c"/><circle cx="474.48" cy="110.27" r="0.65" fill="#e65a4c"/><circle cx="474.55" cy="112.05" r="0.65" fill="#e65a4c"/><circle cx="474.93" cy="118.34" r="0.65" fill="#e65a4c"/><circle cx="474.32" cy="110.85" r="0.65" fill="#e65a4c"/><circle cx="474.63" cy="114.82" r="0.65" fill="#e65a4c"/><circle cx="474.96" cy="116.24" r="0.65" fill="#e65a4c"/></g>
<path d="M482.17,69.41 L484.67,68.62 L488.18,68.42 L491.68,69.02 L495.19,70.20 L497.39,72.37 L497.99,75.83 L497.59,79.77 L496.99,85.20 L496.39,91.12 L496.79,97.44 L493.78,96.85 L490.18,95.66 L486.97,94.09 L484.77,92.51 L483.37,89.64 L482.77,86.19 L482.37,81.25 L481.97,75.33 Z" fill="#e65a4c"/>
<g fill="#e65a4c"><circle cx="488.56" cy="68.45" r="0.55"/><circle cx="482.59" cy="76.49" r="0.55"/><circle cx="481.63" cy="69.55" r="0.55"/><circle cx="496.36" cy="96.98" r="0.55"/><circle cx="489.28" cy="95.06" r="0.55"/><circle cx="496.72" cy="86.53" r="0.55"/><circle cx="487.53" cy="68.61" r="0.55"/><circle cx="497.34" cy="72.97" r="0.55"/><circle cx="485.66" cy="93.49" r="0.55"/><circle cx="492.48" cy="95.90" r="0.55"/><circle cx="497.11" cy="88.24" r="0.55"/><circle cx="495.96" cy="85.32" r="0.55"/><circle cx="481.68" cy="80.58" r="0.55"/><circle cx="481.43" cy="76.63" r="0.55"/><circle cx="496.84" cy="71.58" r="0.55"/><circle cx="487.39" cy="68.41" r="0.55"/><circle cx="495.41" cy="70.70" r="0.55"/><circle cx="482.42" cy="73.70" r="0.55"/><circle cx="482.12" cy="74.15" r="0.55"/><circle cx="482.89" cy="89.86" r="0.55"/><circle cx="483.04" cy="68.57" r="0.55"/><circle cx="494.60" cy="97.04" r="0.55"/><circle cx="484.31" cy="91.97" r="0.55"/><circle cx="497.76" cy="81.67" r="0.55"/><circle cx="484.65" cy="89.94" r="0.55"/><circle cx="497.81" cy="77.18" r="0.55"/><circle cx="482.57" cy="78.89" r="0.55"/><circle cx="496.99" cy="72.27" r="0.55"/><circle cx="486.21" cy="93.52" r="0.55"/><circle cx="494.64" cy="69.81" r="0.55"/><circle cx="482.17" cy="75.75" r="0.55"/><circle cx="495.82" cy="97.35" r="0.55"/><circle cx="494.57" cy="96.36" r="0.55"/><circle cx="490.31" cy="69.21" r="0.55"/><circle cx="495.30" cy="70.92" r="0.55"/><circle cx="483.92" cy="88.43" r="0.55"/><circle cx="491.59" cy="96.60" r="0.55"/><circle cx="497.80" cy="72.89" r="0.55"/><circle cx="497.94" cy="80.56" r="0.55"/><circle cx="495.56" cy="97.13" r="0.55"/><circle cx="484.46" cy="92.05" r="0.55"/><circle cx="495.09" cy="96.42" r="0.55"/><circle cx="487.50" cy="68.20" r="0.55"/><circle cx="485.66" cy="69.00" r="0.55"/><circle cx="482.55" cy="85.67" r="0.55"/><circle cx="486.23" cy="68.80" r="0.55"/><circle cx="483.42" cy="90.40" r="0.55"/><circle cx="488.96" cy="95.93" r="0.55"/><circle cx="483.00" cy="84.36" r="0.55"/><circle cx="490.72" cy="69.56" r="0.55"/><circle cx="481.69" cy="72.33" r="0.55"/><circle cx="485.92" cy="93.12" r="0.55"/><circle cx="486.14" cy="93.09" r="0.55"/><circle cx="482.45" cy="86.34" r="0.55"/><circle cx="483.62" cy="90.99" r="0.55"/><circle cx="484.49" cy="90.26" r="0.55"/><circle cx="486.87" cy="69.79" r="0.55"/><circle cx="496.81" cy="70.62" r="0.55"/><circle cx="497.48" cy="95.24" r="0.55"/><circle cx="482.39" cy="82.61" r="0.55"/><circle cx="483.79" cy="69.23" r="0.55"/><circle cx="482.27" cy="68.64" r="0.55"/><circle cx="497.25" cy="92.10" r="0.55"/><circle cx="490.06" cy="68.51" r="0.55"/><circle cx="484.14" cy="89.71" r="0.55"/><circle cx="498.66" cy="81.33" r="0.55"/><circle cx="483.50" cy="88.36" r="0.55"/><circle cx="483.36" cy="68.97" r="0.55"/><circle cx="489.73" cy="94.98" r="0.55"/><circle cx="485.61" cy="68.32" r="0.55"/><circle cx="490.86" cy="95.72" r="0.55"/><circle cx="486.32" cy="68.37" r="0.55"/><circle cx="481.99" cy="75.13" r="0.55"/><circle cx="496.51" cy="86.68" r="0.55"/><circle cx="497.00" cy="97.05" r="0.55"/><circle cx="487.06" cy="68.60" r="0.55"/><circle cx="483.16" cy="86.76" r="0.55"/><circle cx="494.95" cy="70.61" r="0.55"/><circle cx="484.59" cy="91.94" r="0.55"/><circle cx="497.96" cy="75.96" r="0.55"/></g>
<g fill="#ffffff" fill-opacity="0.4"><circle cx="488.82" cy="89.09" r="0.45"/><circle cx="485.99" cy="75.12" r="0.45"/><circle cx="487.75" cy="77.93" r="0.45"/><circle cx="485.96" cy="83.60" r="0.45"/><circle cx="494.54" cy="78.49" r="0.45"/><circle cx="487.42" cy="73.46" r="0.45"/><circle cx="491.01" cy="95.18" r="0.45"/><circle cx="492.38" cy="92.76" r="0.45"/><circle cx="486.35" cy="79.59" r="0.45"/><circle cx="491.72" cy="84.43" r="0.45"/><circle cx="492.42" cy="72.77" r="0.45"/><circle cx="491.21" cy="82.19" r="0.45"/><circle cx="487.47" cy="74.36" r="0.45"/><circle cx="484.59" cy="75.61" r="0.45"/><circle cx="487.33" cy="84.47" r="0.45"/><circle cx="495.60" cy="75.89" r="0.45"/><circle cx="495.65" cy="96.23" r="0.45"/><circle cx="487.88" cy="91.92" r="0.45"/><circle cx="486.52" cy="83.25" r="0.45"/><circle cx="489.83" cy="69.84" r="0.45"/><circle cx="490.90" cy="88.54" r="0.45"/><circle cx="483.96" cy="76.17" r="0.45"/><circle cx="491.55" cy="74.57" r="0.45"/><circle cx="491.06" cy="95.43" r="0.45"/><circle cx="492.15" cy="84.30" r="0.45"/><circle cx="485.62" cy="85.42" r="0.45"/><circle cx="486.38" cy="78.02" r="0.45"/><circle cx="490.32" cy="69.65" r="0.45"/><circle cx="489.88" cy="84.36" r="0.45"/><circle cx="489.05" cy="73.96" r="0.45"/><circle cx="492.99" cy="83.82" r="0.45"/><circle cx="486.50" cy="87.17" r="0.45"/><circle cx="492.04" cy="75.43" r="0.45"/><circle cx="491.60" cy="94.00" r="0.45"/><circle cx="482.08" cy="76.20" r="0.45"/><circle cx="489.61" cy="82.29" r="0.45"/><circle cx="489.65" cy="76.25" r="0.45"/><circle cx="482.89" cy="73.36" r="0.45"/><circle cx="488.03" cy="73.93" r="0.45"/><circle cx="483.69" cy="88.73" r="0.45"/><circle cx="494.99" cy="70.78" r="0.45"/><circle cx="490.33" cy="83.21" r="0.45"/><circle cx="488.13" cy="91.07" r="0.45"/><circle cx="489.98" cy="94.50" r="0.45"/><circle cx="488.28" cy="86.76" r="0.45"/><circle cx="487.37" cy="94.17" r="0.45"/><circle cx="489.30" cy="94.18" r="0.45"/><circle cx="483.79" cy="76.52" r="0.45"/><circle cx="486.55" cy="78.77" r="0.45"/><circle cx="490.06" cy="85.42" r="0.45"/><circle cx="488.44" cy="82.22" r="0.45"/><circle cx="494.65" cy="87.62" r="0.45"/><circle cx="489.34" cy="70.96" r="0.45"/><circle cx="492.73" cy="71.03" r="0.45"/><circle cx="494.83" cy="93.36" r="0.45"/><circle cx="494.09" cy="73.59" r="0.45"/><circle cx="490.99" cy="91.98" r="0.45"/><circle cx="487.58" cy="89.43" r="0.45"/><circle cx="492.82" cy="85.55" r="0.45"/><circle cx="488.87" cy="81.94" r="0.45"/></g>
<path d="M496.99,79.08 L499.69,78.69 L502.00,79.67 L502.60,83.23 L503.00,88.16 L503.80,94.09 L504.70,99.02 L505.40,102.77 L503.20,101.78 L500.19,99.61 L496.79,97.44 L496.09,93.10 L496.49,88.16 L496.79,83.23 Z" fill="#e65a4c"/>
<g fill="#e65a4c"><circle cx="503.10" cy="91.64" r="0.55"/><circle cx="504.67" cy="97.10" r="0.55"/><circle cx="500.84" cy="101.51" r="0.55"/><circle cx="504.48" cy="101.84" r="0.55"/><circle cx="502.45" cy="83.60" r="0.55"/><circle cx="498.71" cy="78.59" r="0.55"/><circle cx="502.36" cy="87.84" r="0.55"/><circle cx="495.75" cy="87.10" r="0.55"/><circle cx="502.17" cy="89.66" r="0.55"/><circle cx="496.26" cy="96.12" r="0.55"/><circle cx="502.97" cy="85.38" r="0.55"/><circle cx="498.75" cy="79.10" r="0.55"/><circle cx="497.39" cy="78.81" r="0.55"/><circle cx="503.07" cy="89.83" r="0.55"/><circle cx="504.06" cy="103.00" r="0.55"/><circle cx="502.22" cy="83.97" r="0.55"/><circle cx="502.29" cy="80.19" r="0.55"/><circle cx="503.05" cy="85.00" r="0.55"/><circle cx="503.10" cy="83.46" r="0.55"/><circle cx="498.23" cy="97.99" r="0.55"/><circle cx="504.11" cy="96.40" r="0.55"/><circle cx="503.52" cy="85.89" r="0.55"/><circle cx="503.83" cy="92.41" r="0.55"/><circle cx="502.60" cy="89.29" r="0.55"/><circle cx="497.71" cy="77.95" r="0.55"/><circle cx="501.66" cy="78.13" r="0.55"/><circle cx="503.98" cy="101.14" r="0.55"/><circle cx="495.51" cy="97.05" r="0.55"/><circle cx="502.35" cy="89.08" r="0.55"/><circle cx="500.35" cy="79.60" r="0.55"/><circle cx="501.28" cy="80.82" r="0.55"/><circle cx="503.27" cy="88.47" r="0.55"/><circle cx="498.21" cy="97.93" r="0.55"/><circle cx="504.24" cy="97.42" r="0.55"/><circle cx="499.71" cy="100.26" r="0.55"/><circle cx="497.41" cy="97.33" r="0.55"/><circle cx="497.66" cy="79.87" r="0.55"/><circle cx="496.32" cy="89.13" r="0.55"/><circle cx="496.69" cy="85.23" r="0.55"/><circle cx="500.71" cy="79.65" r="0.55"/></g>
<g fill="#ffffff" fill-opacity="0.4"><circle cx="502.81" cy="96.41" r="0.45"/><circle cx="501.39" cy="95.47" r="0.45"/><circle cx="498.32" cy="88.88" r="0.45"/><circle cx="499.99" cy="86.30" r="0.45"/><circle cx="497.78" cy="93.95" r="0.45"/><circle cx="503.42" cy="91.98" r="0.45"/><circle cx="499.93" cy="90.35" r="0.45"/><circle cx="504.59" cy="98.88" r="0.45"/><circle cx="500.37" cy="86.94" r="0.45"/><circle cx="497.60" cy="83.40" r="0.45"/><circle cx="496.82" cy="86.76" r="0.45"/><circle cx="501.56" cy="94.24" r="0.45"/><circle cx="500.44" cy="89.19" r="0.45"/><circle cx="496.81" cy="85.89" r="0.45"/><circle cx="500.57" cy="91.96" r="0.45"/><circle cx="499.92" cy="79.56" r="0.45"/><circle cx="497.78" cy="96.24" r="0.45"/><circle cx="496.78" cy="84.70" r="0.45"/><circle cx="496.74" cy="93.22" r="0.45"/><circle cx="503.71" cy="98.55" r="0.45"/></g>
<path d="M481.37,63.88 L483.37,64.67 L485.37,66.84 L486.37,69.90 L485.57,72.77 L483.17,73.56 L480.77,71.98 L479.76,68.82 L480.17,65.46 Z" fill="#e65a4c"/>
<g fill="#e65a4c"><circle cx="481.53" cy="63.13" r="0.55"/><circle cx="481.68" cy="71.10" r="0.55"/><circle cx="480.54" cy="65.53" r="0.55"/><circle cx="485.76" cy="70.33" r="0.55"/><circle cx="479.20" cy="69.30" r="0.55"/><circle cx="485.12" cy="67.34" r="0.55"/><circle cx="485.68" cy="68.67" r="0.55"/><circle cx="481.63" cy="72.81" r="0.55"/><circle cx="484.76" cy="73.15" r="0.55"/><circle cx="480.39" cy="66.60" r="0.55"/><circle cx="482.56" cy="64.49" r="0.55"/><circle cx="479.61" cy="66.35" r="0.55"/><circle cx="480.38" cy="72.29" r="0.55"/><circle cx="485.98" cy="68.74" r="0.55"/><circle cx="479.37" cy="67.02" r="0.55"/><circle cx="485.65" cy="69.64" r="0.55"/><circle cx="480.31" cy="66.36" r="0.55"/><circle cx="486.03" cy="69.15" r="0.55"/><circle cx="484.92" cy="66.15" r="0.55"/><circle cx="479.63" cy="67.36" r="0.55"/></g>
<g fill="#ffffff" fill-opacity="0.4"><circle cx="484.95" cy="67.38" r="0.45"/><circle cx="482.81" cy="71.47" r="0.45"/><circle cx="480.45" cy="68.22" r="0.45"/><circle cx="480.46" cy="69.49" r="0.45"/></g>
<path d="M503.80,60.33 L505.00,60.72 L504.80,62.11 L503.80,64.67 L502.60,67.93 L501.80,71.38 L501.50,75.33 L501.09,79.08 L497.19,79.08 L497.99,74.84 L499.59,70.40 L501.39,66.45 L503.00,63.09 L503.60,61.51 Z" fill="#e65a4c"/>
<g fill="#e65a4c"><circle cx="501.00" cy="67.55" r="0.55"/><circle cx="499.15" cy="71.35" r="0.55"/><circle cx="504.85" cy="61.08" r="0.55"/><circle cx="505.10" cy="65.15" r="0.55"/><circle cx="504.72" cy="59.71" r="0.55"/><circle cx="502.63" cy="68.66" r="0.55"/><circle cx="503.51" cy="61.29" r="0.55"/><circle cx="499.32" cy="79.05" r="0.55"/><circle cx="497.82" cy="78.60" r="0.55"/><circle cx="503.19" cy="63.76" r="0.55"/><circle cx="503.83" cy="62.40" r="0.55"/><circle cx="504.36" cy="64.77" r="0.55"/><circle cx="502.03" cy="69.80" r="0.55"/><circle cx="499.30" cy="71.57" r="0.55"/><circle cx="497.37" cy="75.45" r="0.55"/><circle cx="505.00" cy="61.15" r="0.55"/><circle cx="503.37" cy="61.63" r="0.55"/><circle cx="504.93" cy="59.67" r="0.55"/><circle cx="506.00" cy="61.43" r="0.55"/><circle cx="499.98" cy="79.62" r="0.55"/><circle cx="501.19" cy="69.14" r="0.55"/><circle cx="502.86" cy="63.72" r="0.55"/><circle cx="504.75" cy="60.55" r="0.55"/><circle cx="503.33" cy="66.51" r="0.55"/><circle cx="501.54" cy="75.70" r="0.55"/></g>
<g fill="#c6d63c"><circle cx="490.68" cy="70.09" r="0.55"/><circle cx="492.27" cy="76.50" r="0.55"/><circle cx="495.27" cy="75.49" r="0.55"/><circle cx="494.96" cy="72.12" r="0.55"/><circle cx="491.39" cy="86.03" r="0.55"/><circle cx="492.85" cy="85.63" r="0.55"/><circle cx="488.63" cy="73.66" r="0.55"/><circle cx="489.88" cy="81.85" r="0.55"/><circle cx="482.45" cy="69.68" r="0.55"/><circle cx="496.79" cy="77.22" r="0.55"/><circle cx="491.50" cy="90.58" r="0.55"/><circle cx="485.91" cy="72.32" r="0.55"/><circle cx="489.31" cy="91.85" r="0.55"/><circle cx="490.28" cy="85.71" r="0.55"/><circle cx="496.29" cy="72.02" r="0.55"/><circle cx="487.04" cy="89.36" r="0.55"/><circle cx="496.32" cy="72.17" r="0.55"/><circle cx="492.54" cy="84.02" r="0.55"/><circle cx="487.90" cy="94.32" r="0.55"/><circle cx="496.93" cy="76.10" r="0.55"/><circle cx="489.74" cy="75.40" r="0.55"/><circle cx="490.03" cy="91.77" r="0.55"/><circle cx="496.32" cy="74.15" r="0.55"/><circle cx="490.49" cy="71.94" r="0.55"/><circle cx="485.81" cy="71.92" r="0.55"/><circle cx="486.86" cy="88.15" r="0.55"/><circle cx="494.35" cy="80.02" r="0.55"/><circle cx="489.58" cy="78.08" r="0.55"/><circle cx="489.64" cy="76.56" r="0.55"/><circle cx="493.47" cy="77.84" r="0.55"/><circle cx="485.71" cy="80.31" r="0.55"/><circle cx="489.63" cy="74.65" r="0.55"/><circle cx="490.61" cy="79.10" r="0.55"/><circle cx="497.13" cy="79.67" r="0.55"/><circle cx="496.81" cy="75.23" r="0.55"/><circle cx="495.56" cy="72.03" r="0.55"/><circle cx="483.41" cy="74.20" r="0.55"/><circle cx="494.52" cy="70.38" r="0.55"/><circle cx="483.46" cy="77.49" r="0.55"/><circle cx="494.98" cy="91.91" r="0.55"/><circle cx="490.16" cy="70.56" r="0.55"/><circle cx="485.50" cy="79.14" r="0.55"/><circle cx="484.28" cy="68.86" r="0.55"/><circle cx="496.57" cy="77.29" r="0.55"/><circle cx="493.86" cy="90.13" r="0.55"/><circle cx="490.18" cy="81.40" r="0.55"/><circle cx="495.54" cy="94.87" r="0.55"/><circle cx="489.65" cy="70.14" r="0.55"/><circle cx="492.01" cy="72.72" r="0.55"/><circle cx="496.39" cy="82.18" r="0.55"/><circle cx="494.00" cy="91.95" r="0.55"/><circle cx="490.03" cy="69.76" r="0.55"/><circle cx="495.51" cy="78.49" r="0.55"/><circle cx="491.03" cy="81.89" r="0.55"/><circle cx="494.48" cy="81.97" r="0.55"/><circle cx="484.13" cy="87.62" r="0.55"/><circle cx="485.48" cy="87.71" r="0.55"/><circle cx="489.27" cy="72.90" r="0.55"/><circle cx="496.77" cy="82.00" r="0.55"/><circle cx="486.35" cy="90.53" r="0.55"/><circle cx="483.67" cy="87.33" r="0.55"/><circle cx="495.61" cy="73.87" r="0.55"/><circle cx="483.20" cy="86.11" r="0.55"/><circle cx="487.24" cy="89.33" r="0.55"/><circle cx="489.32" cy="79.10" r="0.55"/><circle cx="489.09" cy="86.95" r="0.55"/><circle cx="488.53" cy="75.54" r="0.55"/><circle cx="486.24" cy="74.90" r="0.55"/><circle cx="483.13" cy="73.66" r="0.55"/><circle cx="489.51" cy="69.56" r="0.55"/><circle cx="493.50" cy="74.63" r="0.55"/><circle cx="491.16" cy="83.06" r="0.55"/><circle cx="489.48" cy="70.66" r="0.55"/><circle cx="485.57" cy="74.38" r="0.55"/><circle cx="484.98" cy="68.69" r="0.55"/><circle cx="485.50" cy="81.18" r="0.55"/><circle cx="485.78" cy="82.82" r="0.55"/><circle cx="482.93" cy="70.83" r="0.55"/><circle cx="493.41" cy="78.94" r="0.55"/><circle cx="493.03" cy="80.38" r="0.55"/><circle cx="485.18" cy="68.91" r="0.55"/><circle cx="488.35" cy="91.49" r="0.55"/><circle cx="483.51" cy="72.47" r="0.55"/><circle cx="483.21" cy="79.97" r="0.55"/><circle cx="497.90" cy="75.70" r="0.55"/><circle cx="490.60" cy="80.72" r="0.55"/><circle cx="493.93" cy="76.14" r="0.55"/><circle cx="494.94" cy="93.33" r="0.55"/><circle cx="496.44" cy="76.24" r="0.55"/><circle cx="488.02" cy="79.05" r="0.55"/><circle cx="484.13" cy="86.01" r="0.55"/><circle cx="492.58" cy="80.60" r="0.55"/><circle cx="484.49" cy="71.88" r="0.55"/><circle cx="482.58" cy="82.48" r="0.55"/><circle cx="488.36" cy="79.89" r="0.55"/><circle cx="484.41" cy="72.50" r="0.55"/><circle cx="487.68" cy="80.67" r="0.55"/><circle cx="493.36" cy="78.79" r="0.55"/><circle cx="484.20" cy="85.92" r="0.55"/><circle cx="488.02" cy="80.90" r="0.55"/></g>
<g fill="#c6d63c"><circle cx="501.77" cy="88.53" r="0.55"/><circle cx="500.52" cy="93.12" r="0.55"/><circle cx="502.85" cy="98.58" r="0.55"/><circle cx="500.83" cy="81.27" r="0.55"/><circle cx="501.44" cy="94.69" r="0.55"/><circle cx="502.18" cy="87.57" r="0.55"/><circle cx="503.64" cy="99.32" r="0.55"/><circle cx="499.88" cy="79.03" r="0.55"/><circle cx="498.86" cy="91.90" r="0.55"/><circle cx="499.86" cy="85.73" r="0.55"/><circle cx="497.36" cy="83.39" r="0.55"/><circle cx="499.99" cy="85.81" r="0.55"/><circle cx="501.90" cy="90.42" r="0.55"/><circle cx="499.45" cy="81.56" r="0.55"/><circle cx="498.49" cy="80.30" r="0.55"/><circle cx="500.96" cy="94.70" r="0.55"/><circle cx="500.79" cy="90.07" r="0.55"/><circle cx="503.24" cy="98.14" r="0.55"/><circle cx="504.23" cy="99.81" r="0.55"/><circle cx="500.07" cy="87.20" r="0.55"/><circle cx="499.61" cy="92.55" r="0.55"/><circle cx="504.28" cy="101.44" r="0.55"/><circle cx="500.86" cy="100.08" r="0.55"/><circle cx="497.72" cy="88.43" r="0.55"/><circle cx="501.48" cy="84.69" r="0.55"/><circle cx="500.03" cy="97.62" r="0.55"/><circle cx="496.90" cy="84.58" r="0.55"/><circle cx="498.89" cy="95.75" r="0.55"/><circle cx="499.59" cy="87.52" r="0.55"/><circle cx="502.45" cy="85.57" r="0.55"/><circle cx="500.35" cy="87.78" r="0.55"/><circle cx="502.14" cy="85.80" r="0.55"/></g>
<g fill="#c6d63c"><circle cx="504.78" cy="61.50" r="0.55"/><circle cx="501.22" cy="73.00" r="0.55"/><circle cx="501.43" cy="67.60" r="0.55"/><circle cx="500.96" cy="77.67" r="0.55"/><circle cx="504.00" cy="60.96" r="0.55"/></g>
<g fill="#c6d63c"><circle cx="490.99" cy="86.74" r="0.5"/><circle cx="494.58" cy="97.19" r="0.5"/><circle cx="503.65" cy="103.06" r="0.5"/><circle cx="498.83" cy="84.32" r="0.5"/><circle cx="483.93" cy="91.62" r="0.5"/><circle cx="496.41" cy="86.19" r="0.5"/><circle cx="499.87" cy="85.52" r="0.5"/><circle cx="493.85" cy="96.99" r="0.5"/><circle cx="498.85" cy="81.57" r="0.5"/><circle cx="496.80" cy="81.32" r="0.5"/><circle cx="488.11" cy="94.19" r="0.5"/><circle cx="492.28" cy="96.37" r="0.5"/><circle cx="486.59" cy="94.05" r="0.5"/><circle cx="496.46" cy="98.31" r="0.5"/><circle cx="504.32" cy="94.95" r="0.5"/><circle cx="504.85" cy="102.79" r="0.5"/><circle cx="496.99" cy="81.19" r="0.5"/><circle cx="498.18" cy="76.42" r="0.5"/><circle cx="497.48" cy="84.57" r="0.5"/><circle cx="497.86" cy="77.31" r="0.5"/><circle cx="483.74" cy="89.61" r="0.5"/><circle cx="483.55" cy="91.79" r="0.5"/><circle cx="498.71" cy="78.02" r="0.5"/><circle cx="494.44" cy="96.36" r="0.5"/><circle cx="491.87" cy="96.19" r="0.5"/><circle cx="503.88" cy="98.34" r="0.5"/><circle cx="502.95" cy="87.53" r="0.5"/><circle cx="496.63" cy="94.84" r="0.5"/><circle cx="497.46" cy="77.45" r="0.5"/><circle cx="504.25" cy="93.70" r="0.5"/></g>
<line x1="163.2" y1="44.4" x2="163.2" y2="125.7" stroke="#1a1a1a" stroke-width="1.5"/>
<line x1="162.5" y1="125.0" x2="243.0" y2="125.0" stroke="#1a1a1a" stroke-width="1.5"/>
<line x1="160.2" y1="46.7" x2="163.2" y2="46.7" stroke="#1a1a1a" stroke-width="1.0"/>
<line x1="160.2" y1="67.5" x2="163.2" y2="67.5" stroke="#1a1a1a" stroke-width="1.0"/>
<line x1="160.2" y1="88.0" x2="163.2" y2="88.0" stroke="#1a1a1a" stroke-width="1.0"/>
<line x1="160.2" y1="108.5" x2="163.2" y2="108.5" stroke="#1a1a1a" stroke-width="1.0"/>
<line x1="168.4" y1="125.0" x2="168.4" y2="128.0" stroke="#1a1a1a" stroke-width="1.0"/>
<line x1="185.8" y1="125.0" x2="185.8" y2="128.0" stroke="#1a1a1a" stroke-width="1.0"/>
<line x1="203.3" y1="125.0" x2="203.3" y2="128.0" stroke="#1a1a1a" stroke-width="1.0"/>
<line x1="220.9" y1="125.0" x2="220.9" y2="128.0" stroke="#1a1a1a" stroke-width="1.0"/>
<line x1="238.4" y1="125.0" x2="238.4" y2="128.0" stroke="#1a1a1a" stroke-width="1.0"/>
<line x1="323.75" y1="45.1" x2="323.75" y2="125.6" stroke="#1a1a1a" stroke-width="1.5"/>
<line x1="323.05" y1="124.9" x2="400.0" y2="124.9" stroke="#1a1a1a" stroke-width="1.5"/>
<line x1="320.75" y1="47.7" x2="323.75" y2="47.7" stroke="#1a1a1a" stroke-width="1.0"/>
<line x1="320.75" y1="68.5" x2="323.75" y2="68.5" stroke="#1a1a1a" stroke-width="1.0"/>
<line x1="320.75" y1="88.7" x2="323.75" y2="88.7" stroke="#1a1a1a" stroke-width="1.0"/>
<line x1="320.75" y1="108.9" x2="323.75" y2="108.9" stroke="#1a1a1a" stroke-width="1.0"/>
<line x1="329.5" y1="124.9" x2="329.5" y2="127.9" stroke="#1a1a1a" stroke-width="1.0"/>
<line x1="346.5" y1="124.9" x2="346.5" y2="127.9" stroke="#1a1a1a" stroke-width="1.0"/>
<line x1="363.6" y1="124.9" x2="363.6" y2="127.9" stroke="#1a1a1a" stroke-width="1.0"/>
<line x1="380.6" y1="124.9" x2="380.6" y2="127.9" stroke="#1a1a1a" stroke-width="1.0"/>
<line x1="397.5" y1="124.9" x2="397.5" y2="127.9" stroke="#1a1a1a" stroke-width="1.0"/>
<line x1="427.9" y1="45.1" x2="427.9" y2="125.6" stroke="#1a1a1a" stroke-width="1.5"/>
<line x1="427.2" y1="124.9" x2="507.9" y2="124.9" stroke="#1a1a1a" stroke-width="1.5"/>
<line x1="424.9" y1="47.4" x2="427.9" y2="47.4" stroke="#1a1a1a" stroke-width="1.0"/>
<line x1="424.9" y1="67.9" x2="427.9" y2="67.9" stroke="#1a1a1a" stroke-width="1.0"/>
<line x1="424.9" y1="88.3" x2="427.9" y2="88.3" stroke="#1a1a1a" stroke-width="1.0"/>
<line x1="424.9" y1="108.4" x2="427.9" y2="108.4" stroke="#1a1a1a" stroke-width="1.0"/>
<line x1="433.5" y1="124.9" x2="433.5" y2="127.9" stroke="#1a1a1a" stroke-width="1.0"/>
<line x1="450.8" y1="124.9" x2="450.8" y2="127.9" stroke="#1a1a1a" stroke-width="1.0"/>
<line x1="468.6" y1="124.9" x2="468.6" y2="127.9" stroke="#1a1a1a" stroke-width="1.0"/>
<line x1="485.9" y1="124.9" x2="485.9" y2="127.9" stroke="#1a1a1a" stroke-width="1.0"/>
<line x1="503.6" y1="124.9" x2="503.6" y2="127.9" stroke="#1a1a1a" stroke-width="1.0"/>
<text x="153.5" y="49.2" font-size="6.8" fill="#222" textLength="3.2" lengthAdjust="spacingAndGlyphs">8</text>
<text x="153.5" y="70.1" font-size="6.8" fill="#222" textLength="3.2" lengthAdjust="spacingAndGlyphs">4</text>
<text x="153.5" y="90.4" font-size="6.8" fill="#222" textLength="3.2" lengthAdjust="spacingAndGlyphs">0</text>
<text x="150.0" y="110.4" font-size="6.8" fill="#222" textLength="6.7" lengthAdjust="spacingAndGlyphs">&#8211;4</text>
<text x="163.3" y="137.2" font-size="6.6" fill="#222" textLength="10.6" lengthAdjust="spacingAndGlyphs">&#8211;10</text>
<text x="182.4" y="137.2" font-size="6.6" fill="#222" textLength="7.4" lengthAdjust="spacingAndGlyphs">&#8211;5</text>
<text x="201.6" y="137.2" font-size="6.6" fill="#222" textLength="3.4" lengthAdjust="spacingAndGlyphs">0</text>
<text x="219.5" y="137.2" font-size="6.6" fill="#222" textLength="3.5" lengthAdjust="spacingAndGlyphs">5</text>
<text x="235.4" y="137.2" font-size="6.6" fill="#222" textLength="6.4" lengthAdjust="spacingAndGlyphs">10</text>
<text x="0" y="0" font-size="6.6" fill="#222" text-anchor="middle" textLength="27.4" lengthAdjust="spacingAndGlyphs" transform="translate(144.1,83.7) rotate(-90)">UMAP_2</text>
<circle cx="252.0" cy="40.30" r="2.1" fill="#df6e68"/>
<text x="258.1" y="42.25" font-size="7.0" fill="#222" textLength="16.1" lengthAdjust="spacingAndGlyphs">SEC-1</text>
<circle cx="252.0" cy="48.95" r="2.1" fill="#d98a26"/>
<text x="258.1" y="50.9" font-size="7.0" fill="#222" textLength="16.3" lengthAdjust="spacingAndGlyphs">SEC-2</text>
<circle cx="252.0" cy="57.60" r="2.1" fill="#5fbfca"/>
<text x="258.1" y="59.55" font-size="7.0" fill="#222" textLength="31.7" lengthAdjust="spacingAndGlyphs"><tspan font-style="italic">Cxcl10</tspan> ECs</text>
<circle cx="252.0" cy="66.25" r="2.1" fill="#b9a12e"/>
<text x="258.1" y="68.2" font-size="7.0" fill="#222" textLength="39.7" lengthAdjust="spacingAndGlyphs">damaged ECs</text>
<circle cx="252.0" cy="74.90" r="2.1" fill="#90be3e"/>
<text x="258.1" y="76.85" font-size="7.0" fill="#222" textLength="32.0" lengthAdjust="spacingAndGlyphs"><tspan font-style="italic">Aqp1</tspan><tspan font-size="3.8" dy="-2.4" font-style="italic" style="stroke:none">hi</tspan><tspan dy="2.4"> ECs</tspan></text>
<circle cx="252.0" cy="83.55" r="2.1" fill="#4ba646"/>
<text x="258.1" y="85.5" font-size="7.0" fill="#222" textLength="12.0" lengthAdjust="spacingAndGlyphs">AEC</text>
<circle cx="252.0" cy="92.20" r="2.1" fill="#b45ab8"/>
<text x="258.1" y="94.15" font-size="7.0" fill="#222" textLength="17.4" lengthAdjust="spacingAndGlyphs">Lepr-1</text>
<circle cx="252.0" cy="100.85" r="2.1" fill="#5aaee6"/>
<text x="258.1" y="102.8" font-size="7.0" fill="#222" textLength="17.8" lengthAdjust="spacingAndGlyphs">Lepr-2</text>
<circle cx="252.0" cy="109.50" r="2.1" fill="#8c6cbe"/>
<text x="258.1" y="111.45" font-size="7.0" fill="#222" textLength="39.3" lengthAdjust="spacingAndGlyphs"><tspan font-style="italic">Vegfa</tspan><tspan font-size="3.8" dy="-2.4" font-style="italic" style="stroke:none">hi</tspan><tspan dy="2.4"> Lepr-2</tspan></text>
<circle cx="252.0" cy="118.15" r="2.1" fill="#d6509c"/>
<text x="258.1" y="120.1" font-size="7.0" fill="#222" textLength="17.6" lengthAdjust="spacingAndGlyphs">Lepr-4</text>
<circle cx="252.0" cy="126.80" r="2.1" fill="#4fae7e"/>
<text x="258.1" y="128.75" font-size="7.0" fill="#222" textLength="22.8" lengthAdjust="spacingAndGlyphs">pericyte</text>
<circle cx="252.0" cy="135.45" r="2.1" fill="#6b82d2"/>
<text x="258.1" y="137.4" font-size="7.0" fill="#222" textLength="26.6" lengthAdjust="spacingAndGlyphs">fibroblast</text>
<path d="M301.1,66.4 L306.0,64.15 L305.65700000000004,66.4 L306.0,68.65 Z" fill="#2f8c3b"/>
<path d="M291.1,76.2 L295.70000000000005,73.8 L295.37800000000004,76.2 L295.70000000000005,78.60000000000001 Z" fill="#1d2c8c"/>
<text x="354.9" y="39.2" font-size="8.2" fill="#111" textLength="16.2" lengthAdjust="spacingAndGlyphs">N-IR</text>
<text x="464.2" y="39.2" font-size="8.2" fill="#111" textLength="7.2" lengthAdjust="spacingAndGlyphs">IR</text>
<path d="M372.5,61.5 L377.1,59.05 L376.778,61.5 L377.1,63.95 Z" fill="#1d2c8c"/>
<path d="M361.6,100.9 L366.40000000000003,98.5 L366.064,100.9 L366.40000000000003,103.30000000000001 Z" fill="#2f8c3b"/>
<path d="M479.2,60.5 L483.8,58.1 L483.478,60.5 L483.8,62.9 Z" fill="#1d2c8c"/>
<path d="M468.9,100.2 L473.59999999999997,97.8 L473.27099999999996,100.2 L473.59999999999997,102.60000000000001 Z" fill="#2f8c3b"/>
<circle cx="375.9" cy="112.6" r="2.1" fill="#5b69b4"/>
<text x="381.2" y="114.8" font-size="6.8" fill="#222" textLength="27.7" lengthAdjust="spacingAndGlyphs">N-IR; <tspan font-style="italic">Vc</tspan><tspan font-size="4.4" dy="-2.6" font-style="italic" style="stroke:none">fl/fl</tspan></text>
<circle cx="375.9" cy="120.8" r="2.1" fill="#e08dd6"/>
<text x="381.2" y="123.1" font-size="6.8" fill="#222" textLength="34.2" lengthAdjust="spacingAndGlyphs">N-IR; <tspan font-style="italic">Vc</tspan><tspan font-size="4.4" dy="-2.6" font-style="italic" style="stroke:none">i&#916;R26</tspan></text>
<circle cx="480.9" cy="110.9" r="2.1" fill="#c6d63c"/>
<text x="486.0" y="112.9" font-size="6.8" fill="#222" textLength="22.1" lengthAdjust="spacingAndGlyphs">IR; <tspan font-style="italic">Vc</tspan><tspan font-size="4.4" dy="-2.6" font-style="italic" style="stroke:none">fl/fl</tspan></text>
<circle cx="480.9" cy="119.7" r="2.1" fill="#e65a4c"/>
<text x="486.0" y="121.8" font-size="6.8" fill="#222" textLength="27.2" lengthAdjust="spacingAndGlyphs">IR; <tspan font-style="italic">Vc</tspan><tspan font-size="4.4" dy="-2.6" font-style="italic" style="stroke:none">i&#916;R26</tspan></text>
<line x1="32.6" y1="193.4" x2="32.6" y2="248.35" stroke="#1a1a1a" stroke-width="1.3"/>
<line x1="31.95" y1="247.7" x2="84.6" y2="247.7" stroke="#1a1a1a" stroke-width="1.3"/>
<line x1="29.7" y1="237.56" x2="32.6" y2="237.56" stroke="#222" stroke-width="0.9"/>
<text x="23.3" y="240.01" font-size="6.9" fill="#222" textLength="3.3" lengthAdjust="spacingAndGlyphs">2</text>
<line x1="29.7" y1="227.22" x2="32.6" y2="227.22" stroke="#222" stroke-width="0.9"/>
<text x="23.3" y="229.67" font-size="6.9" fill="#222" textLength="3.3" lengthAdjust="spacingAndGlyphs">4</text>
<line x1="29.7" y1="216.88" x2="32.6" y2="216.88" stroke="#222" stroke-width="0.9"/>
<text x="23.3" y="219.33" font-size="6.9" fill="#222" textLength="3.3" lengthAdjust="spacingAndGlyphs">6</text>
<line x1="29.7" y1="206.54" x2="32.6" y2="206.54" stroke="#222" stroke-width="0.9"/>
<text x="23.3" y="208.99" font-size="6.9" fill="#222" textLength="3.3" lengthAdjust="spacingAndGlyphs">8</text>
<line x1="29.7" y1="196.2" x2="32.6" y2="196.2" stroke="#222" stroke-width="0.9"/>
<text x="20.0" y="198.65" font-size="6.9" fill="#222" textLength="6.6" lengthAdjust="spacingAndGlyphs">10</text>
<rect x="38.05" y="241.27" width="8.1" height="6.43" fill="#5b66a5" stroke="#4b5690" stroke-width="0.5"/>
<rect x="49.15" y="236.83" width="8.1" height="10.87" fill="#cf8dc5" stroke="#bb7ab2" stroke-width="0.5"/>
<rect x="60.15" y="212.84" width="8.1" height="34.86" fill="#c7cc4d" stroke="#b2b73e" stroke-width="0.5"/>
<rect x="71.2" y="205.24" width="8.1" height="42.46" fill="#d55b4c" stroke="#c0493b" stroke-width="0.5"/>
<line x1="116.8" y1="193.4" x2="116.8" y2="248.15" stroke="#1a1a1a" stroke-width="1.3"/>
<line x1="116.15" y1="247.5" x2="169.5" y2="247.5" stroke="#1a1a1a" stroke-width="1.3"/>
<line x1="113.9" y1="234.9" x2="116.8" y2="234.9" stroke="#222" stroke-width="0.9"/>
<text x="107.6" y="237.35" font-size="6.9" fill="#222" textLength="3.3" lengthAdjust="spacingAndGlyphs">2</text>
<line x1="113.9" y1="222.0" x2="116.8" y2="222.0" stroke="#222" stroke-width="0.9"/>
<text x="107.6" y="224.45" font-size="6.9" fill="#222" textLength="3.3" lengthAdjust="spacingAndGlyphs">4</text>
<line x1="113.9" y1="209.1" x2="116.8" y2="209.1" stroke="#222" stroke-width="0.9"/>
<text x="107.6" y="211.55" font-size="6.9" fill="#222" textLength="3.3" lengthAdjust="spacingAndGlyphs">6</text>
<line x1="113.9" y1="196.2" x2="116.8" y2="196.2" stroke="#222" stroke-width="0.9"/>
<text x="107.6" y="198.65" font-size="6.9" fill="#222" textLength="3.3" lengthAdjust="spacingAndGlyphs">8</text>
<rect x="122.15" y="244.83" width="8.1" height="2.67" fill="#5b66a5" stroke="#4b5690" stroke-width="0.5"/>
<rect x="133.25" y="233.86" width="8.1" height="13.64" fill="#cf8dc5" stroke="#bb7ab2" stroke-width="0.5"/>
<rect x="144.3" y="213.87" width="8.1" height="33.63" fill="#c7cc4d" stroke="#b2b73e" stroke-width="0.5"/>
<rect x="155.4" y="201.29" width="8.1" height="46.21" fill="#d55b4c" stroke="#c0493b" stroke-width="0.5"/>
<line x1="33.4" y1="269.4" x2="33.4" y2="324.65" stroke="#1a1a1a" stroke-width="1.3"/>
<line x1="32.75" y1="324.0" x2="85.7" y2="324.0" stroke="#1a1a1a" stroke-width="1.3"/>
<line x1="30.5" y1="311.0" x2="33.4" y2="311.0" stroke="#222" stroke-width="0.9"/>
<text x="23.8" y="313.45" font-size="6.9" fill="#222" textLength="3.3" lengthAdjust="spacingAndGlyphs">1</text>
<line x1="30.5" y1="298.1" x2="33.4" y2="298.1" stroke="#222" stroke-width="0.9"/>
<text x="23.8" y="300.55" font-size="6.9" fill="#222" textLength="3.3" lengthAdjust="spacingAndGlyphs">2</text>
<line x1="30.5" y1="285.2" x2="33.4" y2="285.2" stroke="#222" stroke-width="0.9"/>
<text x="23.8" y="287.65" font-size="6.9" fill="#222" textLength="3.3" lengthAdjust="spacingAndGlyphs">3</text>
<line x1="30.5" y1="272.3" x2="33.4" y2="272.3" stroke="#222" stroke-width="0.9"/>
<text x="23.8" y="274.75" font-size="6.9" fill="#222" textLength="3.3" lengthAdjust="spacingAndGlyphs">4</text>
<rect x="38.95" y="301.96" width="8.1" height="22.04" fill="#5b66a5" stroke="#4b5690" stroke-width="0.5"/>
<rect x="50.05" y="319.25" width="8.1" height="4.75" fill="#cf8dc5" stroke="#bb7ab2" stroke-width="0.5"/>
<rect x="61.1" y="291.90" width="8.1" height="32.10" fill="#c7cc4d" stroke="#b2b73e" stroke-width="0.5"/>
<rect x="72.15" y="285.45" width="8.1" height="38.55" fill="#d55b4c" stroke="#c0493b" stroke-width="0.5"/>
<line x1="116.8" y1="269.4" x2="116.8" y2="324.65" stroke="#1a1a1a" stroke-width="1.3"/>
<line x1="116.15" y1="324.0" x2="169.6" y2="324.0" stroke="#1a1a1a" stroke-width="1.3"/>
<line x1="113.9" y1="311.0" x2="116.8" y2="311.0" stroke="#222" stroke-width="0.9"/>
<text x="107.6" y="313.45" font-size="6.9" fill="#222" textLength="3.3" lengthAdjust="spacingAndGlyphs">2</text>
<line x1="113.9" y1="298.1" x2="116.8" y2="298.1" stroke="#222" stroke-width="0.9"/>
<text x="107.6" y="300.55" font-size="6.9" fill="#222" textLength="3.3" lengthAdjust="spacingAndGlyphs">4</text>
<line x1="113.9" y1="285.2" x2="116.8" y2="285.2" stroke="#222" stroke-width="0.9"/>
<text x="107.6" y="287.65" font-size="6.9" fill="#222" textLength="3.3" lengthAdjust="spacingAndGlyphs">6</text>
<line x1="113.9" y1="272.3" x2="116.8" y2="272.3" stroke="#222" stroke-width="0.9"/>
<text x="107.6" y="274.75" font-size="6.9" fill="#222" textLength="3.3" lengthAdjust="spacingAndGlyphs">8</text>
<rect x="122.15" y="317.70" width="8.1" height="6.30" fill="#5b66a5" stroke="#4b5690" stroke-width="0.5"/>
<rect x="133.25" y="317.05" width="8.1" height="6.95" fill="#cf8dc5" stroke="#bb7ab2" stroke-width="0.5"/>
<rect x="144.3" y="279.64" width="8.1" height="44.36" fill="#c7cc4d" stroke="#b2b73e" stroke-width="0.5"/>
<rect x="155.4" y="301.57" width="8.1" height="22.43" fill="#d55b4c" stroke="#c0493b" stroke-width="0.5"/>
<text x="32.0" y="187.8" font-size="8.4" fill="#111" textLength="53.1" lengthAdjust="spacingAndGlyphs">damaged ECs</text>
<text x="121.3" y="187.8" font-size="8.4" fill="#111" textLength="43.3" lengthAdjust="spacingAndGlyphs"><tspan font-style="italic">Aqp1</tspan><tspan font-size="5.4" dy="-3.4" font-style="italic" style="stroke:none">hi</tspan><tspan dy="3.4"> ECs</tspan></text>
<text x="38.1" y="263.8" font-size="8.4" fill="#111" textLength="42.6" lengthAdjust="spacingAndGlyphs"><tspan font-style="italic">Cxcl10</tspan> ECs</text>
<text x="115.2" y="263.8" font-size="8.4" fill="#111" textLength="54.5" lengthAdjust="spacingAndGlyphs">ECs in S phase</text>
<text x="0" y="0" font-size="8.0" fill="#222" text-anchor="middle" textLength="35.5" lengthAdjust="spacingAndGlyphs" transform="translate(14.5,220.7) rotate(-90)">% niche cell</text>
<text x="0" y="0" font-size="8.0" fill="#222" text-anchor="middle" textLength="35.5" lengthAdjust="spacingAndGlyphs" transform="translate(102.1,220.7) rotate(-90)">% niche cell</text>
<text x="0" y="0" font-size="8.0" fill="#222" text-anchor="middle" textLength="35.8" lengthAdjust="spacingAndGlyphs" transform="translate(18.2,297.0) rotate(-90)">% niche cell</text>
<text x="0" y="0" font-size="8.0" fill="#222" text-anchor="middle" textLength="25.1" lengthAdjust="spacingAndGlyphs" transform="translate(102.1,296.9) rotate(-90)">% of ECs</text>
<rect x="7.9" y="203.0" width="6.2" height="3.7" fill="#b4b4b4"/>
<rect x="95.7" y="203.0" width="6.2" height="3.9" fill="#b4b4b4"/>
<rect x="58.6" y="338.0" width="4.3" height="4.3" fill="#5b66a5"/>
<text x="65.8" y="342.1" font-size="7.0" fill="#222" textLength="29.6" lengthAdjust="spacingAndGlyphs">N-IR; <tspan font-style="italic">Vc</tspan><tspan font-size="4.3" dy="-2.7" font-style="italic" style="stroke:none">fl/fl</tspan></text>
<rect x="58.6" y="351.4" width="4.3" height="4.3" fill="#cf8dc5"/>
<text x="65.8" y="355.6" font-size="7.0" fill="#222" textLength="34.4" lengthAdjust="spacingAndGlyphs">N-IR; <tspan font-style="italic">Vc</tspan><tspan font-size="4.3" dy="-2.7" font-style="italic" style="stroke:none">i&#916;R26</tspan></text>
<rect x="109.1" y="338.1" width="4.3" height="4.3" fill="#c7cc4d"/>
<text x="116.7" y="342.1" font-size="7.0" fill="#222" textLength="22.4" lengthAdjust="spacingAndGlyphs">IR; <tspan font-style="italic">Vc</tspan><tspan font-size="4.3" dy="-2.7" font-style="italic" style="stroke:none">fl/fl</tspan></text>
<rect x="109.1" y="351.3" width="4.3" height="4.3" fill="#d55b4c"/>
<text x="116.7" y="355.6" font-size="7.0" fill="#222" textLength="27.2" lengthAdjust="spacingAndGlyphs">IR; <tspan font-style="italic">Vc</tspan><tspan font-size="4.3" dy="-2.7" font-style="italic" style="stroke:none">i&#916;R26</tspan></text>
<line x1="236.7" y1="178.25" x2="236.7" y2="218.4" stroke="#111" stroke-width="1.5"/>
<line x1="235.95" y1="217.65" x2="438.2" y2="217.65" stroke="#111" stroke-width="1.5"/>
<line x1="233.9" y1="184.45" x2="236.7" y2="184.45" stroke="#1a1a1a" stroke-width="1.0"/>
<text x="201.1" y="186.6" font-size="6.7" fill="#2a2a2a" textLength="29.2" lengthAdjust="spacingAndGlyphs">N-IR; <tspan font-style="italic">Vc</tspan><tspan font-size="4.4" dy="-2.6" font-style="italic" style="stroke:none">fl/fl</tspan></text>
<circle cx="249.1" cy="184.45" r="3.3" fill="#0000ff"/>
<circle cx="264.15" cy="184.45" r="3.6" fill="#8b79e6"/>
<circle cx="279.2" cy="184.45" r="2.7" fill="#5a3ef0"/>
<circle cx="294.25" cy="184.45" r="1.9" fill="#5a3ef0"/>
<circle cx="309.3" cy="184.45" r="3.8" fill="#0000ff"/>
<circle cx="324.35" cy="184.45" r="0.8" fill="#d2d2d2"/>
<circle cx="339.4" cy="184.45" r="3.8" fill="#0000ff"/>
<circle cx="354.45" cy="184.45" r="3.0" fill="#3a20f6"/>
<circle cx="369.5" cy="184.45" r="3.6" fill="#c2bee2"/>
<circle cx="384.55" cy="184.45" r="3.2" fill="#c2bee2"/>
<circle cx="399.6" cy="184.45" r="3.4" fill="#d2d2d2"/>
<circle cx="414.65" cy="184.45" r="1.7" fill="#c2bee2"/>
<circle cx="429.7" cy="184.45" r="1.5" fill="#c2bee2"/>
<line x1="233.9" y1="193.92" x2="236.7" y2="193.92" stroke="#1a1a1a" stroke-width="1.0"/>
<text x="197.0" y="196.07" font-size="6.7" fill="#2a2a2a" textLength="33.3" lengthAdjust="spacingAndGlyphs">N-IR; <tspan font-style="italic">Vc</tspan><tspan font-size="4.4" dy="-2.6" font-style="italic" style="stroke:none">i&#916;R26</tspan></text>
<circle cx="249.1" cy="193.92" r="2.3" fill="#a092e4"/>
<circle cx="264.15" cy="193.92" r="3.3" fill="#7561ea"/>
<circle cx="279.2" cy="193.92" r="2.1" fill="#8b79e6"/>
<circle cx="294.25" cy="193.92" r="1.3" fill="#8b79e6"/>
<circle cx="309.3" cy="193.92" r="3.1" fill="#8b79e6"/>
<circle cx="324.35" cy="193.92" r="1.0" fill="#a092e4"/>
<circle cx="339.4" cy="193.92" r="3.2" fill="#7561ea"/>
<circle cx="354.45" cy="193.92" r="2.5" fill="#8b79e6"/>
<circle cx="369.5" cy="193.92" r="3.4" fill="#b1a9e2"/>
<circle cx="384.55" cy="193.92" r="3.2" fill="#d2d2d2"/>
<circle cx="399.6" cy="193.92" r="3.8" fill="#a092e4"/>
<circle cx="414.65" cy="193.92" r="2.7" fill="#a092e4"/>
<circle cx="429.7" cy="193.92" r="3.2" fill="#8b79e6"/>
<line x1="233.9" y1="203.39" x2="236.7" y2="203.39" stroke="#1a1a1a" stroke-width="1.0"/>
<text x="207.8" y="205.54" font-size="6.7" fill="#2a2a2a" textLength="22.5" lengthAdjust="spacingAndGlyphs">IR; <tspan font-style="italic">Vc</tspan><tspan font-size="4.4" dy="-2.6" font-style="italic" style="stroke:none">fl/fl</tspan></text>
<circle cx="249.1" cy="203.39" r="2.3" fill="#8b79e6"/>
<circle cx="264.15" cy="203.39" r="3.5" fill="#8b79e6"/>
<circle cx="279.2" cy="203.39" r="2.5" fill="#0000ff"/>
<circle cx="294.25" cy="203.39" r="1.5" fill="#8b79e6"/>
<circle cx="309.3" cy="203.39" r="2.7" fill="#a092e4"/>
<circle cx="324.35" cy="203.39" r="1.1" fill="#0000ff"/>
<circle cx="339.4" cy="203.39" r="3.0" fill="#a092e4"/>
<circle cx="354.45" cy="203.39" r="3.0" fill="#0000ff"/>
<circle cx="369.5" cy="203.39" r="3.2" fill="#b1a9e2"/>
<circle cx="384.55" cy="203.39" r="3.0" fill="#b1a9e2"/>
<circle cx="399.6" cy="203.39" r="3.4" fill="#a092e4"/>
<circle cx="414.65" cy="203.39" r="1.7" fill="#c2bee2"/>
<circle cx="429.7" cy="203.39" r="1.3" fill="#c2bee2"/>
<line x1="233.9" y1="212.86" x2="236.7" y2="212.86" stroke="#1a1a1a" stroke-width="1.0"/>
<text x="204.0" y="215.01" font-size="6.7" fill="#2a2a2a" textLength="26.3" lengthAdjust="spacingAndGlyphs">IR; <tspan font-style="italic">Vc</tspan><tspan font-size="4.4" dy="-2.6" font-style="italic" style="stroke:none">i&#916;R26</tspan></text>
<circle cx="249.1" cy="212.86" r="1.1" fill="#b1a9e2"/>
<circle cx="264.15" cy="212.86" r="3.1" fill="#a092e4"/>
<circle cx="279.2" cy="212.86" r="2.3" fill="#0000ff"/>
<circle cx="294.25" cy="212.86" r="1.9" fill="#3a20f6"/>
<circle cx="309.3" cy="212.86" r="1.9" fill="#b1a9e2"/>
<circle cx="324.35" cy="212.86" r="1.1" fill="#0000ff"/>
<circle cx="339.4" cy="212.86" r="2.5" fill="#c2bee2"/>
<circle cx="354.45" cy="212.86" r="3.0" fill="#3a20f6"/>
<circle cx="369.5" cy="212.86" r="3.0" fill="#c2bee2"/>
<circle cx="384.55" cy="212.86" r="3.2" fill="#b1a9e2"/>
<circle cx="399.6" cy="212.86" r="3.8" fill="#7561ea"/>
<circle cx="414.65" cy="212.86" r="3.2" fill="#b1a9e2"/>
<circle cx="429.7" cy="212.86" r="3.4" fill="#a092e4"/>
<line x1="249.1" y1="217.65" x2="249.1" y2="220.45" stroke="#1a1a1a" stroke-width="0.9"/>
<line x1="264.15" y1="217.65" x2="264.15" y2="220.45" stroke="#1a1a1a" stroke-width="0.9"/>
<line x1="279.2" y1="217.65" x2="279.2" y2="220.45" stroke="#1a1a1a" stroke-width="0.9"/>
<line x1="294.25" y1="217.65" x2="294.25" y2="220.45" stroke="#1a1a1a" stroke-width="0.9"/>
<line x1="309.3" y1="217.65" x2="309.3" y2="220.45" stroke="#1a1a1a" stroke-width="0.9"/>
<line x1="324.35" y1="217.65" x2="324.35" y2="220.45" stroke="#1a1a1a" stroke-width="0.9"/>
<line x1="339.4" y1="217.65" x2="339.4" y2="220.45" stroke="#1a1a1a" stroke-width="0.9"/>
<line x1="354.45" y1="217.65" x2="354.45" y2="220.45" stroke="#1a1a1a" stroke-width="0.9"/>
<line x1="369.5" y1="217.65" x2="369.5" y2="220.45" stroke="#1a1a1a" stroke-width="0.9"/>
<line x1="384.55" y1="217.65" x2="384.55" y2="220.45" stroke="#1a1a1a" stroke-width="0.9"/>
<line x1="399.6" y1="217.65" x2="399.6" y2="220.45" stroke="#1a1a1a" stroke-width="0.9"/>
<line x1="414.65" y1="217.65" x2="414.65" y2="220.45" stroke="#1a1a1a" stroke-width="0.9"/>
<line x1="429.7" y1="217.65" x2="429.7" y2="220.45" stroke="#1a1a1a" stroke-width="0.9"/>
<line x1="236.7" y1="230.65" x2="236.7" y2="270.8" stroke="#111" stroke-width="1.5"/>
<line x1="235.95" y1="270.05" x2="438.2" y2="270.05" stroke="#111" stroke-width="1.5"/>
<line x1="233.9" y1="236.85" x2="236.7" y2="236.85" stroke="#1a1a1a" stroke-width="1.0"/>
<text x="201.1" y="239.0" font-size="6.7" fill="#2a2a2a" textLength="29.2" lengthAdjust="spacingAndGlyphs">N-IR; <tspan font-style="italic">Vc</tspan><tspan font-size="4.4" dy="-2.6" font-style="italic" style="stroke:none">fl/fl</tspan></text>
<circle cx="249.1" cy="236.85" r="1.3" fill="#d2d2d2"/>
<circle cx="264.15" cy="236.85" r="3.5" fill="#a092e4"/>
<circle cx="279.2" cy="236.85" r="1.1" fill="#d2d2d2"/>
<circle cx="294.25" cy="236.85" r="1.0" fill="#d2d2d2"/>
<circle cx="309.3" cy="236.85" r="2.7" fill="#b1a9e2"/>
<circle cx="324.35" cy="236.85" r="0.8" fill="#d2d2d2"/>
<circle cx="339.4" cy="236.85" r="3.0" fill="#7561ea"/>
<circle cx="354.45" cy="236.85" r="1.7" fill="#d2d2d2"/>
<circle cx="369.5" cy="236.85" r="2.8" fill="#a092e4"/>
<circle cx="384.55" cy="236.85" r="3.6" fill="#a092e4"/>
<circle cx="399.6" cy="236.85" r="3.6" fill="#8b79e6"/>
<circle cx="414.65" cy="236.85" r="1.0" fill="#c2bee2"/>
<circle cx="429.7" cy="236.85" r="0.8" fill="#d2d2d2"/>
<line x1="233.9" y1="246.32" x2="236.7" y2="246.32" stroke="#1a1a1a" stroke-width="1.0"/>
<text x="197.0" y="248.47" font-size="6.7" fill="#2a2a2a" textLength="33.3" lengthAdjust="spacingAndGlyphs">N-IR; <tspan font-style="italic">Vc</tspan><tspan font-size="4.4" dy="-2.6" font-style="italic" style="stroke:none">i&#916;R26</tspan></text>
<circle cx="249.1" cy="246.32" r="1.3" fill="#b1a9e2"/>
<circle cx="264.15" cy="246.32" r="3.3" fill="#8b79e6"/>
<circle cx="279.2" cy="246.32" r="1.0" fill="#d2d2d2"/>
<circle cx="294.25" cy="246.32" r="1.9" fill="#5a3ef0"/>
<circle cx="309.3" cy="246.32" r="1.7" fill="#a092e4"/>
<circle cx="324.35" cy="246.32" r="1.0" fill="#a092e4"/>
<circle cx="339.4" cy="246.32" r="3.2" fill="#0000ff"/>
<circle cx="354.45" cy="246.32" r="2.3" fill="#a092e4"/>
<circle cx="369.5" cy="246.32" r="3.6" fill="#a092e4"/>
<circle cx="384.55" cy="246.32" r="3.4" fill="#b1a9e2"/>
<circle cx="399.6" cy="246.32" r="3.4" fill="#8b79e6"/>
<circle cx="414.65" cy="246.32" r="1.9" fill="#b1a9e2"/>
<circle cx="429.7" cy="246.32" r="2.5" fill="#b1a9e2"/>
<line x1="233.9" y1="255.79" x2="236.7" y2="255.79" stroke="#1a1a1a" stroke-width="1.0"/>
<text x="207.8" y="257.94" font-size="6.7" fill="#2a2a2a" textLength="22.5" lengthAdjust="spacingAndGlyphs">IR; <tspan font-style="italic">Vc</tspan><tspan font-size="4.4" dy="-2.6" font-style="italic" style="stroke:none">fl/fl</tspan></text>
<circle cx="249.1" cy="255.79" r="1.7" fill="#8b79e6"/>
<circle cx="264.15" cy="255.79" r="3.5" fill="#7561ea"/>
<circle cx="279.2" cy="255.79" r="1.9" fill="#8b79e6"/>
<circle cx="294.25" cy="255.79" r="1.5" fill="#a092e4"/>
<circle cx="309.3" cy="255.79" r="1.3" fill="#c2bee2"/>
<circle cx="324.35" cy="255.79" r="1.1" fill="#7561ea"/>
<circle cx="339.4" cy="255.79" r="3.2" fill="#b1a9e2"/>
<circle cx="354.45" cy="255.79" r="2.5" fill="#8b79e6"/>
<circle cx="369.5" cy="255.79" r="3.6" fill="#3a20f6"/>
<circle cx="384.55" cy="255.79" r="3.6" fill="#0000ff"/>
<circle cx="399.6" cy="255.79" r="3.6" fill="#5a3ef0"/>
<circle cx="414.65" cy="255.79" r="1.7" fill="#c2bee2"/>
<circle cx="429.7" cy="255.79" r="1.3" fill="#c2bee2"/>
<line x1="233.9" y1="265.26" x2="236.7" y2="265.26" stroke="#1a1a1a" stroke-width="1.0"/>
<text x="204.0" y="267.41" font-size="6.7" fill="#2a2a2a" textLength="26.3" lengthAdjust="spacingAndGlyphs">IR; <tspan font-style="italic">Vc</tspan><tspan font-size="4.4" dy="-2.6" font-style="italic" style="stroke:none">i&#916;R26</tspan></text>
<circle cx="249.1" cy="265.26" r="1.3" fill="#a092e4"/>
<circle cx="264.15" cy="265.26" r="3.1" fill="#8b79e6"/>
<circle cx="279.2" cy="265.26" r="1.5" fill="#8b79e6"/>
<circle cx="294.25" cy="265.26" r="1.0" fill="#d2d2d2"/>
<circle cx="309.3" cy="265.26" r="1.0" fill="#d2d2d2"/>
<circle cx="324.35" cy="265.26" r="1.0" fill="#7561ea"/>
<circle cx="339.4" cy="265.26" r="2.5" fill="#b1a9e2"/>
<circle cx="354.45" cy="265.26" r="2.1" fill="#c2bee2"/>
<circle cx="369.5" cy="265.26" r="3.6" fill="#7561ea"/>
<circle cx="384.55" cy="265.26" r="3.6" fill="#8b79e6"/>
<circle cx="399.6" cy="265.26" r="3.6" fill="#a092e4"/>
<circle cx="414.65" cy="265.26" r="3.4" fill="#5a3ef0"/>
<circle cx="429.7" cy="265.26" r="3.4" fill="#5a3ef0"/>
<line x1="249.1" y1="270.05" x2="249.1" y2="272.85" stroke="#1a1a1a" stroke-width="0.9"/>
<line x1="264.15" y1="270.05" x2="264.15" y2="272.85" stroke="#1a1a1a" stroke-width="0.9"/>
<line x1="279.2" y1="270.05" x2="279.2" y2="272.85" stroke="#1a1a1a" stroke-width="0.9"/>
<line x1="294.25" y1="270.05" x2="294.25" y2="272.85" stroke="#1a1a1a" stroke-width="0.9"/>
<line x1="309.3" y1="270.05" x2="309.3" y2="272.85" stroke="#1a1a1a" stroke-width="0.9"/>
<line x1="324.35" y1="270.05" x2="324.35" y2="272.85" stroke="#1a1a1a" stroke-width="0.9"/>
<line x1="339.4" y1="270.05" x2="339.4" y2="272.85" stroke="#1a1a1a" stroke-width="0.9"/>
<line x1="354.45" y1="270.05" x2="354.45" y2="272.85" stroke="#1a1a1a" stroke-width="0.9"/>
<line x1="369.5" y1="270.05" x2="369.5" y2="272.85" stroke="#1a1a1a" stroke-width="0.9"/>
<line x1="384.55" y1="270.05" x2="384.55" y2="272.85" stroke="#1a1a1a" stroke-width="0.9"/>
<line x1="399.6" y1="270.05" x2="399.6" y2="272.85" stroke="#1a1a1a" stroke-width="0.9"/>
<line x1="414.65" y1="270.05" x2="414.65" y2="272.85" stroke="#1a1a1a" stroke-width="0.9"/>
<line x1="429.7" y1="270.05" x2="429.7" y2="272.85" stroke="#1a1a1a" stroke-width="0.9"/>
<line x1="236.7" y1="283.2" x2="236.7" y2="323.35" stroke="#111" stroke-width="1.5"/>
<line x1="235.95" y1="322.6" x2="438.2" y2="322.6" stroke="#111" stroke-width="1.5"/>
<line x1="233.9" y1="289.4" x2="236.7" y2="289.4" stroke="#1a1a1a" stroke-width="1.0"/>
<text x="201.1" y="291.55" font-size="6.7" fill="#2a2a2a" textLength="29.2" lengthAdjust="spacingAndGlyphs">N-IR; <tspan font-style="italic">Vc</tspan><tspan font-size="4.4" dy="-2.6" font-style="italic" style="stroke:none">fl/fl</tspan></text>
<circle cx="249.1" cy="289.4" r="0.6" fill="#d2d2d2"/>
<circle cx="264.15" cy="289.4" r="1.2" fill="#d2d2d2"/>
<circle cx="279.2" cy="289.4" r="0.8" fill="#7561ea"/>
<circle cx="294.25" cy="289.4" r="0.4" fill="#d2d2d2"/>
<circle cx="309.3" cy="289.4" r="1.0" fill="#7561ea"/>
<circle cx="324.35" cy="289.4" r="0.4" fill="#d2d2d2"/>
<circle cx="339.4" cy="289.4" r="1.1" fill="#8b79e6"/>
<circle cx="354.45" cy="289.4" r="0.8" fill="#a092e4"/>
<circle cx="369.5" cy="289.4" r="1.5" fill="#d2d2d2"/>
<circle cx="384.55" cy="289.4" r="1.7" fill="#d2d2d2"/>
<circle cx="399.6" cy="289.4" r="2.1" fill="#d2d2d2"/>
<circle cx="414.65" cy="289.4" r="0.8" fill="#8b79e6"/>
<circle cx="429.7" cy="289.4" r="0.9" fill="#8b79e6"/>
<line x1="233.9" y1="298.87" x2="236.7" y2="298.87" stroke="#1a1a1a" stroke-width="1.0"/>
<text x="197.0" y="301.02" font-size="6.7" fill="#2a2a2a" textLength="33.3" lengthAdjust="spacingAndGlyphs">N-IR; <tspan font-style="italic">Vc</tspan><tspan font-size="4.4" dy="-2.6" font-style="italic" style="stroke:none">i&#916;R26</tspan></text>
<circle cx="249.1" cy="298.87" r="0.8" fill="#7561ea"/>
<circle cx="264.15" cy="298.87" r="0.5" fill="#d2d2d2"/>
<circle cx="279.2" cy="298.87" r="0.4" fill="#d2d2d2"/>
<circle cx="294.25" cy="298.87" r="0.5" fill="#a092e4"/>
<circle cx="309.3" cy="298.87" r="1.1" fill="#7561ea"/>
<circle cx="324.35" cy="298.87" r="0.3" fill="#d2d2d2"/>
<circle cx="339.4" cy="298.87" r="0.9" fill="#a092e4"/>
<circle cx="354.45" cy="298.87" r="0.5" fill="#d2d2d2"/>
<circle cx="369.5" cy="298.87" r="1.0" fill="#d2d2d2"/>
<circle cx="384.55" cy="298.87" r="1.1" fill="#d2d2d2"/>
<circle cx="399.6" cy="298.87" r="1.3" fill="#d2d2d2"/>
<circle cx="414.65" cy="298.87" r="2.1" fill="#0000ff"/>
<circle cx="429.7" cy="298.87" r="1.9" fill="#3a20f6"/>
<line x1="233.9" y1="308.34" x2="236.7" y2="308.34" stroke="#1a1a1a" stroke-width="1.0"/>
<text x="207.8" y="310.49" font-size="6.7" fill="#2a2a2a" textLength="22.5" lengthAdjust="spacingAndGlyphs">IR; <tspan font-style="italic">Vc</tspan><tspan font-size="4.4" dy="-2.6" font-style="italic" style="stroke:none">fl/fl</tspan></text>
<circle cx="249.1" cy="308.34" r="0.8" fill="#7561ea"/>
<circle cx="264.15" cy="308.34" r="1.2" fill="#d2d2d2"/>
<circle cx="279.2" cy="308.34" r="0.6" fill="#a092e4"/>
<circle cx="294.25" cy="308.34" r="0.4" fill="#d2d2d2"/>
<circle cx="309.3" cy="308.34" r="0.4" fill="#d2d2d2"/>
<circle cx="324.35" cy="308.34" r="0.9" fill="#7561ea"/>
<circle cx="339.4" cy="308.34" r="1.2" fill="#d2d2d2"/>
<circle cx="354.45" cy="308.34" r="1.3" fill="#5a3ef0"/>
<circle cx="369.5" cy="308.34" r="2.5" fill="#a092e4"/>
<circle cx="384.55" cy="308.34" r="2.5" fill="#8b79e6"/>
<circle cx="399.6" cy="308.34" r="2.7" fill="#b1a9e2"/>
<circle cx="414.65" cy="308.34" r="1.1" fill="#8b79e6"/>
<circle cx="429.7" cy="308.34" r="0.8" fill="#a092e4"/>
<line x1="233.9" y1="317.81" x2="236.7" y2="317.81" stroke="#1a1a1a" stroke-width="1.0"/>
<text x="204.0" y="319.96" font-size="6.7" fill="#2a2a2a" textLength="26.3" lengthAdjust="spacingAndGlyphs">IR; <tspan font-style="italic">Vc</tspan><tspan font-size="4.4" dy="-2.6" font-style="italic" style="stroke:none">i&#916;R26</tspan></text>
<circle cx="249.1" cy="317.81" r="0.6" fill="#a092e4"/>
<circle cx="264.15" cy="317.81" r="1.1" fill="#d2d2d2"/>
<circle cx="279.2" cy="317.81" r="0.6" fill="#7561ea"/>
<circle cx="294.25" cy="317.81" r="0.6" fill="#7561ea"/>
<circle cx="309.3" cy="317.81" r="0.3" fill="#d2d2d2"/>
<circle cx="324.35" cy="317.81" r="0.4" fill="#a092e4"/>
<circle cx="339.4" cy="317.81" r="1.1" fill="#d2d2d2"/>
<circle cx="354.45" cy="317.81" r="1.0" fill="#7561ea"/>
<circle cx="369.5" cy="317.81" r="2.1" fill="#a092e4"/>
<circle cx="384.55" cy="317.81" r="2.1" fill="#8b79e6"/>
<circle cx="399.6" cy="317.81" r="2.5" fill="#b1a9e2"/>
<circle cx="414.65" cy="317.81" r="2.7" fill="#3a20f6"/>
<circle cx="429.7" cy="317.81" r="3.2" fill="#0000ff"/>
<line x1="249.1" y1="322.6" x2="249.1" y2="325.4" stroke="#1a1a1a" stroke-width="0.9"/>
<line x1="264.15" y1="322.6" x2="264.15" y2="325.4" stroke="#1a1a1a" stroke-width="0.9"/>
<line x1="279.2" y1="322.6" x2="279.2" y2="325.4" stroke="#1a1a1a" stroke-width="0.9"/>
<line x1="294.25" y1="322.6" x2="294.25" y2="325.4" stroke="#1a1a1a" stroke-width="0.9"/>
<line x1="309.3" y1="322.6" x2="309.3" y2="325.4" stroke="#1a1a1a" stroke-width="0.9"/>
<line x1="324.35" y1="322.6" x2="324.35" y2="325.4" stroke="#1a1a1a" stroke-width="0.9"/>
<line x1="339.4" y1="322.6" x2="339.4" y2="325.4" stroke="#1a1a1a" stroke-width="0.9"/>
<line x1="354.45" y1="322.6" x2="354.45" y2="325.4" stroke="#1a1a1a" stroke-width="0.9"/>
<line x1="369.5" y1="322.6" x2="369.5" y2="325.4" stroke="#1a1a1a" stroke-width="0.9"/>
<line x1="384.55" y1="322.6" x2="384.55" y2="325.4" stroke="#1a1a1a" stroke-width="0.9"/>
<line x1="399.6" y1="322.6" x2="399.6" y2="325.4" stroke="#1a1a1a" stroke-width="0.9"/>
<line x1="414.65" y1="322.6" x2="414.65" y2="325.4" stroke="#1a1a1a" stroke-width="0.9"/>
<line x1="429.7" y1="322.6" x2="429.7" y2="325.4" stroke="#1a1a1a" stroke-width="0.9"/>
<line x1="236.7" y1="335.65" x2="236.7" y2="375.8" stroke="#111" stroke-width="1.5"/>
<line x1="235.95" y1="375.05" x2="438.2" y2="375.05" stroke="#111" stroke-width="1.5"/>
<line x1="233.9" y1="341.85" x2="236.7" y2="341.85" stroke="#1a1a1a" stroke-width="1.0"/>
<text x="201.1" y="344.0" font-size="6.7" fill="#2a2a2a" textLength="29.2" lengthAdjust="spacingAndGlyphs">N-IR; <tspan font-style="italic">Vc</tspan><tspan font-size="4.4" dy="-2.6" font-style="italic" style="stroke:none">fl/fl</tspan></text>
<circle cx="249.1" cy="341.85" r="2.5" fill="#5a3ef0"/>
<circle cx="264.15" cy="341.85" r="3.5" fill="#7561ea"/>
<circle cx="279.2" cy="341.85" r="1.3" fill="#c2bee2"/>
<circle cx="294.25" cy="341.85" r="2.3" fill="#3a20f6"/>
<circle cx="309.3" cy="341.85" r="3.1" fill="#0000ff"/>
<circle cx="324.35" cy="341.85" r="0.8" fill="#a092e4"/>
<circle cx="339.4" cy="341.85" r="3.2" fill="#7561ea"/>
<circle cx="354.45" cy="341.85" r="2.3" fill="#b1a9e2"/>
<circle cx="369.5" cy="341.85" r="3.4" fill="#8b79e6"/>
<circle cx="384.55" cy="341.85" r="3.4" fill="#8b79e6"/>
<circle cx="399.6" cy="341.85" r="3.4" fill="#8b79e6"/>
<circle cx="414.65" cy="341.85" r="1.1" fill="#c2bee2"/>
<circle cx="429.7" cy="341.85" r="1.1" fill="#c2bee2"/>
<line x1="233.9" y1="351.32" x2="236.7" y2="351.32" stroke="#1a1a1a" stroke-width="1.0"/>
<text x="197.0" y="353.47" font-size="6.7" fill="#2a2a2a" textLength="33.3" lengthAdjust="spacingAndGlyphs">N-IR; <tspan font-style="italic">Vc</tspan><tspan font-size="4.4" dy="-2.6" font-style="italic" style="stroke:none">i&#916;R26</tspan></text>
<circle cx="249.1" cy="351.32" r="2.1" fill="#8b79e6"/>
<circle cx="264.15" cy="351.32" r="3.3" fill="#a092e4"/>
<circle cx="279.2" cy="351.32" r="0.8" fill="#d2d2d2"/>
<circle cx="294.25" cy="351.32" r="1.9" fill="#7561ea"/>
<circle cx="309.3" cy="351.32" r="3.1" fill="#7561ea"/>
<circle cx="324.35" cy="351.32" r="0.6" fill="#b1a9e2"/>
<circle cx="339.4" cy="351.32" r="3.2" fill="#7561ea"/>
<circle cx="354.45" cy="351.32" r="2.1" fill="#c2bee2"/>
<circle cx="369.5" cy="351.32" r="3.4" fill="#a092e4"/>
<circle cx="384.55" cy="351.32" r="3.4" fill="#b1a9e2"/>
<circle cx="399.6" cy="351.32" r="3.4" fill="#a092e4"/>
<circle cx="414.65" cy="351.32" r="2.5" fill="#b1a9e2"/>
<circle cx="429.7" cy="351.32" r="2.5" fill="#b1a9e2"/>
<line x1="233.9" y1="360.79" x2="236.7" y2="360.79" stroke="#1a1a1a" stroke-width="1.0"/>
<text x="207.8" y="362.94" font-size="6.7" fill="#2a2a2a" textLength="22.5" lengthAdjust="spacingAndGlyphs">IR; <tspan font-style="italic">Vc</tspan><tspan font-size="4.4" dy="-2.6" font-style="italic" style="stroke:none">fl/fl</tspan></text>
<circle cx="249.1" cy="360.79" r="2.3" fill="#5a3ef0"/>
<circle cx="264.15" cy="360.79" r="3.7" fill="#5a3ef0"/>
<circle cx="279.2" cy="360.79" r="2.1" fill="#8b79e6"/>
<circle cx="294.25" cy="360.79" r="1.9" fill="#a092e4"/>
<circle cx="309.3" cy="360.79" r="2.3" fill="#b1a9e2"/>
<circle cx="324.35" cy="360.79" r="1.3" fill="#3a20f6"/>
<circle cx="339.4" cy="360.79" r="3.0" fill="#b1a9e2"/>
<circle cx="354.45" cy="360.79" r="2.5" fill="#8b79e6"/>
<circle cx="369.5" cy="360.79" r="3.4" fill="#3a20f6"/>
<circle cx="384.55" cy="360.79" r="3.4" fill="#0000ff"/>
<circle cx="399.6" cy="360.79" r="3.4" fill="#5a3ef0"/>
<circle cx="414.65" cy="360.79" r="1.5" fill="#c2bee2"/>
<circle cx="429.7" cy="360.79" r="1.3" fill="#c2bee2"/>
<line x1="233.9" y1="370.26" x2="236.7" y2="370.26" stroke="#1a1a1a" stroke-width="1.0"/>
<text x="204.0" y="372.41" font-size="6.7" fill="#2a2a2a" textLength="26.3" lengthAdjust="spacingAndGlyphs">IR; <tspan font-style="italic">Vc</tspan><tspan font-size="4.4" dy="-2.6" font-style="italic" style="stroke:none">i&#916;R26</tspan></text>
<circle cx="249.1" cy="370.26" r="1.3" fill="#b1a9e2"/>
<circle cx="264.15" cy="370.26" r="3.5" fill="#5a3ef0"/>
<circle cx="279.2" cy="370.26" r="1.5" fill="#a092e4"/>
<circle cx="294.25" cy="370.26" r="1.1" fill="#b1a9e2"/>
<circle cx="309.3" cy="370.26" r="1.1" fill="#c2bee2"/>
<circle cx="324.35" cy="370.26" r="0.8" fill="#7561ea"/>
<circle cx="339.4" cy="370.26" r="2.7" fill="#c2bee2"/>
<circle cx="354.45" cy="370.26" r="2.1" fill="#b1a9e2"/>
<circle cx="369.5" cy="370.26" r="3.4" fill="#5a3ef0"/>
<circle cx="384.55" cy="370.26" r="3.4" fill="#7561ea"/>
<circle cx="399.6" cy="370.26" r="3.4" fill="#8b79e6"/>
<circle cx="414.65" cy="370.26" r="3.3" fill="#3a20f6"/>
<circle cx="429.7" cy="370.26" r="3.35" fill="#0000ff"/>
<line x1="249.1" y1="375.05" x2="249.1" y2="377.85" stroke="#1a1a1a" stroke-width="0.9"/>
<line x1="264.15" y1="375.05" x2="264.15" y2="377.85" stroke="#1a1a1a" stroke-width="0.9"/>
<line x1="279.2" y1="375.05" x2="279.2" y2="377.85" stroke="#1a1a1a" stroke-width="0.9"/>
<line x1="294.25" y1="375.05" x2="294.25" y2="377.85" stroke="#1a1a1a" stroke-width="0.9"/>
<line x1="309.3" y1="375.05" x2="309.3" y2="377.85" stroke="#1a1a1a" stroke-width="0.9"/>
<line x1="324.35" y1="375.05" x2="324.35" y2="377.85" stroke="#1a1a1a" stroke-width="0.9"/>
<line x1="339.4" y1="375.05" x2="339.4" y2="377.85" stroke="#1a1a1a" stroke-width="0.9"/>
<line x1="354.45" y1="375.05" x2="354.45" y2="377.85" stroke="#1a1a1a" stroke-width="0.9"/>
<line x1="369.5" y1="375.05" x2="369.5" y2="377.85" stroke="#1a1a1a" stroke-width="0.9"/>
<line x1="384.55" y1="375.05" x2="384.55" y2="377.85" stroke="#1a1a1a" stroke-width="0.9"/>
<line x1="399.6" y1="375.05" x2="399.6" y2="377.85" stroke="#1a1a1a" stroke-width="0.9"/>
<line x1="414.65" y1="375.05" x2="414.65" y2="377.85" stroke="#1a1a1a" stroke-width="0.9"/>
<line x1="429.7" y1="375.05" x2="429.7" y2="377.85" stroke="#1a1a1a" stroke-width="0.9"/>
<text x="0" y="0" font-size="6.4" fill="#222" text-anchor="middle" textLength="12.4" lengthAdjust="spacingAndGlyphs" transform="translate(443.0,197.6) rotate(90)">AEC</text>
<text x="0" y="0" font-size="6.4" fill="#222" text-anchor="middle" textLength="32.8" lengthAdjust="spacingAndGlyphs" transform="translate(443.0,250.2) rotate(90)"><tspan font-style="italic">Aqp1</tspan><tspan font-size="3.8" dy="-2.3" font-style="italic" style="stroke:none">hi</tspan><tspan dy="2.3"> ECs</tspan></text>
<text x="0" y="0" font-size="6.4" fill="#222" text-anchor="middle" textLength="40.0" lengthAdjust="spacingAndGlyphs" transform="translate(443.0,302.6) rotate(90)">damaged ECs</text>
<text x="0" y="0" font-size="6.4" fill="#222" text-anchor="middle" textLength="14.6" lengthAdjust="spacingAndGlyphs" transform="translate(443.0,355.3) rotate(90)">SECs</text>
<text x="0" y="0" font-size="64" fill="#1a1a1a" font-style="italic" text-anchor="end" transform="translate(251.60,384.9) rotate(-45) scale(0.1)" style="stroke:#1a1a1a;stroke-width:2.6px">Pcna</text>
<text x="0" y="0" font-size="64" fill="#1a1a1a" font-style="italic" text-anchor="end" transform="translate(266.65,384.9) rotate(-45) scale(0.1)" style="stroke:#1a1a1a;stroke-width:2.6px">Notch1</text>
<text x="0" y="0" font-size="64" fill="#1a1a1a" font-style="italic" text-anchor="end" transform="translate(281.70,384.9) rotate(-45) scale(0.1)" style="stroke:#1a1a1a;stroke-width:2.6px">Notch4</text>
<text x="0" y="0" font-size="64" fill="#1a1a1a" font-style="italic" text-anchor="end" transform="translate(296.75,384.9) rotate(-45) scale(0.1)" style="stroke:#1a1a1a;stroke-width:2.6px">Dll4</text>
<text x="0" y="0" font-size="64" fill="#1a1a1a" font-style="italic" text-anchor="end" transform="translate(311.80,384.9) rotate(-45) scale(0.1)" style="stroke:#1a1a1a;stroke-width:2.6px">Hes1</text>
<text x="0" y="0" font-size="64" fill="#1a1a1a" font-style="italic" text-anchor="end" transform="translate(326.85,384.9) rotate(-45) scale(0.1)" style="stroke:#1a1a1a;stroke-width:2.6px">Angpt2</text>
<text x="0" y="0" font-size="64" fill="#1a1a1a" font-style="italic" text-anchor="end" transform="translate(341.90,384.9) rotate(-45) scale(0.1)" style="stroke:#1a1a1a;stroke-width:2.6px">Tek</text>
<text x="0" y="0" font-size="64" fill="#1a1a1a" font-style="italic" text-anchor="end" transform="translate(356.95,384.9) rotate(-45) scale(0.1)" style="stroke:#1a1a1a;stroke-width:2.6px">Sema3f</text>
<text x="0" y="0" font-size="64" fill="#1a1a1a" font-style="italic" text-anchor="end" transform="translate(372.00,384.9) rotate(-45) scale(0.1)" style="stroke:#1a1a1a;stroke-width:2.6px">Thbd</text>
<text x="0" y="0" font-size="64" fill="#1a1a1a" font-style="italic" text-anchor="end" transform="translate(387.05,384.9) rotate(-45) scale(0.1)" style="stroke:#1a1a1a;stroke-width:2.6px">Flt4</text>
<text x="0" y="0" font-size="64" fill="#1a1a1a" font-style="italic" text-anchor="end" transform="translate(402.10,384.9) rotate(-45) scale(0.1)" style="stroke:#1a1a1a;stroke-width:2.6px">Kdr</text>
<text x="0" y="0" font-size="64" fill="#1a1a1a" font-style="italic" text-anchor="end" transform="translate(417.15,384.9) rotate(-45) scale(0.1)" style="stroke:#1a1a1a;stroke-width:2.6px">S100a8</text>
<text x="0" y="0" font-size="64" fill="#1a1a1a" font-style="italic" text-anchor="end" transform="translate(432.20,384.9) rotate(-45) scale(0.1)" style="stroke:#1a1a1a;stroke-width:2.6px">S100a9</text>
<text x="461.8" y="222.7" font-size="6.7" fill="#111" textLength="21.3" lengthAdjust="spacingAndGlyphs">Percent</text>
<text x="458.1" y="230.0" font-size="6.7" fill="#111" textLength="28.6" lengthAdjust="spacingAndGlyphs">Expressed</text>
<circle cx="467.2" cy="238.2" r="0.5" fill="#000"/>
<text x="474.2" y="240.5" font-size="6.5" fill="#111" textLength="3.4" lengthAdjust="spacingAndGlyphs">0</text>
<circle cx="467.2" cy="244.4" r="1.2" fill="#000"/>
<text x="474.2" y="246.6" font-size="6.5" fill="#111" textLength="7.0" lengthAdjust="spacingAndGlyphs">25</text>
<circle cx="467.2" cy="250.3" r="1.95" fill="#000"/>
<text x="474.2" y="252.7" font-size="6.5" fill="#111" textLength="7.0" lengthAdjust="spacingAndGlyphs">50</text>
<circle cx="467.2" cy="256.8" r="2.5" fill="#000"/>
<text x="474.2" y="259.3" font-size="6.5" fill="#111" textLength="7.0" lengthAdjust="spacingAndGlyphs">75</text>
<circle cx="467.2" cy="264.4" r="3.7" fill="#000"/>
<text x="474.2" y="266.6" font-size="6.5" fill="#111" textLength="10.7" lengthAdjust="spacingAndGlyphs">100</text>
<text x="461.0" y="283.5" font-size="6.7" fill="#111" textLength="23.6" lengthAdjust="spacingAndGlyphs">Average</text>
<text x="458.1" y="290.6" font-size="6.7" fill="#111" textLength="30.7" lengthAdjust="spacingAndGlyphs">Expression</text>
<defs><linearGradient id="cb" x1="0" y1="0" x2="0" y2="1"><stop offset="0" stop-color="#0000ff"/><stop offset="0.25" stop-color="#5a3ef0"/><stop offset="0.5" stop-color="#8b79e6"/><stop offset="0.75" stop-color="#b1a9e2"/><stop offset="1" stop-color="#d4d2da"/></linearGradient></defs>
<rect x="466.2" y="297.9" width="7.0" height="34.2" fill="url(#cb)"/>
<line x1="466.2" y1="309.3" x2="467.6" y2="309.3" stroke="#fff" stroke-width="0.6"/>
<line x1="471.8" y1="309.3" x2="473.2" y2="309.3" stroke="#fff" stroke-width="0.6"/>
<line x1="466.2" y1="320.6" x2="467.6" y2="320.6" stroke="#fff" stroke-width="0.6"/>
<line x1="471.8" y1="320.6" x2="473.2" y2="320.6" stroke="#fff" stroke-width="0.6"/>
<text x="476.0" y="301.5" font-size="6.5" fill="#111" textLength="3.6" lengthAdjust="spacingAndGlyphs">2</text>
<text x="476.0" y="312.3" font-size="6.5" fill="#111" textLength="3.6" lengthAdjust="spacingAndGlyphs">1</text>
<text x="476.0" y="322.9" font-size="6.5" fill="#111" textLength="3.6" lengthAdjust="spacingAndGlyphs">0</text>
<text x="476.0" y="333.6" font-size="6.5" fill="#111" textLength="6.2" lengthAdjust="spacingAndGlyphs">&#8211;1</text></svg>
<div id="frame"></div>
</body></html>
